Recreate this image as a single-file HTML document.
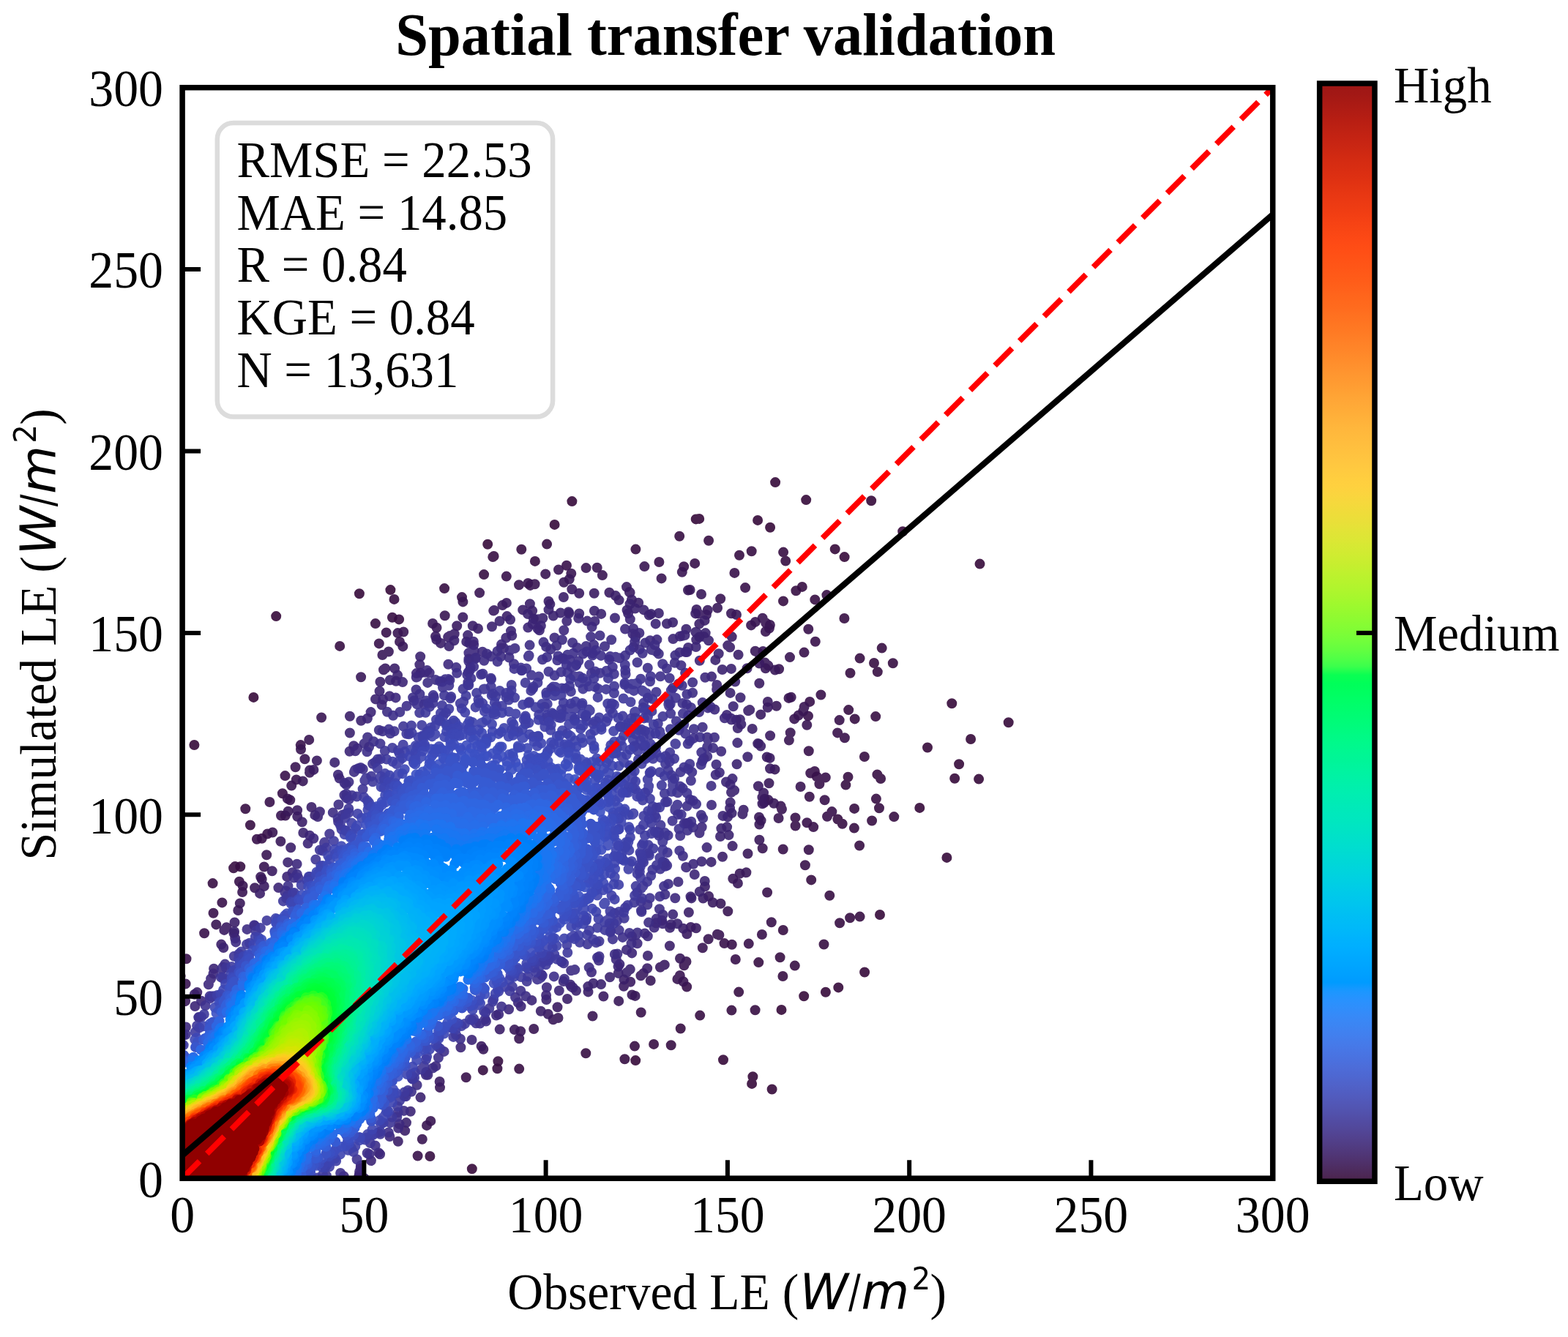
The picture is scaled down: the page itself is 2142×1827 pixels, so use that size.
<!DOCTYPE html>
<html lang="en"><head><meta charset="utf-8"><title>Spatial transfer validation</title>
<style>html,body{margin:0;padding:0;background:#fff}svg{display:block}text{font-family:'Liberation Serif', serif;fill:#000}.t{font-size:70px}.m{font-family:'DejaVu Sans', 'Liberation Sans', sans-serif;font-style:italic}.r{font-family:'DejaVu Sans', 'Liberation Sans', sans-serif;font-style:normal}</style></head><body>
<svg width="2142" height="1827" viewBox="0 0 2142 1827">
<defs><clipPath id="ax"><rect x="249.10" y="119.70" width="1489.60" height="1490.50"/></clipPath>
<linearGradient id="cb" gradientUnits="userSpaceOnUse" x1="0" y1="117.0" x2="0" y2="1611.0">
<stop offset="0.0000" stop-color="#9f1715"/>
<stop offset="0.0078" stop-color="#a21815"/>
<stop offset="0.0156" stop-color="#a91a14"/>
<stop offset="0.0234" stop-color="#b01c14"/>
<stop offset="0.0312" stop-color="#b71e13"/>
<stop offset="0.0391" stop-color="#bd2113"/>
<stop offset="0.0469" stop-color="#c42313"/>
<stop offset="0.0547" stop-color="#c92613"/>
<stop offset="0.0625" stop-color="#cf2912"/>
<stop offset="0.0703" stop-color="#d52c12"/>
<stop offset="0.0781" stop-color="#da2e12"/>
<stop offset="0.0859" stop-color="#df3112"/>
<stop offset="0.0938" stop-color="#e43512"/>
<stop offset="0.1016" stop-color="#e93813"/>
<stop offset="0.1094" stop-color="#ed3b13"/>
<stop offset="0.1172" stop-color="#f13e13"/>
<stop offset="0.1250" stop-color="#f64214"/>
<stop offset="0.1328" stop-color="#f94614"/>
<stop offset="0.1406" stop-color="#fd4915"/>
<stop offset="0.1484" stop-color="#ff4d15"/>
<stop offset="0.1562" stop-color="#ff5116"/>
<stop offset="0.1641" stop-color="#ff5517"/>
<stop offset="0.1719" stop-color="#ff5918"/>
<stop offset="0.1797" stop-color="#ff5d19"/>
<stop offset="0.1875" stop-color="#ff621b"/>
<stop offset="0.1953" stop-color="#ff671c"/>
<stop offset="0.2031" stop-color="#ff6b1e"/>
<stop offset="0.2109" stop-color="#ff7120"/>
<stop offset="0.2188" stop-color="#ff7622"/>
<stop offset="0.2266" stop-color="#ff7b24"/>
<stop offset="0.2344" stop-color="#ff8127"/>
<stop offset="0.2422" stop-color="#ff8629"/>
<stop offset="0.2500" stop-color="#ff8c2b"/>
<stop offset="0.2578" stop-color="#ff912e"/>
<stop offset="0.2656" stop-color="#ff9730"/>
<stop offset="0.2734" stop-color="#ff9c32"/>
<stop offset="0.2812" stop-color="#ffa234"/>
<stop offset="0.2891" stop-color="#ffa737"/>
<stop offset="0.2969" stop-color="#ffac38"/>
<stop offset="0.3047" stop-color="#ffb13a"/>
<stop offset="0.3125" stop-color="#ffb63c"/>
<stop offset="0.3203" stop-color="#ffba3d"/>
<stop offset="0.3281" stop-color="#ffbe3e"/>
<stop offset="0.3359" stop-color="#ffc23f"/>
<stop offset="0.3438" stop-color="#ffc640"/>
<stop offset="0.3516" stop-color="#ffca40"/>
<stop offset="0.3594" stop-color="#ffce3f"/>
<stop offset="0.3672" stop-color="#fed13f"/>
<stop offset="0.3750" stop-color="#fad53e"/>
<stop offset="0.3828" stop-color="#f5d93c"/>
<stop offset="0.3906" stop-color="#efdc3a"/>
<stop offset="0.3984" stop-color="#eadf39"/>
<stop offset="0.4062" stop-color="#e3e337"/>
<stop offset="0.4141" stop-color="#dde635"/>
<stop offset="0.4219" stop-color="#d6e933"/>
<stop offset="0.4297" stop-color="#cfec31"/>
<stop offset="0.4375" stop-color="#c7ee2f"/>
<stop offset="0.4453" stop-color="#bff12e"/>
<stop offset="0.4531" stop-color="#b7f32d"/>
<stop offset="0.4609" stop-color="#aff52d"/>
<stop offset="0.4688" stop-color="#a6f72d"/>
<stop offset="0.4766" stop-color="#9cf92e"/>
<stop offset="0.4844" stop-color="#92fa30"/>
<stop offset="0.4922" stop-color="#88fc33"/>
<stop offset="0.5000" stop-color="#7efd36"/>
<stop offset="0.5078" stop-color="#72fe3b"/>
<stop offset="0.5156" stop-color="#64fe40"/>
<stop offset="0.5234" stop-color="#52ff46"/>
<stop offset="0.5312" stop-color="#3bff4c"/>
<stop offset="0.5391" stop-color="#0aff52"/>
<stop offset="0.5469" stop-color="#00ff59"/>
<stop offset="0.5547" stop-color="#00fe60"/>
<stop offset="0.5625" stop-color="#00fe67"/>
<stop offset="0.5703" stop-color="#00fd6e"/>
<stop offset="0.5781" stop-color="#00fc75"/>
<stop offset="0.5859" stop-color="#00fb7c"/>
<stop offset="0.5938" stop-color="#00fa84"/>
<stop offset="0.6016" stop-color="#00f98b"/>
<stop offset="0.6094" stop-color="#00f792"/>
<stop offset="0.6172" stop-color="#00f598"/>
<stop offset="0.6250" stop-color="#00f49f"/>
<stop offset="0.6328" stop-color="#00f2a5"/>
<stop offset="0.6406" stop-color="#00f0ab"/>
<stop offset="0.6484" stop-color="#00eeb1"/>
<stop offset="0.6562" stop-color="#00ebb6"/>
<stop offset="0.6641" stop-color="#00e9bb"/>
<stop offset="0.6719" stop-color="#00e7bf"/>
<stop offset="0.6797" stop-color="#00e4c4"/>
<stop offset="0.6875" stop-color="#00e1c9"/>
<stop offset="0.6953" stop-color="#00dece"/>
<stop offset="0.7031" stop-color="#00dbd3"/>
<stop offset="0.7109" stop-color="#00d7d8"/>
<stop offset="0.7188" stop-color="#00d4dd"/>
<stop offset="0.7266" stop-color="#00d0e2"/>
<stop offset="0.7344" stop-color="#00cce7"/>
<stop offset="0.7422" stop-color="#00c8eb"/>
<stop offset="0.7500" stop-color="#00c4ef"/>
<stop offset="0.7578" stop-color="#00bff3"/>
<stop offset="0.7656" stop-color="#00bbf7"/>
<stop offset="0.7734" stop-color="#00b7fa"/>
<stop offset="0.7812" stop-color="#00b2fd"/>
<stop offset="0.7891" stop-color="#00aeff"/>
<stop offset="0.7969" stop-color="#00a9ff"/>
<stop offset="0.8047" stop-color="#00a5ff"/>
<stop offset="0.8125" stop-color="#00a0ff"/>
<stop offset="0.8203" stop-color="#009bff"/>
<stop offset="0.8281" stop-color="#1b97ff"/>
<stop offset="0.8359" stop-color="#2892fe"/>
<stop offset="0.8438" stop-color="#308efb"/>
<stop offset="0.8516" stop-color="#3789f7"/>
<stop offset="0.8594" stop-color="#3c85f3"/>
<stop offset="0.8672" stop-color="#4180ef"/>
<stop offset="0.8750" stop-color="#457bea"/>
<stop offset="0.8828" stop-color="#4876e5"/>
<stop offset="0.8906" stop-color="#4a71df"/>
<stop offset="0.8984" stop-color="#4d6cd8"/>
<stop offset="0.9062" stop-color="#4e67d1"/>
<stop offset="0.9141" stop-color="#5062c9"/>
<stop offset="0.9219" stop-color="#515dc1"/>
<stop offset="0.9297" stop-color="#5258b8"/>
<stop offset="0.9375" stop-color="#5253af"/>
<stop offset="0.9453" stop-color="#524da5"/>
<stop offset="0.9531" stop-color="#52489b"/>
<stop offset="0.9609" stop-color="#524290"/>
<stop offset="0.9688" stop-color="#513d84"/>
<stop offset="0.9766" stop-color="#503778"/>
<stop offset="0.9844" stop-color="#4f316b"/>
<stop offset="0.9922" stop-color="#4d2b5d"/>
<stop offset="1.0000" stop-color="#4c254f"/>
</linearGradient></defs>
<rect width="2142" height="1827" fill="#fff"/>
<g clip-path="url(#ax)">
<g fill="none" stroke-width="14" stroke-linecap="round">
<g stroke-opacity=".9">
<path stroke="#350a3a" d="M1338.5 770.6h0M1377.7 987.2h0M265.4 1018h0M1337.1 1064.6h0M1054.6 1488.5h0M1190.2 684.3h0M1233.2 726.2h0M1059.1 659.1h0M781.4 685.1h0M1293.4 1171.9h0M1326.1 1010h0M377.2 842.1h0M1027.1 1480.9h0M346.4 952.9h0M644.8 1597.3h0M1028.4 1471.3h0M1101.2 683.1h0M1310.1 1044.2h0M1304.2 1063.7h0M1181.1 1328.5h0"/>
<path stroke="#350a3a" d="M1300.3 961.3h0M490.9 811.3h0M1145.3 1349.4h0M757.6 716.9h0M666.2 743.7h0M1127.9 1355.8h0M955.2 708.9h0M1035.1 710.9h0M950.7 709.4h0M988 1448.2h0M533.4 806.1h0M1052.1 720.8h0M1202 1250h0M1140.7 750.4h0M1153.6 761.1h0M1256.3 1103.9h0M1098.2 1361.2h0M1267 1021.5h0M1067.5 1379.9h0M868.2 1449.1h0"/>
<path stroke="#360e42" d="M853.4 1447.2h0M538.5 818.9h0M335.3 1105.2h0M1174.6 1252.6h0M709.2 1460.6h0M674.6 760h0M673.3 761h0M1070.1 754.6h0M928.2 732.7h0M712.3 750.8h0M1031.6 1380.2h0M1161.1 1254.2h0M968.1 738.7h0M747.1 743.6h0M800.3 1439.3h0M916.7 1428.3h0M1219.8 906.2h0M1073.2 766.6h0M290.6 1207.1h0M1221.3 1116.1h0"/>
<path stroke="#360e42" d="M1125.5 1290.5h0M1026.7 753.2h0M1147.1 1261.2h0M1204.7 885.6h0M464.2 882.9h0M893.1 1426.9h0M867 1429.6h0M1085.8 1319.6h0M1069.4 1334h0M999.4 1380.6h0M1129.4 813.1h0M1010 758.7h0M341.9 1127.5h0M679.4 1460.2h0M512.9 852.1h0M1194 906h0M1198.8 918.1h0M1153.4 845h0M929.7 1405.5h0M1095.8 801.9h0"/>
<path stroke="#360e42" d="M1201 1104.2h0M1113.3 819.4h0M1191.1 1121.5h0M1203.1 1064h0M607.1 804.1h0M319.1 1186.3h0M1196.9 1091.6h0M1009.2 1355.6h0M321.2 1183.9h0M1065.6 1308.2h0M956.2 1387.6h0M1174.6 899.6h0M587.4 1580h0M1174.1 1155.5h0M1198.4 1058.4h0M1087.4 807.3h0M1196.2 979.1h0M1133.3 1223.7h0M535.9 843.8h0M661.1 785.1h0"/>
<path stroke="#360e42" d="M868.4 750.6h0M1166.9 1131.6h0M1036.3 1315.1h0M1161.5 919.7h0M1180.9 1034h0M1167.1 1104.9h0M328.3 1184.2h0M659.8 1462.4h0M1069.8 1271h0M680.4 1450.2h0M730.9 766.9h0M1167.7 982.4h0M1150.7 1125.8h0M1159.2 970.1h0M1108.2 1202.4h0M545.1 846.4h0M1158.5 1061.8h0M1144.4 1119.5h0M1155.4 1072.6h0M1070 821.4h0"/>
<path stroke="#37114a" d="M368.4 1096h0M350.9 1146.7h0M1003.4 782.9h0M1104.3 859.8h0M1153.9 1008.2h0M1040.9 1277h0M1053.8 1260.2h0M1113.8 876.7h0M1136.4 1109.1h0M1146.7 984.1h0M1130 1115.8h0M1099.9 1182.2h0M1004.8 1311h0M1022.8 1289.6h0M1144.1 1001.4h0M949.2 769.9h0M1104.8 1161.2h0M1126.6 1093.3h0M1111.2 1130.1h0M254.5 1310.3h0"/>
<path stroke="#37114a" d="M1127.8 1062.4h0M527.7 864.4h0M636.7 1472.3h0M246.6 1334.1h0M291.5 1247.8h0M357.7 1145.8h0M303.4 1233.4h0M1119.4 1071.2h0M1121.4 949.5h0M1102.4 1124.2h0M691.8 787.6h0M1018.1 803.1h0M326.9 1204.7h0M1098.5 891.6h0M1115.8 1061.3h0M389.5 1060.1h0M999.8 1290.8h0M900.4 768h0M1048.1 1219.5h0M570.6 1579.5h0"/>
<path stroke="#37114a" d="M1105.8 1088.8h0M934.2 774.2h0M1112.9 1054h0M875.7 1383.5h0M938.2 1348.5h0M774 772.7h0M1086.6 1128.5h0M1107.2 1056.5h0M365.3 1139.5h0M410.7 1018.1h0M1069.7 1160.5h0M631 816.1h0M517.8 879.4h0M1106.2 958.9h0M1086.5 1117.4h0M989.5 1289.1h0M279.1 1275.3h0M385.9 1084.2h0M1104.8 1026.2h0M1104 978.4h0"/>
<path stroke="#381552" d="M1093.6 1075h0M411 1024.1h0M1102.3 990.7h0M763 778.5h0M933.4 1341.3h0M576.8 1556.8h0M588.3 1531.9h0M543.4 865.1h0M931.8 781.7h0M880.4 774.1h0M1098.6 966h0M331.6 1210.5h0M534 1620.9h0M655.1 810.1h0M1079 898.1h0M1051.9 853.9h0M1097.2 971.8h0M800.6 776.1h0M372.3 1137.5h0M403.6 1048.2h0"/>
<path stroke="#381552" d="M1041.7 844.8h0M745.2 784.4h0M815.7 775.8h0M533.2 1619.6h0M1046.2 851.2h0M551.2 863.5h0M1050.9 858.6h0M583 1537.9h0M632.4 822.4h0M709.2 1419.3h0M982.4 1277.8h0M422.2 1010.9h0M1090.8 977.5h0M925.4 1337.9h0M439.1 980.5h0M979.9 1276.8h0M384 1114.5h0M928.8 1333h0M398.2 1073.6h0M253.6 1344.4h0"/>
<path stroke="#381552" d="M364.2 1168.2h0M295.3 1263.4h0M331.1 1219h0M1068 1105.8h0M1045.9 863h0M392.8 1091.4h0M1063.6 1118h0M780.3 783.8h0M1085.2 982.4h0M1080.7 952.8h0M709 799.2h0M1066.6 1101.6h0M1031.8 849.9h0M809.5 1388.5h0M959.8 1295.2h0M721.3 797h0M994.3 1245.2h0M967.7 1283.2h0M1041.7 1159.3h0M404.8 1065.4h0"/>
<path stroke="#381552" d="M1077.5 953.9h0M416.4 1037.2h0M934.5 1319.3h0M1079.7 1001.2h0M396.3 1093.2h0M607.7 841.3h0M1077.9 1011.6h0M1064.1 914.3h0M937.5 1314h0M729.2 1406h0M389.8 1114.6h0M984.2 818.2h0M725.5 798.8h0M903.6 790.4h0M546 876.9h0M360.8 1184.5h0M730.6 798.3h0M724.4 799.9h0M822.9 786.1h0M1026.1 854.4h0"/>
<path stroke="#391859" d="M1019.4 1192.3h0M393.6 1108.8h0M591.1 852h0M522.4 895h0M867.7 1360.9h0M777.7 791.5h0M1057.1 1097.7h0M1058.8 915.5h0M1007.9 1207h0M1037.4 1147.8h0M711.1 1409.3h0M1006 840h0M530.9 890.5h0M958 812h0M493.1 925.3h0M942.6 806h0M845.2 1367.9h0M327.8 1234.4h0M1042.3 890h0M356.2 1198.3h0"/>
<path stroke="#391859" d="M863.5 1359.4h0M770.3 795.7h0M999 838.2h0M755.7 1393.2h0M1010.6 1193.7h0M940 806.5h0M383.4 1149.7h0M762.5 1391h0M1049.5 909.6h0M929 1309.7h0M660.3 1433.7h0M984.5 1234.7h0M413.7 1067.4h0M1021.5 1166.5h0M1045.1 905.6h0M1049.6 1093.1h0M1060.7 964.8h0M1058.5 1051.4h0M1039.6 1121.3h0M348.1 1213.3h0"/>
<path stroke="#391859" d="M1037.4 1126.5h0M601 1486.1h0M980.1 830.7h0M888.7 1340h0M550.3 883.4h0M1045.8 913.3h0M1035.9 892.2h0M1001.3 1200.8h0M357.7 1201.5h0M596.5 857.8h0M702.9 1407.1h0M253.1 1368.1h0M1031.7 889.8h0M423.2 1052.5h0M1043.9 1096.8h0M1037 1116.8h0M1050.5 1070.2h0M1044.5 1091.8h0M423 1055.7h0M325.3 1244h0"/>
<path stroke="#3a1b61" d="M632.3 843.5h0M1041.5 1098.2h0M1037.2 906.5h0M1052 1050.3h0M406.1 1107.3h0M907.8 1318.4h0M1041.4 1089.5h0M1043.1 1083.4h0M950.9 1268.3h0M1051.6 1035.9h0M691.9 823.9h0M901.9 1321.7h0M973.7 1233.3h0M1048.8 958.9h0M856 802.1h0M432.9 1039.4h0M1052.1 1005.2h0M657.6 1429.8h0M781.3 805.3h0M238.7 1398.2h0"/>
<path stroke="#3a1b61" d="M306.3 1270.9h0M428.4 1051.9h0M966.8 833.8h0M686.4 827.1h0M1048.7 966.8h0M309.4 1267.3h0M748.7 1385.7h0M406.2 1115.7h0M371.7 1190.3h0M1047.7 1034.5h0M1037.3 933.7h0M824.4 1361.5h0M675 834h0M938.4 1276.3h0M674.2 834.6h0M600.6 1478h0M624.2 855.3h0M524 915.2h0M526.3 913.4h0M595 869.6h0"/>
<path stroke="#3a1b61" d="M999.7 870.1h0M943.6 1266.9h0M964.9 840h0M852.1 1347.7h0M951.5 833h0M1035.9 1074.3h0M859.9 809h0M875.4 1333.3h0M791.2 810.7h0M861.2 1341.7h0M860.6 809.8h0M878.9 1330.1h0M496.5 1619h0M360.8 1211h0M832.4 809.8h0M811.7 810.7h0M968.1 1224.7h0M1039.2 976.4h0M954.3 838.5h0M761.5 1376.2h0"/>
<path stroke="#3b1f68" d="M769.9 816h0M723.9 825.2h0M884.2 1323.3h0M1039.2 1019.6h0M1020.6 913.3h0M320.5 1260.5h0M950.2 838.4h0M596.3 874h0M738.8 1381.7h0M355.1 1220.9h0M1008.6 894.8h0M1036.9 1016.7h0M749.5 821.8h0M1000.6 1156.1h0M962.6 847.9h0M914.9 1292.5h0M840.9 814.1h0M397.2 1158.2h0M412.7 1123.3h0M682.7 1406.6h0"/>
<path stroke="#3b1f68" d="M933.3 1268.7h0M1035.2 1016.1h0M960.5 1227.5h0M997.1 884.5h0M994.2 882.1h0M477.9 978.7h0M645.8 855.2h0M852.4 1338.6h0M1014.4 1112.4h0M614.5 869.1h0M620.7 866.3h0M265.8 1358.8h0M539.1 913.4h0M714.2 833.4h0M1015.7 1106.8h0M612.1 870.6h0M751.4 825.6h0M863 819.4h0M519.4 931.7h0M987 1170.7h0"/>
<path stroke="#3b1f68" d="M845.6 820.1h0M692.6 842.1h0M955.3 852.6h0M302.3 1290.6h0M425.5 1103h0M775 1365h0M1027.7 995.9h0M872.2 823.8h0M602 878.9h0M497.8 1610.3h0M1024.2 970.1h0M963 1211.6h0M727.2 834.6h0M803.5 1355.4h0M940.9 1246.7h0M543.8 1559.8h0M553.2 1545.1h0M269.3 1356.1h0M1022.2 971.2h0M653 859h0"/>
<path stroke="#3b226f" d="M682.5 848.8h0M860.6 825.3h0M995.5 1141.1h0M963.7 865.1h0M955.8 1218.5h0M721.1 839h0M574.2 897.2h0M856 1329.1h0M749.5 833.1h0M414.3 1138h0M483.9 1616.4h0M1021.3 1034.2h0M393.2 1178.4h0M962.8 1204h0M697.1 846.7h0M925.3 1262.3h0M860.8 1324.6h0M620.4 875.2h0M821 1345.1h0M884.9 1306h0"/>
<path stroke="#3b226f" d="M998.9 913.9h0M639.1 868.1h0M672 856.2h0M532.9 929.3h0M968 875.2h0M961.7 870h0M899.9 838h0M867.6 831.5h0M1011.5 953.3h0M879.4 833.4h0M1004.2 931.5h0M543.1 922.6h0M518.5 944.4h0M981.7 893.2h0M320 1272.9h0M952 864.7h0M993.1 1130.1h0M950.3 863.8h0M457.2 1041.9h0M944.5 1227.4h0"/>
<path stroke="#3b226f" d="M999.6 1111.1h0M971.6 1177.9h0M574.5 1499.6h0M787 1353.8h0M844.6 1329.9h0M803.3 1348.1h0M489.7 1609.6h0M477.9 1001.5h0M613.5 883.1h0M765.8 837.5h0M833.1 1335.3h0M856.5 833.7h0M955.3 870.5h0M915.1 1267.7h0M776.7 836.3h0M889.4 839.1h0M746.4 1366h0M943.5 1225.3h0M319.5 1275.4h0M728.9 845.5h0"/>
<path stroke="#3b226f" d="M430.3 1113.9h0M937.4 859.8h0M1012.4 989.7h0M305.3 1295h0M919.1 850.5h0M810.5 1343.8h0M994.1 1116.3h0M984 1143h0M811.9 834.8h0M916.6 1263.2h0M886.7 840.5h0M1010.9 983.3h0M777.2 838.2h0M755.8 841.5h0M513 955.4h0M997.1 1104.5h0M732 846.6h0M741.4 844.8h0M555 1534.1h0M735.3 846.2h0"/>
<path stroke="#3b226f" d="M1003.1 1080.1h0M791.2 838.5h0M986.7 915h0M637.2 876.9h0M858.1 838.2h0M573.3 908.1h0M997.7 1096.6h0M541 930.8h0M951.2 874.1h0M977.3 901.9h0M985.3 1132.1h0M493.2 984.8h0M490.5 1605.9h0M911 852.2h0M1007.8 995.1h0M1006.6 1044.3h0M821.2 838.9h0M997.6 946.9h0M1005.8 983.8h0M999 1082.8h0"/>
<path stroke="#3c2576" d="M1007.4 1015.1h0M1001.7 965.2h0M782.6 1349.5h0M436.9 1109.3h0M727.5 852.7h0M434.1 1116.1h0M644.5 1421h0M646.8 876.8h0M641.2 879h0M935.5 868.1h0M987.5 1114.9h0M266.4 1375h0M1000.5 1064.1h0M560.8 1518.8h0M919.2 1249.6h0M790.2 844.7h0M780.6 1348.4h0M698 862.2h0M763.8 1353.7h0M932.5 868.8h0"/>
<path stroke="#3c2576" d="M997.5 1072.1h0M746.1 1359.9h0M844.5 1320.8h0M895.7 852.4h0M423.1 1141.7h0M711.6 1375.2h0M506.6 973.1h0M950.7 884h0M721.3 857.6h0M840 844.5h0M860.8 846.3h0M958.5 1177.3h0M774.3 848.8h0M999.1 983.5h0M738.9 854.9h0M928.8 869.5h0M998.4 981.4h0M726.4 1366.9h0M948.8 1195h0M629.4 1431.3h0"/>
<path stroke="#3c2576" d="M523.1 955.7h0M846.4 1317.6h0M501.9 981.7h0M461.9 1058.7h0M647.1 881.2h0M519.1 1577.3h0M292.1 1323.8h0M550 932.1h0M965.6 1158.1h0M905.3 1262.2h0M802.2 848.6h0M491.1 1601h0M569 920.1h0M477.6 1026.7h0M779.1 1345.5h0M812.4 848.9h0M734.6 859.1h0M992 1068.5h0M992.9 976.9h0M699.3 868.6h0"/>
<path stroke="#3c2576" d="M863.2 1302.4h0M420.6 1152.6h0M532.1 951.2h0M979.3 936h0M483.2 1019.2h0M940.1 885h0M691.3 871.7h0M736.9 861.3h0M521.5 963.3h0M972.1 924.6h0M380.4 1213.1h0M574.6 919.6h0M463.7 1063.6h0M321.2 1282.2h0M919.5 873.1h0M904.3 1257.8h0M955.8 902.8h0M392.2 1198h0M506.9 1586.1h0M979.1 942h0"/>
<path stroke="#3d287c" d="M544.1 1541.6h0M989.9 981.3h0M583.4 916h0M884.8 1279.2h0M517.2 1575.3h0M568.7 925.6h0M569.9 925h0M580.7 918.7h0M947.2 1180.8h0M922.3 1227.3h0M893.7 1267.6h0M938.4 891h0M865.2 858.9h0M405.6 1180.7h0M808.6 856.6h0M492.7 1596.2h0M695.1 1379.2h0M640.4 892.3h0M291.5 1330.4h0M647.8 889.8h0"/>
<path stroke="#3d287c" d="M770.3 861.3h0M936.4 891h0M288.1 1337.5h0M254 1403.5h0M905.5 1249.9h0M854 859.6h0M870.6 1289.3h0M808 1328.5h0M841.7 1311.1h0M485.4 1026.2h0M896.2 1261.3h0M455.5 1618.9h0M963.3 925.8h0M428.4 1145.8h0M685 880.6h0M463.9 1613.2h0M284.9 1345.2h0M707.8 1370h0M488.1 1022.7h0M873.4 865h0"/>
<path stroke="#3d287c" d="M982.9 1055.8h0M985.2 1026.8h0M586.7 919.5h0M545.5 1536.1h0M769.7 1341.1h0M399.6 1192.3h0M928.4 891.4h0M897.4 874.1h0M540.5 953.4h0M972 1100h0M612.4 907.8h0M746.9 1349.3h0M880.8 1275.5h0M659.1 890.8h0M275 1367.7h0M855.9 1297.9h0M864.4 866.2h0M681.2 1386h0M532.4 1553h0M976.3 969.5h0"/>
<path stroke="#3d287c" d="M896.6 1255.6h0M937.5 1185.3h0M868.1 868.5h0M595.4 1456.9h0M492.8 1592.8h0M937.1 1185h0M684.5 885.7h0M678 1387.5h0M757.5 871.4h0M977.7 1058.8h0M926.5 1205h0M888.1 875.2h0M958.7 1130.2h0M978.5 1044.7h0M688.2 885.8h0M955.5 1138.3h0M868.2 871h0M469.6 1607.2h0M640.4 900.4h0M584.4 1468.7h0"/>
<path stroke="#3d2c83" d="M771 1337.7h0M862.5 1289.3h0M718.1 1361.2h0M470.7 1070h0M970.6 965.8h0M843.4 1303.5h0M922.4 895.6h0M665.1 893.5h0M819.5 868.5h0M322.2 1287.4h0M502.1 1007.5h0M679.5 889.9h0M649.9 898.7h0M960.2 1118.1h0M971.6 1073.9h0M497.6 1016.1h0M742.5 877.6h0M894.4 881.3h0M976 1007.7h0M807.1 870.1h0"/>
<path stroke="#3d2c83" d="M767.9 874.2h0M723.6 881.6h0M703.4 885.9h0M649.5 900h0M900.9 1242.2h0M528.9 972.7h0M839.8 1303.9h0M591.2 1459.5h0M881.3 878.6h0M967 967.4h0M640.3 903.7h0M804.7 1322.1h0M337.5 1269.9h0M974 1022.1h0M696.7 888.7h0M664 1395.6h0M886.1 1260.6h0M867.2 877.1h0M957.9 1113.8h0M930.4 909.3h0"/>
<path stroke="#3d2c83" d="M835.2 874.3h0M473.1 1072.3h0M623.2 912.1h0M868.5 1277.9h0M670.8 897.1h0M782.1 878.2h0M454.8 1110.4h0M946.1 932.5h0M959.7 960.1h0M936.1 919.6h0M921.8 905.7h0M870.8 1274.5h0M896.4 890.2h0M581.9 1468.8h0M889.8 887.4h0M746.2 883.9h0M890.2 888h0M760.3 882.3h0M568.5 942.4h0M551.8 1517.9h0"/>
<path stroke="#3d2c83" d="M817.9 1312.6h0M908.4 1222.2h0M584.2 932.9h0M476.5 1068.6h0M899.8 893.5h0M932.9 1169.8h0M485.1 1052.1h0M966.9 1010.6h0M483.8 1054.9h0M661.3 902.7h0M684.1 897.2h0M966.1 1007.5h0M863.1 1279.5h0M966.2 1033.7h0M946.7 1130.6h0M966.1 1020.8h0M865.4 884.3h0M594.8 928.9h0M462.5 1099.5h0M811.1 881.1h0"/>
<path stroke="#3d2c83" d="M752.3 887.3h0M873.5 887.4h0M785.2 1325.1h0M800.7 883h0M504.4 1577.3h0M912.9 1207.9h0M946.1 946.8h0M788.4 884.9h0M517.8 997.7h0M470.4 1086.5h0M826.1 883.3h0M250.5 1414.5h0M780.2 1326.2h0M695.5 898.5h0M642.7 911.7h0M504.1 1020.7h0M959.7 993.7h0M955 973.1h0M569.6 1482.8h0M961.6 1036.4h0"/>
<path stroke="#3d2f89" d="M530.8 1547.5h0M489.1 1050.2h0M877.7 892.7h0M647.1 911.1h0M860.7 888.5h0M901.4 1225h0M655.7 1398.5h0M722.6 895.8h0M951.1 1098.7h0M501.4 1027.3h0M944.2 1122.8h0M401.4 1199.5h0M905.2 907.2h0M662.7 1392.7h0M624.2 919.8h0M943.2 1124.5h0M816 1308.5h0M679.6 904h0M721.9 897.1h0M959.4 1039.9h0"/>
<path stroke="#3d2f89" d="M756.8 1334.4h0M818.6 1306.9h0M628.9 1419.7h0M510.4 1013.2h0M939.1 1134.7h0M473.3 1084.9h0M813.9 888.5h0M537 977.8h0M564.1 953.2h0M704 1362.7h0M910.9 913.5h0M957.8 1045.1h0M907.1 1211.1h0M958.3 1028.1h0M582.2 1464.9h0M601.1 931.1h0M928.3 1162.4h0M801.4 890.4h0M405.8 1194.7h0M931.8 936.7h0"/>
<path stroke="#3d2f89" d="M685.1 1375.4h0M608.4 928.2h0M393.5 1210.8h0M956 1007.2h0M783.1 892.8h0M938.4 948.8h0M859.8 1274.9h0M641.8 916.3h0M939.8 1124.7h0M492.7 1049h0M573.4 948.4h0M775.4 894.8h0M747.2 898h0M762.5 896.4h0M347.3 1264.2h0M465.1 1602.9h0M926.9 934.4h0M612.4 927.9h0M796.5 893.5h0M809.7 892.8h0"/>
<path stroke="#3d2f89" d="M946.7 1094.1h0M604.3 931.8h0M944 966.9h0M522.6 999.3h0M854.1 895.7h0M562 1491.8h0M639.6 918.8h0M741.1 901.2h0M850.6 1280.9h0M303 1324.1h0M937 1124.9h0M512.6 1565.4h0M304.5 1321.7h0M473 1090.4h0M598.9 1445.2h0M809.4 895.5h0M546.3 973h0M555.6 964.7h0M768.3 899.7h0M821 895.9h0"/>
<path stroke="#3d2f89" d="M914.7 926.8h0M501.6 1575.8h0M702 907.2h0M614.4 929.4h0M833.5 896.9h0M840.9 897.7h0M938 962.5h0M771 900.7h0M565.5 957.6h0M947.9 996.2h0M761.4 902.2h0M934.6 1125.4h0M833 897.8h0M307.4 1317.6h0M846.4 899.2h0M929.2 1142h0M942.6 1092.6h0M778.4 901.7h0M638.3 922.2h0M870.6 905.3h0"/>
<path stroke="#3d2f89" d="M606.6 1436.9h0M947.5 1008.9h0M253.8 1413.8h0M348.2 1265.1h0M495.8 1050.9h0M940.2 977.8h0M938.6 1101.6h0M884.8 912.7h0M832.2 901.2h0M932.5 961h0M919.1 940.1h0M790.3 903.4h0M902.1 924.3h0M943.9 1066.8h0M945.3 1055.1h0M884.4 1236.2h0M390.7 1217.4h0M711.3 1354h0M911.2 1182.8h0M389.3 1219.4h0"/>
<path stroke="#3e328f" d="M876.4 1246.1h0M927.5 1132.8h0M711.4 912.5h0M542.3 1526.2h0M531.2 996.6h0M773.8 908.5h0M702.5 913.9h0M916.8 943.5h0M938.4 1083.7h0M942.4 1012.5h0M887.7 1227.2h0M853.8 908.5h0M650.3 1398.3h0M659.5 920.8h0M923 953.7h0M908.7 1183.7h0M787.4 908.4h0M719.1 913.5h0M942.2 1043.9h0M933 975.1h0"/>
<path stroke="#3e328f" d="M657.1 921.8h0M876 1244.1h0M605 939.5h0M930.7 1113.1h0M786.2 909.9h0M805.1 908.6h0M735.7 1337.8h0M476.8 1092.2h0M487.6 1584.2h0M780.9 911.4h0M939.9 1050.9h0M613.3 936.7h0M712.9 915.7h0M888.9 924.2h0M939.7 1016.6h0M519.4 1016.3h0M738.5 1336h0M271.3 1390.1h0M461.6 1118.5h0M734 1338.4h0"/>
<path stroke="#3e328f" d="M712.5 916.3h0M837 1283.4h0M643.4 926.9h0M934.2 990.2h0M569.6 962.2h0M908.1 1178.8h0M936.3 1002.5h0M836.8 911.5h0M571.9 961.3h0M480.9 1087h0M906.3 1180.5h0M911.7 1165h0M854.3 916h0M749.5 917.7h0M926.2 1112.9h0M932.6 1077.1h0M271.7 1390.4h0M766.5 918.2h0M591.8 950.1h0M740.8 1333.1h0"/>
<path stroke="#3e328f" d="M888 931.2h0M901.9 1187.6h0M934.5 1048.4h0M913.2 956h0M775.3 919.1h0M905.2 1177.7h0M828.4 916.7h0M915.8 962h0M554.4 1498.3h0M812.9 917.5h0M407.6 1199.7h0M928.2 992.4h0M450.2 1139.5h0M533.2 1002.2h0M581.9 957.4h0M286.7 1361.3h0M639.4 932.2h0M875.2 927.7h0M830.1 918.4h0M854.6 921.4h0"/>
<path stroke="#3e328f" d="M726 922.6h0M280.6 1374h0M925.4 1099.8h0M845.7 1271.1h0M543.6 1520.1h0M913.3 962.4h0M807.9 920h0M757.5 923.1h0M927.5 997.7h0M929 1074.5h0M819.6 919.7h0M923.9 985.4h0M670.6 926.7h0M913.9 964.5h0M838.8 921h0M736 924.5h0M922.3 1107.1h0M922.7 1104.5h0M929.5 1055h0M770.1 1316.2h0"/>
<path stroke="#3e328f" d="M443.5 1151h0M896.5 945.8h0M783.6 924h0M918.6 1121.7h0M592.8 953h0M925.9 1083.3h0M468 1113.4h0M739.6 1331.8h0M791.6 924.3h0M671 928.4h0M462.1 1123.1h0M916.1 975.1h0M875.5 1231.9h0M912.6 1141.4h0M924.9 1082.7h0M538.6 999.3h0M443.1 1152.2h0M509.1 1043.8h0M579.4 962.5h0M639.2 935.8h0"/>
<path stroke="#3e3595" d="M436.9 1161.5h0M870.2 933.7h0M796.2 926.7h0M905.5 1161.3h0M779.2 927.9h0M640.3 936.3h0M811.4 926.9h0M830.9 926.9h0M876.7 1227.3h0M901.3 1172.1h0M866.1 934.8h0M897.1 1182.2h0M923.1 1016.7h0M863.2 934.7h0M308.7 1322.6h0M584.8 961.1h0M922.5 1016.3h0M663.5 1383.6h0M557.4 1489.9h0M853.6 933.3h0"/>
<path stroke="#3e3595" d="M512.6 1041.4h0M801.4 931.4h0M498.3 1066.5h0M500.2 1063.2h0M877.2 943.5h0M883 947.2h0M878.7 944.7h0M607 950.3h0M734.4 933.1h0M921.2 1064h0M905.2 1150.3h0M915.9 996.3h0M906.7 1144.9h0M791.9 933.1h0M908.3 1138.1h0M533 1534.3h0M818.5 1286.3h0M891.2 955.1h0M889.2 1196.8h0M853.3 935.6h0"/>
<path stroke="#3e3595" d="M717.7 933h0M767.3 1314.3h0M921.1 1036.7h0M519.5 1549.7h0M919.2 1073.3h0M632.5 941.6h0M516 1037.4h0M552.3 1498h0M476.3 1104.9h0M301.8 1335.4h0M286.9 1364.4h0M919 1067.1h0M814.4 1288.1h0M719.7 1341.1h0M319.8 1306.7h0M917.4 1081.7h0M891.4 1188.5h0M833.6 1273.8h0M885 953.6h0M852.7 1254.8h0"/>
<path stroke="#3e3595" d="M905.5 979.1h0M766.7 1313.8h0M884.1 1204.9h0M859 940.8h0M778 937.5h0M865.9 943.9h0M472.2 1112.1h0M755.8 938.4h0M839.1 937.7h0M758.6 938.7h0M591.5 960.7h0M834.2 1272.2h0M917.2 1059.3h0M551 992.6h0M804.4 938.1h0M698.7 936h0M487.4 1088.6h0M812.7 938.5h0M767.6 940.4h0M728.6 938.6h0"/>
<path stroke="#3e3595" d="M772.2 940.7h0M915.1 1028.2h0M753.1 941h0M525.8 1025.9h0M668.3 1378.1h0M573.2 974.1h0M911.5 1095.7h0M866.3 1233.3h0M505.9 1562h0M796.4 941.4h0M275 1389.6h0M914.8 1040.8h0M670.7 938.2h0M878.5 1210.8h0M817.2 941.3h0M828 941.9h0M727.9 940.9h0M913.8 1039.1h0M586.8 965.9h0M876.1 1213.8h0"/>
<path stroke="#3e3595" d="M519.7 1037.3h0M758.7 944.7h0M445.9 1606.4h0M912.8 1052.7h0M879.2 960.6h0M779.9 945h0M616.2 952h0M909 1096.1h0M890.4 971.9h0M900 1141.8h0M289.2 1362h0M902.5 1127.6h0M392.3 1223.9h0M495.6 1078.3h0M660.8 941.7h0M662.4 941.6h0M838.9 947.2h0M898.8 988.8h0M431.3 1174.5h0M725.4 943.9h0"/>
<path stroke="#3e3595" d="M900 1137.4h0M746.3 946.6h0M575.3 1461.6h0M884 969.8h0M909.1 1033.3h0M907.9 1084.4h0M842.9 1258.4h0M802.5 1290.2h0M615.3 954.3h0M579.2 1456.7h0M901.3 999.7h0M909 1043.7h0M878.6 966.7h0M623 1414.2h0M870.3 1219.8h0M898.4 1138.3h0M902.2 1003.8h0M507.2 1060.7h0M898.5 1137h0M349.6 1272.2h0"/>
<path stroke="#3e389b" d="M247.4 1426.7h0M766.6 950.2h0M880.7 970.3h0M852 1246.8h0M519.7 1546.6h0M838.5 1261.8h0M464.9 1127.7h0M851.6 954.5h0M698.5 943.5h0M476.4 1110.6h0M440.7 1162.5h0M471.7 1117.8h0M907.6 1060.4h0M757.2 950.8h0M867.1 1223.8h0M892.3 1159.5h0M244.8 1429h0M661.2 1382.1h0M746.7 950.3h0M861.5 959.3h0"/>
<path stroke="#3e389b" d="M696.4 1354.2h0M619.3 1416.9h0M566.1 1472.7h0M581.3 973.8h0M601.4 1433.1h0M893 990.1h0M810.2 1283.7h0M682.6 944h0M885 978.9h0M816.6 952.9h0M386.9 1231.4h0M269.1 1401.7h0M651.1 946.9h0M857.4 1236.9h0M732.2 1328.7h0M826.4 1270.9h0M884.5 980.7h0M515.6 1049.7h0M832.6 1265.2h0M901.1 1103.2h0"/>
<path stroke="#3e389b" d="M903.9 1073.1h0M854.1 1240.5h0M895.3 1002.3h0M543.1 1511.9h0M902.8 1035.4h0M636.6 950.9h0M535.4 1526.6h0M894.7 1136.5h0M886.8 1169.1h0M562 991.5h0M760.8 1310.8h0M691.3 947h0M552.4 1492.5h0M879.8 981.4h0M304.5 1335.2h0M695.5 948.5h0M604 963.9h0M901.4 1055.3h0M786.1 958.7h0M536 1022h0"/>
<path stroke="#3e389b" d="M875.1 1199h0M867.7 972.6h0M563.7 1474.5h0M868.1 973h0M896.1 1117.4h0M885.9 1166.3h0M673.3 947.9h0M867 972.9h0M775.3 1301.8h0M546.2 1503.8h0M835.9 961.3h0M391.2 1227.6h0M291.2 1361.2h0M644.8 1394h0M832.6 1261.8h0M769.8 960.5h0M895.9 1021.2h0M721.1 1334.4h0M278.8 1386h0M868.7 1211.1h0"/>
<path stroke="#3e389b" d="M830.2 961.5h0M896.8 1103.7h0M839 963h0M891.6 1137h0M795.5 960.9h0M896.5 1029.1h0M745.8 1318.2h0M779.8 961.6h0M248 1427.5h0M445.7 1158.5h0M894.5 1114.1h0M886.6 1000.7h0M888 1003.9h0M516.8 1547.4h0M887.7 1003.9h0M647 1391.8h0M845.6 1245.9h0M889.8 1139h0M671.8 950.4h0M703 953.2h0"/>
<path stroke="#3e389b" d="M794.7 963.5h0M364.5 1257.9h0M747.7 961.9h0M883.3 1164.9h0M869.5 982.2h0M563.2 1474.1h0M885.6 1154.7h0M867.7 981.2h0M879.1 1178.4h0M892.4 1025.6h0M677.1 951.6h0M691.3 952.6h0M555.3 1002.8h0M740.3 962.1h0M890.8 1022h0M881.1 999h0M723 959.2h0M873.9 1190.9h0M528.2 1037.5h0M888.4 1016.4h0"/>
<path stroke="#3e389b" d="M326.4 1303.5h0M890.3 1121.6h0M833.5 969.1h0M889.6 1124.7h0M355.8 1268.1h0M862.5 981.5h0M892.1 1036.8h0M781.7 967.6h0M781.8 967.7h0M891.8 1102.1h0M722 960.7h0M877.6 1176.4h0M562.9 1473.6h0M786.3 968.3h0M876 996.7h0M699.8 1348.1h0M744.1 966h0M874.8 1184.3h0M773.8 968.8h0M890.4 1108.1h0"/>
<path stroke="#3e389b" d="M633.2 958.8h0M509.2 1068.3h0M804.5 969.6h0M888.9 1031.6h0M695 956.6h0M870.7 1193.9h0M767 969.6h0M850.7 978.6h0M791.9 1287.8h0M337.1 1290.4h0M837 974.5h0M805.8 971h0M871.9 1189.2h0M873 997.9h0M839.3 1247.8h0M673 1368.8h0M878.9 1007.7h0M653.5 956.3h0M628.8 961.3h0M558.6 1003.3h0"/>
<path stroke="#3e3ba0" d="M731.3 966.3h0M876.6 1172.3h0M329.5 1300.4h0M889.8 1054.1h0M736.4 967.8h0M749.2 1312.9h0M833.7 1252.9h0M886.6 1118.9h0M714.2 962.9h0M305.2 1337.4h0M828.5 1258.1h0M873 1181.9h0M881.2 1018.5h0M884.5 1029.7h0M858.5 988.3h0M888.5 1055h0M826 1260h0M880.8 1018.6h0M737.7 1319.8h0M844.5 981h0"/>
<path stroke="#3e3ba0" d="M887.9 1091.5h0M887.7 1056.3h0M466.6 1133.3h0M562.6 1001.4h0M884 1034.7h0M795.8 975.5h0M497.2 1089.5h0M875.7 1167.2h0M816.1 1267.8h0M613.3 968.8h0M441 1604.9h0M881 1141.7h0M400 1220.4h0M754 974.3h0M878.5 1019.3h0M874.9 1011.7h0M878.7 1152.4h0M885.4 1108.3h0M862.2 995.6h0M602 974.4h0"/>
<path stroke="#3e3ba0" d="M766.6 976.1h0M868.2 1003.3h0M800.7 977.3h0M576.2 991h0M886.2 1074.2h0M749.6 1311h0M854.5 991h0M756 976h0M830.3 981.1h0M675.8 959.9h0M877 1155.3h0M755.5 976.4h0M881.9 1037h0M874.5 1165.1h0M802 1277.2h0M885.2 1079.4h0M884.8 1065.1h0M455.9 1149.3h0M635 1399h0M654.4 960.7h0"/>
<path stroke="#3e3ba0" d="M818.5 980.5h0M800.1 979.3h0M753.5 977.3h0M771.2 978.8h0M641.9 1393h0M756.9 978h0M482.8 1574.1h0M854.8 995.1h0M659.2 961.1h0M781.6 979.8h0M861.1 1000.9h0M747.5 977.2h0M818.7 981.9h0M582 1447.8h0M509.7 1550.9h0M543.8 1025.6h0M566.9 1465.4h0M762.5 980.3h0M847.6 992.7h0M550.7 1017.8h0"/>
<path stroke="#3e3ba0" d="M246.6 1431.1h0M674.2 1365.7h0M736.2 976.7h0M609.2 973.9h0M879 1127.3h0M765.7 981h0M847 993.2h0M754.1 1306.6h0M828.1 986h0M785.1 982.1h0M743.2 1313.5h0M685.8 964.8h0M865.6 1011.8h0M864.7 1010.8h0M316.5 1321.1h0M757.2 1304.2h0M833.5 1245.3h0M881.2 1083.3h0M879.4 1115h0M729.7 1322.4h0"/>
<path stroke="#3e3ba0" d="M630.4 1402h0M747.1 980.7h0M814.8 985.6h0M740.8 1314.6h0M266.8 1410.3h0M805.3 1271.7h0M812.6 985.9h0M871.3 1026.2h0M630.8 968.2h0M801.5 985h0M711.9 1335h0M876.6 1043.7h0M868.4 1020.6h0M402 1219.9h0M748.9 981.9h0M678.2 965.3h0M804.9 1271.5h0M875.2 1039.6h0M785.3 984.8h0M598.1 1430.4h0"/>
<path stroke="#3e3ba0" d="M866.5 1019.4h0M250.7 1428.1h0M605.7 978h0M520.6 1060.8h0M341 1288.7h0M596 983.5h0M865.7 1020.9h0M878.2 1093.1h0M649.6 966.4h0M877.9 1093.6h0M874.2 1133.5h0M852 1005.4h0M871.9 1037.9h0M810.5 989.2h0M743.2 984.5h0M774.4 1291h0M433.6 1609.5h0M750.6 1306.5h0M717.8 978.6h0M519.2 1064.4h0"/>
<path stroke="#3e3ea6" d="M735.6 983.7h0M750 986.6h0M536.3 1040.8h0M838.2 999.1h0M695.4 972.6h0M787 989.5h0M545.5 1029.3h0M821.4 993.4h0M704.5 975.4h0M411.7 1209.5h0M792.8 990.3h0M664.4 968.4h0M507.8 1550.6h0M875.3 1088.4h0M777.3 990.1h0M348.9 1280.3h0M796.7 991.5h0M784.6 1283h0M862.8 1177h0M785.4 1282.3h0"/>
<path stroke="#3e3ea6" d="M450 1594.3h0M674.9 970h0M600.4 984h0M717.7 981.1h0M839.7 1228.9h0M860.8 1024.5h0M817.6 1255.4h0M790.5 1278.1h0M821.6 996.9h0M526 1057.1h0M858.5 1187.8h0M718.3 982.7h0M752.8 990.7h0M523.6 1534.4h0M421.8 1198h0M583.1 1443.7h0M847.9 1012.2h0M685.7 974h0M860.1 1179.7h0M622.7 1406.4h0"/>
<path stroke="#3e3ea6" d="M715.7 983.4h0M601.5 985.4h0M635.3 973.6h0M871.7 1083.5h0M326.1 1309.7h0M498.8 1557.6h0M272.5 1404.3h0M812.2 998.2h0M662 972.1h0M793.2 995.9h0M675.4 973.4h0M588.3 994.2h0M866.8 1053.7h0M722.5 987.7h0M870.3 1088.4h0M849.8 1019.5h0M744.4 993.2h0M571.6 1007.4h0M673.5 974.5h0M488.6 1111.9h0"/>
<path stroke="#3e3ea6" d="M868.1 1067.7h0M459.1 1586.5h0M501.9 1094.1h0M594 992h0M855.8 1031.3h0M721.4 1323.7h0M676.7 976.3h0M839.2 1013.4h0M689.9 1348.6h0M553 1027.1h0M867.6 1078.1h0M561.5 1468.1h0M674.5 976.5h0M768.2 998.2h0M583.3 999.9h0M423.2 1197.9h0M862 1049.1h0M551.6 1029.2h0M845.2 1208.9h0M717.8 989.6h0"/>
<path stroke="#3e3ea6" d="M296.8 1360h0M585.4 998.8h0M860.5 1046.1h0M752.1 997.7h0M746.1 1305.1h0M783.6 1278.8h0M862 1051.8h0M480.4 1124.5h0M472.2 1135.3h0M806.7 1003.3h0M780.3 1280.9h0M577.5 1005.3h0M241.7 1437.6h0M863.2 1059.6h0M864.2 1065.2h0M859.4 1161.9h0M524.6 1064.6h0M731.1 1315.4h0M419.5 1203h0M500.2 1554.7h0"/>
<path stroke="#3e3ea6" d="M835.5 1223.8h0M842.7 1022h0M865.4 1111.6h0M472.7 1135.1h0M681.2 1354.8h0M864.5 1075.7h0M520.1 1536.2h0M699.2 986.4h0M579.9 1005h0M774.7 1002.4h0M485.3 1566.6h0M541.6 1044h0M860.9 1144h0M834.4 1018.2h0M741.5 1306.8h0M863.6 1113.1h0M849.3 1034.3h0M545.8 1039.4h0M619.7 984.8h0M852.7 1041.8h0"/>
<path stroke="#3d41ab" d="M826.4 1233.8h0M825.2 1235.3h0M858.4 1150.5h0M676.7 1357.7h0M701.5 989.9h0M587 1001.8h0M860.7 1133.7h0M549.7 1035.9h0M581.4 1005.8h0M778.5 1005.3h0M444 1595.6h0M852.4 1176.1h0M857 1155.1h0M764.5 1005h0M577.9 1009.1h0M760.4 1292.2h0M779.7 1006.2h0M841.9 1029.4h0M837.7 1025.4h0M610.8 989.9h0"/>
<path stroke="#3d41ab" d="M561.2 1024.6h0M794.1 1008.8h0M760.8 1005.9h0M807.5 1011.7h0M814.3 1246.1h0M567.8 1019h0M859.1 1130h0M713.4 997.1h0M526.1 1067.3h0M532.1 1059.5h0M470.7 1140.3h0M858.7 1075.8h0M617 988.8h0M609.9 991.6h0M797 1262.6h0M622.2 987.3h0M718.8 1322h0M838.4 1208.2h0M664.6 983.7h0M504.2 1096.9h0"/>
<path stroke="#3d41ab" d="M832.8 1025.3h0M850.4 1174.2h0M837.5 1029.7h0M854 1158.8h0M855.2 1151.1h0M520.6 1075.4h0M480 1568.9h0M754.7 1294.6h0M858 1083.1h0M595.5 1427.3h0M448.3 1169.5h0M858.7 1113.4h0M770.9 1282.4h0M800.7 1257.8h0M853.7 1063.2h0M735.1 1005.8h0M701.9 1334.9h0M475.6 1571.8h0M849.5 1171.8h0M723.3 1003.5h0"/>
<path stroke="#3d41ab" d="M852.8 1156.6h0M641.3 985.5h0M785.6 1011.9h0M729.1 1313h0M735.5 1006.7h0M530.9 1518.9h0M446.2 1592.2h0M800.3 1257h0M845.4 1046.8h0M848.3 1172.8h0M707.8 999.9h0M847.8 1173.9h0M839.7 1198.5h0M699 996.9h0M438.2 1183.2h0M570 1020.7h0M855.2 1082.8h0M795.8 1014.9h0M728.4 1006.7h0M811.4 1019.3h0"/>
<path stroke="#3d41ab" d="M502.1 1550.1h0M645.3 986.9h0M849 1166.9h0M659.5 987.2h0M315.8 1330h0M503.4 1100.5h0M852.8 1072.4h0M645.7 987.2h0M594.4 1003.4h0M457.7 1583.3h0M376.6 1255.1h0M672 989.7h0M702.1 999.7h0M590.3 1006.4h0M688.6 995h0M695.6 1338.9h0M657.4 988.1h0M801.3 1253.8h0M426.5 1611.1h0M353.2 1281.2h0"/>
<path stroke="#3d44b0" d="M830.4 1213.7h0M763.6 1014.1h0M680.1 1351.8h0M535.8 1506.6h0M457.1 1160.7h0M618.1 1405.2h0M639.8 989.7h0M638.8 989.8h0M559.5 1033.5h0M726.8 1312.9h0M541.4 1493.8h0M421.8 1204.5h0M829.1 1034.1h0M811.8 1023.7h0M853.4 1105.6h0M625.8 1398.4h0M398.1 1232.2h0M831.6 1037.2h0M787.7 1264.9h0M491 1558.3h0"/>
<path stroke="#3d44b0" d="M739.9 1302.4h0M586.8 1434h0M753.1 1014.5h0M449.9 1587.9h0M626.5 992.8h0M432.5 1191.8h0M848 1068.2h0M845.9 1062.3h0M840.1 1187.3h0M464.8 1577.4h0M712.9 1007.5h0M576 1019.5h0M850.6 1083.2h0M618.1 995.8h0M714.8 1008.3h0M852.2 1109.1h0M530.5 1068.5h0M775.9 1017.6h0M332.7 1306.8h0M771.4 1017.2h0"/>
<path stroke="#3d44b0" d="M844.4 1170.6h0M508.5 1543.5h0M836.5 1046.6h0M319.6 1325.7h0M579.9 1017.3h0M610 999.6h0M524.5 1076.6h0M809 1241.7h0M619.1 1403.6h0M729.5 1013.2h0M567.6 1027.8h0M790.4 1260.8h0M700.8 1004.8h0M756.4 1017h0M775.7 1018.8h0M787.6 1020.4h0M842.8 1060.9h0M739.3 1015.7h0M728.9 1309.7h0M529 1519.5h0"/>
<path stroke="#3d44b0" d="M308.1 1345.1h0M656 1371.3h0M626 995.6h0M684.7 1000.1h0M616.3 998.7h0M346.2 1290.6h0M449 1587.6h0M779.4 1021h0M327.8 1314.4h0M849.4 1117.3h0M703.4 1330h0M774.3 1020.9h0M828.5 1042.3h0M824.2 1216.3h0M653.2 1373.2h0M719.3 1316.6h0M839.3 1179h0M848.5 1123.7h0M797.7 1251.4h0M645.5 1379.9h0"/>
<path stroke="#3d44b0" d="M844.6 1155.6h0M834.3 1193.6h0M526.8 1522.5h0M502.4 1106.7h0M439.7 1594.7h0M556.1 1468.1h0M747.6 1293.7h0M441.1 1183h0M640 995.4h0M844.8 1077.9h0M694.8 1006.6h0M846.5 1089.6h0M397.5 1234.7h0M580.6 1020.4h0M301.4 1358.6h0M494 1117.8h0M672.7 999.6h0M523.2 1527.1h0M438.7 1186.4h0M278.3 1402.3h0"/>
<path stroke="#3d44b0" d="M840.7 1167.6h0M567.9 1031.7h0M840.1 1067h0M533.4 1069.3h0M681 1002.9h0M320.2 1326.4h0M841.7 1161.6h0M733.9 1019.6h0M843.2 1152.7h0M780.3 1265.9h0M563.6 1457.6h0M644.4 997h0M845.6 1132.9h0M653.9 997.3h0M640.2 997.3h0M619.4 1001.2h0M815.2 1036.5h0M846.3 1109.5h0M639.2 997.5h0M842.9 1151.5h0"/>
<path stroke="#3d44b0" d="M703.6 1328.3h0M845 1133.5h0M616.4 1404.2h0M838.9 1170.1h0M544.2 1057.6h0M819.2 1040.4h0M707.9 1324.6h0M540.3 1062.3h0M319.3 1328.3h0M334.6 1306.5h0M845.5 1118.7h0M731.3 1305.1h0M599.4 1419.3h0M544.9 1057.2h0M751.5 1023.3h0M697.6 1333.1h0M533 1071.2h0M441.8 1591.7h0M607.3 1007h0M815.9 1223.5h0"/>
<path stroke="#3d47b5" d="M832 1056.4h0M492.1 1554.6h0M606.6 1412.6h0M844.6 1102.8h0M726.1 1309h0M305.3 1352.4h0M432 1195.6h0M618.2 1003.6h0M379.1 1255.9h0M508.3 1102.2h0M838.6 1073.4h0M824.3 1206.6h0M577.4 1026.6h0M644.3 999.9h0M776.6 1027.5h0M829.3 1055.4h0M623.3 1002.9h0M763.7 1026.3h0M623.1 1397.5h0M686.3 1342.2h0"/>
<path stroke="#3d47b5" d="M658.2 1001.4h0M832.3 1185.3h0M757.8 1282.4h0M538.4 1494.2h0M825.1 1050.6h0M701.4 1329h0M528.3 1517.3h0M785.9 1030.2h0M487.8 1128.2h0M623.1 1003.8h0M776.4 1028.8h0M486.8 1129.7h0M836.4 1072.8h0M437 1190.4h0M720.5 1022.2h0M552.7 1051.2h0M565 1039h0M518.5 1531h0M748.1 1026.6h0M766.3 1028.4h0"/>
<path stroke="#3d47b5" d="M266.2 1420.6h0M707.8 1019.5h0M842 1117.3h0M753.8 1284.6h0M840.4 1094.8h0M569.2 1448.8h0M754.2 1284h0M710.9 1021.3h0M293.4 1376.7h0M631.4 1004.2h0M808.6 1041.3h0M327.2 1318.3h0M670.5 1007.5h0M839.3 1093.4h0M450.7 1174.5h0M830.9 1066h0M567.4 1038.4h0M268.5 1418.3h0M620.8 1006.8h0M839 1143h0"/>
<path stroke="#3d47b5" d="M798.1 1241.6h0M627.6 1005.5h0M784.9 1255.9h0M839.7 1133.9h0M707.8 1021.8h0M704.8 1324.6h0M400.6 1233.8h0M242.9 1441.7h0M485.8 1132.4h0M747.7 1029.3h0M796.1 1243.2h0M829.9 1181.9h0M549.7 1057.2h0M835.7 1083h0M825.2 1194.9h0M649.5 1005.3h0M490.4 1554h0M815.5 1214.7h0M813.9 1047.8h0M354.2 1284.9h0"/>
<path stroke="#3d47b5" d="M466.4 1156.2h0M706.7 1322.5h0M755.1 1281.7h0M837.8 1140.8h0M614.2 1010.6h0M784.1 1255.4h0M588.8 1023.4h0M838.2 1136h0M574.9 1033.7h0M564.9 1042.6h0M813.9 1216.9h0M792.9 1037.5h0M786.5 1035.7h0M838.3 1113.9h0M664.6 1009.4h0M571 1037.7h0M458 1166.8h0M533.4 1076.9h0M800.1 1041.4h0M575.7 1034h0"/>
<path stroke="#3d47b5" d="M480.9 1139.5h0M837.8 1121.1h0M421.9 1611h0M837.5 1110.7h0M665.4 1010.4h0M642.6 1007.2h0M787.6 1037.5h0M599.6 1416.4h0M830.3 1173.2h0M816.7 1209.2h0M827.4 1069.6h0M540 1070.3h0M816.4 1209h0M801.3 1043.6h0M826.7 1182.9h0M526.2 1086.7h0M534.7 1498.1h0M834.1 1093.9h0M599.8 1019.9h0M804.5 1227.7h0"/>
<path stroke="#3c4aba" d="M815.7 1208.7h0M809.1 1220.5h0M421.2 1211.8h0M818.6 1058.7h0M782.1 1254.3h0M744.3 1033.6h0M472.1 1566.3h0M835.6 1118.7h0M594.6 1023.4h0M654.3 1367.3h0M685.5 1020.5h0M479.2 1142.8h0M582.4 1432.2h0M804.8 1226.1h0M781.1 1254.7h0M476.6 1562.9h0M500.7 1117.5h0M722.1 1032.1h0M729.3 1033.1h0M834.9 1122.7h0"/>
<path stroke="#3c4aba" d="M776.2 1038.3h0M567.3 1044.4h0M826.3 1178.4h0M377.5 1260.8h0M647 1010.9h0M826.6 1075.1h0M682.8 1020.6h0M829.3 1082.3h0M818.7 1199.2h0M831.3 1089.4h0M339.2 1304.4h0M462.7 1163h0M317.6 1335.3h0M699.4 1326.6h0M536.1 1493.7h0M816.3 1059.7h0M663.2 1014.3h0M808.2 1219h0M825.7 1074.5h0M538.9 1074.1h0"/>
<path stroke="#3c4aba" d="M807.1 1051.5h0M316.7 1337.1h0M412.4 1222.7h0M377.1 1261.5h0M736.3 1294.2h0M785.5 1248.6h0M646.7 1373.4h0M800.6 1229.9h0M662.7 1014.9h0M478.6 1144.5h0M596.8 1024.2h0M828.3 1083.3h0M741.3 1036h0M817.6 1062.9h0M812.5 1057.5h0M515.1 1102h0M735.6 1036h0M830.1 1155.4h0M830.9 1096.1h0M830.9 1149.9h0"/>
<path stroke="#3c4aba" d="M472.8 1564.7h0M700.4 1029.5h0M663.8 1016.3h0M831.8 1103h0M739.2 1036.6h0M657.4 1015.1h0M615.5 1017.3h0M454.6 1577.1h0M725 1035.9h0M800.6 1227.6h0M407.5 1229h0M750.6 1280.6h0M796.8 1232.7h0M812.3 1207.6h0M806.4 1054.6h0M802.3 1052h0M792.5 1046.9h0M530.4 1085.7h0M662.3 1358.6h0M620.2 1017h0"/>
<path stroke="#3c4aba" d="M447.5 1182.5h0M794.5 1048.4h0M521.7 1095.8h0M512.1 1106.8h0M602.8 1023.6h0M578.8 1434.3h0M357.3 1284h0M593.2 1029.1h0M530.1 1086.9h0M449.2 1580.5h0M818.3 1191h0M695.5 1031h0M820.6 1184.6h0M244.2 1442.8h0M656.2 1017.5h0M679.5 1025h0M299.4 1369.8h0M617.2 1019h0M802.4 1054.4h0M800.8 1053.4h0"/>
<path stroke="#3c4aba" d="M748.5 1040.3h0M532.1 1500.1h0M795 1232.4h0M596.5 1416.4h0M701.1 1034h0M785.5 1244.2h0M790.3 1048.9h0M828.9 1140.4h0M599 1027.4h0M543 1073.8h0M424.5 1603.9h0M813.2 1066.1h0M772.9 1044.3h0M719.7 1038.5h0M590.2 1032.8h0M737.6 1289.9h0M788.8 1239.3h0M537 1488.5h0M603.7 1025.9h0M816.7 1190.7h0"/>
<path stroke="#3c4dbf" d="M822 1082.5h0M329.2 1320h0M652 1019.3h0M737.1 1041.3h0M741.6 1286h0M828.5 1129h0M780.2 1248.8h0M637.3 1018.5h0M792 1051.7h0M828.3 1128.4h0M816.3 1190h0M657.9 1021.3h0M730.2 1041.3h0M508 1114h0M731.7 1294.3h0M776 1047.2h0M724.1 1301h0M513.1 1108.5h0M729 1041.8h0M608.1 1025.7h0"/>
<path stroke="#3c4dbf" d="M641.5 1375.3h0M346.2 1298.4h0M826.4 1143.4h0M466.9 1161.7h0M543.7 1075.1h0M742.2 1284.5h0M435.7 1590.3h0M791.1 1052.9h0M678.6 1341.8h0M389 1251.1h0M819.7 1176h0M532.1 1087.8h0M517.5 1104h0M509.1 1113.4h0M826.8 1133.2h0M592.1 1419.4h0M604.5 1407.9h0M345.1 1299.9h0M810.7 1200.5h0M511 1111.5h0"/>
<path stroke="#3c4dbf" d="M425.5 1210.5h0M815.3 1188.8h0M466.1 1566.9h0M732.8 1043.3h0M507.2 1115.8h0M686.1 1033.7h0M340.3 1306h0M741.6 1044.1h0M587 1038h0M532.5 1087.9h0M815.9 1077.3h0M521.9 1099.7h0M760.3 1267h0M676.7 1030.6h0M817.6 1180.6h0M790.7 1233.3h0M731.5 1043.7h0M770.6 1256.6h0M628.4 1022.1h0M673 1029.4h0"/>
<path stroke="#3c4dbf" d="M696.1 1325.1h0M813 1192.2h0M392.1 1248.2h0M418.2 1611.2h0M736.6 1044.7h0M612.1 1026.4h0M825.5 1122.3h0M643.4 1022.8h0M798.9 1060.4h0M810.7 1197h0M432.5 1592.7h0M813.8 1076.6h0M821.5 1161.2h0M456.5 1572.9h0M717.3 1305.5h0M333.2 1316h0M657.9 1026.1h0M765 1261.2h0M508.1 1116.1h0M733.4 1290.8h0"/>
<path stroke="#3c4dbf" d="M409 1230.1h0M704.5 1041.9h0M516.6 1106.9h0M726.2 1045.3h0M319.4 1336.7h0M642.6 1373.2h0M821.3 1098.5h0M330.5 1320h0M773.2 1252.1h0M723 1045.3h0M815.3 1181.8h0M476.3 1558.7h0M437.5 1197.8h0M755.5 1269.5h0M823.6 1120.1h0M630.1 1024.9h0M526.8 1096.4h0M804.8 1206.3h0M478.4 1557h0M608.7 1402.7h0"/>
<path stroke="#3c4dbf" d="M752.8 1048.6h0M460.4 1171.4h0M815.9 1085.7h0M739.3 1047.6h0M692.2 1040.6h0M674.6 1343.6h0M386 1255.7h0M336.5 1312.2h0M767.8 1051.1h0M718.8 1046.3h0M736.1 1047.7h0M682.2 1336.4h0M811.5 1189.5h0M679.2 1036.6h0M515 1109.9h0M762.7 1050.6h0M697.2 1042.9h0M301.7 1369h0M819.7 1100.3h0M722.4 1047.2h0"/>
<path stroke="#3c4dbf" d="M247.8 1442h0M459.3 1569.8h0M500 1126.7h0M801.4 1067.5h0M817 1092.8h0M656.5 1359.6h0M509.6 1116.3h0M803.7 1205.6h0M817.1 1093.5h0M750.1 1050h0M746.7 1049.8h0M742.3 1049.6h0M665.6 1033.2h0M758.9 1051.2h0M475 1558.7h0M586.6 1043.6h0M570.5 1438.9h0M543.1 1081.2h0M483.4 1146.2h0M817.3 1097.6h0"/>
<path stroke="#3b50c3" d="M819.8 1109.2h0M450.7 1575.4h0M607.1 1403.1h0M661.5 1033.4h0M798.9 1212.2h0M568.6 1058.2h0M820.5 1128.3h0M809.2 1081.1h0M723.3 1049.8h0M641.2 1029.4h0M819.1 1148.8h0M707.9 1048.3h0M504.3 1123.5h0M558.6 1067.3h0M784.3 1234.1h0M513.7 1113.2h0M805.6 1076.5h0M819.9 1137.8h0M645.6 1030.3h0M802 1072.6h0"/>
<path stroke="#3b50c3" d="M648.6 1031.1h0M770.8 1250.2h0M785.7 1231.8h0M790.7 1224.5h0M356.1 1289.5h0M774.3 1246.1h0M385.4 1257.6h0M813 1090.6h0M605.6 1035.9h0M446.8 1189h0M819.2 1140.2h0M819.4 1130.4h0M733.2 1051.8h0M692.6 1046.7h0M440.4 1582.6h0M558.5 1068.5h0M542 1084.4h0M560.7 1066.6h0M714.4 1304.4h0M809.1 1185.5h0"/>
<path stroke="#3b50c3" d="M316.6 1343.7h0M420.9 1604.2h0M589.3 1045.2h0M809.2 1184.3h0M617.5 1392.9h0M600.7 1407.9h0M589.9 1417.8h0M326.4 1328.4h0M467.9 1165.4h0M287.1 1398.7h0M782.8 1233.5h0M801.1 1075.5h0M514.2 1114.4h0M808.4 1086.1h0M814.3 1163.5h0M732.5 1286.8h0M696.5 1320.4h0M761.7 1056.3h0M549 1078.7h0M734.1 1053.7h0"/>
<path stroke="#3b50c3" d="M630.7 1032.8h0M599 1409.1h0M577.5 1054.4h0M269.9 1423.6h0M543.7 1471h0M607.3 1038.1h0M476.9 1555.6h0M618.1 1035h0M445.9 1191.2h0M811.6 1095.3h0M656.6 1037.4h0M791 1068.3h0M785.3 1065h0M773.5 1243.9h0M629 1034h0M573.7 1058h0M748.8 1270.4h0M816.9 1131.5h0M611.5 1397.5h0M766.3 1058.4h0"/>
<path stroke="#3b50c3" d="M584.8 1050.2h0M794.6 1071.5h0M735.1 1054.8h0M573.2 1058.6h0M816.6 1134.1h0M678.6 1336.6h0M813.2 1163.1h0M805.4 1189.8h0M424.4 1598.3h0M428.2 1211.8h0M790.4 1068.9h0M699.1 1051.9h0M757.8 1057.4h0M615.6 1036.9h0M621.6 1035.7h0M697.6 1052h0M483.2 1550.8h0M675.9 1045.8h0M800.8 1079h0M813.6 1158.3h0"/>
<path stroke="#3b50c3" d="M553.8 1456.4h0M752.2 1057.2h0M771.8 1244.7h0M651.5 1038h0M558.5 1071.9h0M653.9 1039.1h0M566.4 1440.8h0M295.5 1384.4h0M548.5 1081.5h0M644.9 1367.1h0M716.5 1055.5h0M313.7 1350.3h0M776.8 1063.6h0M340.5 1310.2h0M774.7 1240.4h0M672 1046h0M448.4 1574.6h0M431.6 1589.3h0M412.1 1230.6h0M599.5 1044.2h0"/>
<path stroke="#3a53c7" d="M615.9 1038.6h0"/>
</g>
<path stroke="#3a53c7" d="M554.9 1075.9h0M524.9 1507.2h0M742.9 1057.7h0M661.9 1351.2h0M721.9 1056.8h0M555.8 1075.5h0M809.6 1169.7h0M793.5 1211.1h0M635.8 1037.6h0M813.7 1143.7h0M473.4 1161.4h0M811.2 1106.4h0M618.6 1039.2h0M418.7 1223.6h0M812.7 1150.4h0M445.6 1576.2h0M682.2 1051.7h0M536 1095.2h0M717.3 1057.6h0M813.4 1129.5h0M672.6 1049.3h0M615.2 1041h0M431.9 1209.2h0M784.1 1224.8h0M428.7 1591.5h0M435 1205.7h0M513.4 1118.9h0M693 1320.9h0M645.9 1041.6h0M693.7 1320.1h0M740.3 1060.2h0M701.2 1312.8h0M760.5 1062.7h0M783.3 1225h0M808.3 1166.9h0M657.3 1045.2h0M507.2 1532.1h0M773.1 1238.9h0M436.4 1204.6h0M805.4 1097.7h0M666.6 1049.5h0M798.1 1196.5h0M804.2 1095.5h0M667.7 1050.2h0M350.7 1299h0M756.8 1063.1h0M251.3 1442.1h0M550.2 1083.7h0M595.4 1050.6h0M713.1 1300.7h0M399.7 1245.6h0M725.4 1288.7h0M582 1422.3h0M470.5 1166.4h0M542.1 1091.5h0M763.6 1065.2h0M316 1348.5h0M631.1 1377.5h0M320.3 1341.3h0M781.8 1225.1h0M804.6 1175.8h0M494.6 1140.3h0M570.5 1067.3h0M478.5 1157.8h0M711.1 1060.9h0M803.3 1178.6h0M704.3 1308.5h0M805 1102.2h0M582.1 1059.5h0M754.9 1258h0M800.5 1093.3h0M506.1 1128.8h0M522.4 1509.7h0M787.5 1078h0M757.6 1065.5h0M806.5 1162.8h0M789 1079.5h0M239 1451.4h0M733.7 1063.3h0M633.5 1044.7h0M752.3 1065h0M805.1 1168.5h0M550.9 1456.7h0M736.4 1276.6h0M514.3 1120.7h0M779.6 1226.2h0M694.1 1061.3h0M808.9 1137h0M804 1103.5h0M560.5 1077h0M661.2 1052.2h0M633.2 1045.4h0M428.6 1214.8h0M799.3 1186.6h0M317.8 1346.4h0M287.6 1402.1h0M709 1303.1h0M770 1069.9h0M541.7 1094.1h0M808.3 1128.5h0M596.6 1053.3h0M290.7 1396.7h0M670.7 1056.2h0M426.7 1591.7h0M693 1061.8h0M808 1126.8h0M693.6 1062.1h0M731.3 1064.4h0M800.7 1181.2h0M529.2 1490h0M389 1258.2h0M790.6 1205.6h0M517.1 1118.6h0M700.9 1310.4h0M497 1139.4h0M772.7 1234.3h0M424.8 1593.7h0M606.5 1050.5h0M578.1 1064.9h0M542.4 1094.2h0M623.3 1047.1h0M765.7 1243h0M536 1477h0M790.4 1205.1h0M421.2 1223.6h0M797.6 1093.7h0M299.9 1379.8h0M807 1125.8h0M406.7 1622.8h0M671.1 1058.1h0M741.7 1269.7h0M375.3 1273h0M698 1312.9h0"/>
<path stroke="#3956cc" d="M305.6 1369.1h0M711.4 1065.2h0M595.2 1055.8h0M679.6 1330.5h0M794.3 1195.3h0M786.7 1211.1h0M663.1 1056.1h0M772 1234.1h0M673.9 1059.8h0M328.4 1330.5h0M775.4 1074.7h0M580.5 1421.9h0M803 1167.9h0M586.1 1416.4h0M685.2 1062.9h0M742.3 1268.5h0M306.7 1367.3h0M711.4 1299.3h0M725.1 1285.6h0M307.6 1365.8h0M424.1 1593.8h0M680.4 1062.6h0M452.4 1189.2h0M667.2 1058.7h0M472.8 1166.6h0M310.7 1360.1h0M775.9 1076.1h0M623.4 1049.4h0M771.8 1074.3h0M637.8 1369.2h0M519.7 1117.6h0M793.5 1091.5h0M336.1 1320h0M781.6 1079.9h0M570.6 1431.5h0M434.3 1582.3h0M718.2 1292h0M286.1 1405.9h0M766.2 1240h0M781.9 1217.1h0M763 1072h0M569.6 1073.5h0M453.7 1188.2h0M625.5 1050.4h0M745.9 1263.4h0M659.5 1348.7h0M750 1258.8h0M653.3 1055.6h0M574 1070.6h0M560.1 1081.2h0M406.2 1622.6h0M647.1 1054h0M667.6 1060.9h0M691.2 1318h0M788.3 1087.2h0M670 1061.8h0M694.5 1314.7h0M426.2 1219.3h0M799.6 1173.1h0M611 1053.2h0M647.3 1054.8h0M705.8 1068.3h0M785.9 1085.9h0M716.5 1068.6h0M456.6 1185.4h0M291.2 1397.8h0M727.6 1068.9h0M541 1098.6h0M786 1086.3h0M552.2 1452.2h0M748.2 1070.5h0M802 1160.2h0M544.1 1462.9h0M803.6 1145.2h0M657.9 1059.2h0M600.8 1057.3h0M508.8 1130h0M581.4 1067.1h0M708.7 1069h0M601.9 1057h0M629.6 1052.8h0M469.1 1172h0M748.8 1258.8h0M578.5 1422.3h0M614.4 1054h0M452.3 1190.7h0M513.9 1125.3h0M267 1430.9h0M523.1 1116.3h0M235.8 1455.1h0M599.9 1058.5h0M765.1 1238.8h0M764.7 1239.3h0M630.8 1053.8h0M783 1211.3h0M790.9 1094h0M383.6 1266h0M802.5 1145.2h0M588.4 1064.4h0M583 1067.4h0M774.4 1225.2h0M798.8 1168.9h0M673.8 1333.6h0M628.8 1375.6h0M761.6 1075.5h0M356.8 1295.5h0M552.3 1090.4h0M443 1201.7h0M796.5 1106.7h0M797.2 1173.8h0M515.6 1124.6h0M492.5 1147.9h0M485.5 1155.3h0M783.4 1208.7h0M792.5 1188.1h0M772.1 1227.3h0M700.5 1071.4h0M658.9 1063.4h0M774.5 1082.3h0M689.4 1071.4h0M419 1598.4h0M567 1080.1h0M752.5 1075h0M473.3 1551.4h0M530.4 1111.4h0M646.5 1060.9h0M407.4 1618.1h0M751.9 1252.4h0M540.2 1466.5h0M746.2 1258.8h0M710.1 1073.1h0M736.7 1073.6h0M728.7 1073.3h0M719.2 1073.3h0M573.6 1076.1h0M731.9 1274.1h0M598.3 1402h0M702.4 1304.1h0M751.6 1252.2h0M331.6 1328.7h0M670 1069.6h0M714.8 1073.9h0M614.3 1059.1h0"/>
<path stroke="#365bd3" d="M771.8 1225h0M360 1292.8h0M430.7 1583.1h0M481.4 1161.2h0M555 1091h0M781.3 1090.8h0M637.1 1060.9h0M666.5 1070.1h0M652 1065.4h0M660.9 1068.5h0M568.2 1430.8h0M553.5 1092.5h0M716.9 1075h0M719.6 1285.8h0M753.1 1077.7h0M625 1060h0M770.9 1084.1h0M521.5 1502.5h0M684.5 1074.2h0M478.3 1547.6h0M793.8 1111.2h0M505.5 1136.9h0M524.3 1118.8h0M726.6 1278.2h0M541.2 1464h0M742.7 1260.9h0M713.5 1075.5h0M458.2 1560.3h0M602 1064.1h0M537 1107.3h0M278 1420.6h0M789.1 1102.7h0M775.6 1216.6h0M576.4 1076.7h0M430.2 1217.8h0M579.4 1418.8h0M785.3 1097.4h0M376 1275.9h0M639.5 1363.8h0M240.5 1453.2h0M600.7 1065h0M768.1 1084h0M670.1 1073h0M383.9 1267.5h0M452.8 1193h0M671 1073.5h0M680.4 1075.5h0M771.1 1086.3h0M641 1064.8h0M407.4 1242.9h0M561.5 1437.4h0M506.4 1527.7h0M546.9 1455.4h0M709.6 1077.2h0M586.6 1072.1h0M692.9 1077.1h0M705.8 1077.4h0M640 1065.4h0M795.4 1126.2h0M619.5 1381.4h0M474.6 1169.8h0M562.7 1087.6h0M648.1 1068.2h0M629.2 1063.7h0M436.6 1211.5h0M796 1138.2h0M751.9 1247.9h0M793.3 1119.1h0M785.6 1192.6h0M795.5 1152.1h0M714.6 1078.2h0M776.9 1092.5h0M743.8 1079.4h0M793.2 1166.8h0M563.1 1088h0M681.3 1077.8h0M592.2 1070.8h0M422 1227.8h0M681.6 1078.1h0M795.4 1140.7h0M280 1418.9h0M737.7 1079.4h0M639.6 1067.6h0M755.2 1242.9h0M609.1 1066.2h0M501.2 1143.4h0M729.7 1272.3h0M464.1 1182h0M793.3 1162h0M626.6 1374.1h0M550.6 1098.6h0M760.4 1084.8h0M547.5 1101.2h0M568.2 1085.6h0M667.8 1077.5h0M529.4 1479.8h0M553.7 1445.2h0M793.4 1157.3h0M620 1379.8h0M313.4 1360.9h0M787.9 1181.8h0M625.9 1066.8h0M765.5 1087.7h0M512.1 1133.3h0M534 1113.2h0M545.4 1455.8h0M629.3 1067.4h0M793 1158.4h0M649.8 1352.2h0M675.9 1079.6h0M791.8 1122.7h0M764.3 1087.4h0M611.9 1386.9h0M615.9 1383.3h0M479 1166.7h0M659.4 1076.4h0M793.4 1150.5h0M681.6 1080.7h0M704.4 1081h0M793 1155.2h0M637.6 1069.9h0M648.9 1352.9h0M546 1454.6h0M523.7 1491.1h0M674.1 1328.4h0M633.1 1367.4h0M788.5 1176.5h0M621.7 1377.8h0M578.1 1081.1h0M783.1 1105h0M740.1 1259h0M715.9 1081.5h0M708.7 1292.9h0M430 1580.9h0M792.1 1131.9h0M704.2 1082.1h0M542.5 1107h0M591.9 1074.5h0M643.9 1073.4h0"/>
<path stroke="#355ed7" d="M748.1 1249.1h0M779.6 1199.8h0M421.1 1230.1h0M777.2 1204.4h0M621 1069.6h0M523.1 1491.3h0M445.3 1566.9h0M517.4 1508.6h0M536.2 1467.3h0M624.3 1070.6h0M787.8 1118.6h0M625.9 1070.9h0M673 1082.7h0M683.2 1318.1h0M770.5 1215.6h0M718.8 1281.3h0M599.9 1073.4h0M551.8 1100.8h0M468.4 1179.2h0M598.3 1074h0M406.4 1246.3h0M729.7 1083.5h0M791.2 1141.1h0M766.8 1092.8h0M484.5 1541.4h0M752.4 1086.9h0M662.3 1081.7h0M790.8 1137.4h0M754.8 1087.7h0M607.8 1072.3h0M460.5 1188h0M786.4 1117.3h0M651.8 1348.7h0M684.9 1084.7h0M561.6 1094.1h0M788.9 1127.1h0M671.6 1328.9h0M629.7 1369h0M746.1 1249.1h0M239.7 1455.5h0M672.9 1084.9h0M302.8 1382.9h0M510.8 1137.4h0M782.7 1111.9h0M250.3 1448.2h0M763.4 1224.9h0M474.8 1173.4h0M411.6 1604.8h0M679.3 1320.8h0M717.7 1085.4h0M519.4 1500.1h0M478.6 1544.3h0M702.9 1086.1h0M765.3 1094.5h0M529.7 1120.8h0M526 1482.5h0M689 1086.7h0M695.4 1304.2h0M544.1 1454.8h0M684.7 1086.7h0M755.9 1090.3h0M557.3 1098.7h0M597.9 1076.9h0M445.7 1204.8h0M584.5 1409.6h0M460.7 1188.7h0M725.7 1271.8h0M564.8 1429.6h0M781.1 1188.1h0M681.1 1087.2h0M783.4 1116.6h0M404.6 1249.3h0M775.9 1104.8h0M555.3 1100.7h0M545 1108.6h0M721.2 1086.4h0M419.8 1591.1h0M650.1 1082.5h0M614.4 1075.3h0M532.9 1118.7h0M782.5 1182.3h0M787.2 1131.2h0M551.1 1445.2h0M661.8 1086h0M579.6 1085.7h0M568.3 1092.3h0M648.6 1350.3h0M787.7 1154.7h0M718.1 1279.4h0M785.6 1168.5h0M730.4 1087.4h0M668.2 1330.9h0M360.3 1297.1h0M677.9 1088.8h0M756.7 1232.2h0M354.3 1304.2h0M760.9 1225.8h0M738.9 1255.3h0M787.1 1139.1h0M704.3 1088.4h0M553.5 1103.3h0M765.6 1217.6h0M768 1213.3h0M731.9 1088.4h0M715.7 1088.3h0M741.7 1089.5h0M745.1 1247.1h0M285.6 1414.6h0M574.7 1089.9h0M357.5 1300.8h0M551 1105.6h0M768.1 1212.6h0M429.4 1223.7h0M740.5 1252.4h0M786.1 1138h0M771.2 1103.8h0M762 1097h0M565.3 1096h0M706.4 1089.5h0M603.2 1079.5h0M647.1 1085.5h0M592.7 1082.4h0M609.2 1385.7h0M393.4 1262h0M733.1 1089.5h0M662.7 1335.5h0M640.8 1083.9h0M524.9 1127.6h0"/>
<path stroke="#3361db" d="M453.3 1198.1h0M762.1 1097.9h0M686.5 1091.2h0M710 1089.9h0M631.9 1082.2h0M648.3 1087.1h0M442.8 1565.9h0M668.3 1091.4h0M667.1 1091.3h0M768.2 1209.9h0M784.8 1156.6h0M573.5 1092.5h0M561 1100.2h0M282 1420.2h0M784.6 1140.2h0M633.2 1083.7h0M484.8 1165.9h0M732.1 1090.9h0M778.7 1184.3h0M470.7 1547.2h0M531.4 1470.3h0M616.2 1378.6h0M528.4 1125.4h0M568.5 1423.3h0M543.9 1452.4h0M772.5 1108.9h0M332.4 1334.4h0M437.8 1215.5h0M310 1372.1h0M649.2 1347.7h0M626.4 1369.1h0M403.1 1252.7h0M717.4 1091.6h0M523.2 1130.4h0M689.9 1306.4h0M783.4 1139.2h0M604.9 1082.7h0M560.4 1431.7h0M571.4 1095.1h0M782.2 1133.1h0M308.3 1375.7h0M734.7 1256.7h0M533.4 1122.1h0M633.9 1086.1h0M541.8 1454.6h0M701.6 1093h0M652.2 1091.7h0M780.6 1172.7h0M626.2 1084.6h0M695.5 1093.7h0M671.8 1094.6h0M576.5 1414.5h0M632.1 1363.3h0M340.5 1323.5h0M286.7 1414.5h0M755.3 1228.4h0M782.8 1147.6h0M668.6 1095.2h0M388.9 1268.1h0M554 1438.5h0M377.8 1279.8h0M671.5 1095.5h0M710.3 1093.5h0M782.3 1155.9h0M712.9 1093.4h0M773.7 1192.5h0M710.4 1093.8h0M535.7 1121.4h0M370.1 1288.3h0M708.4 1094.2h0M431.3 1574.4h0M778.8 1127h0M686.2 1309.1h0M781.9 1148.9h0M653.7 1094.7h0M623.7 1086.8h0M496.4 1156.4h0M670 1097h0M653.7 1095.2h0M700.9 1293.1h0M781 1159.3h0M779.1 1130.2h0M769.9 1199.6h0M601.5 1086.5h0M525.3 1130.5h0M617.6 1086.3h0M716.2 1276.2h0M666 1097.3h0M571.3 1097.8h0M523.3 1481.7h0M656.5 1096.4h0M399.2 1624.7h0M580.1 1093.5h0M359.8 1300.3h0M751 1099.4h0M640.9 1092.9h0M614.3 1087h0M418.9 1588.6h0M564.3 1425.7h0M721.9 1095.3h0M765.8 1206.9h0M471.1 1182.1h0M545.8 1447.6h0M615.1 1087.4h0M747.3 1098.8h0M631.1 1090.8h0M285.3 1417.4h0M644.8 1094.9h0M587.2 1091.6h0M581 1094h0M778.2 1170.7h0M751.1 1100.4h0M315.4 1364.2h0M701.7 1096.9h0M376.4 1282.3h0M689 1304.9h0M520.1 1135.9h0M665.3 1099h0M544.9 1116.1h0M730.5 1096.4h0M730.5 1096.5h0M554.4 1436.5h0M737.5 1097.5h0M776.5 1175.7h0M686.7 1098.8h0M535.6 1461h0M304.9 1384.1h0M478.9 1174.8h0M725.7 1263.9h0M705.8 1097.2h0M773 1187.2h0M775 1125.3h0M709.4 1282.4h0M708.2 1283.7h0M774.1 1183.7h0"/>
<path stroke="#2f66e1" d="M775.7 1127.6h0M660.4 1099.6h0M648.4 1097.7h0M680.2 1099.7h0M519.8 1488.1h0M745.1 1099.7h0M385.3 1273.2h0M778.5 1162.5h0M649.8 1098.4h0M771.1 1118.9h0M737.2 1098.2h0M657.2 1099.8h0M566 1103h0M662.9 1100.6h0M746.9 1100.8h0M633.5 1094.3h0M693.8 1298.9h0M459.5 1195.1h0M618.8 1090.8h0M569.4 1101.4h0M524.9 1132.8h0M767 1200.8h0M537.4 1122.8h0M519.1 1489.3h0M609.2 1381.9h0M595.3 1091.6h0M601.6 1090.9h0M643.1 1098.1h0M546.2 1445.8h0M505.4 1521.7h0M465.5 1189.1h0M613.7 1091h0M587.3 1401.6h0M766.8 1114.9h0M737.8 1099.4h0M772.4 1123.8h0M776.9 1165.8h0M601.9 1091.4h0M762.4 1110.8h0M487.3 1535.8h0M582.2 1096.3h0M656.6 1337h0M745.3 1237.2h0M736.1 1099.5h0M560.1 1428.8h0M610 1091.5h0M748.1 1232.8h0M676.3 1316.6h0M765.1 1203h0M615.1 1092.1h0M347.6 1316.5h0M413.4 1595.3h0M479.2 1175.7h0M727.2 1099.3h0M574.7 1413.2h0M574.2 1413.7h0M295.7 1402.4h0M753.3 1106h0M299.1 1396.3h0M299.6 1395.4h0M642.3 1100.4h0M495.9 1159.8h0M393.9 1265.1h0M676 1103.3h0M770.5 1187.5h0M776.5 1156.4h0M431.5 1571.7h0M484.9 1170.4h0M612.3 1093.4h0M625.5 1096h0M737.1 1101.3h0M735.4 1248.9h0M447.3 1558.5h0M670.1 1104.2h0M474.1 1542.5h0M632.5 1359.4h0M767.5 1194.5h0M450.7 1556.1h0M644.3 1102.1h0M323.3 1352.6h0M666.2 1104.6h0M723.1 1100.4h0M775.2 1143.6h0M513.1 1144.9h0M286.4 1417.8h0M621.4 1096.5h0M691.5 1103.2h0M731.8 1101.6h0M511.8 1509.9h0M639.4 1102h0M521.3 1481.4h0M633.2 1100.1h0M674.1 1105.1h0M746.2 1233h0M570 1104.5h0M543.9 1447.2h0M648.7 1343.3h0M626.5 1098.2h0M738.7 1243.4h0M589 1398.7h0M757.9 1111.7h0M646.8 1104.4h0M632.8 1100.7h0M661.8 1106.1h0M750.3 1107.4h0M335 1334.8h0M251.2 1451.3h0M509.6 1514h0M439.6 1563.7h0M642 1103.9h0M500 1157.3h0M512.9 1145.8h0M731.9 1102.7h0M608.9 1096.4h0M548.1 1441.2h0M749.3 1107.9h0M727.6 1256.8h0M773.9 1159.3h0M418.2 1240.8h0M762.8 1118.4h0M717.7 1268.5h0M669.7 1107.5h0M450.8 1555.1h0M745 1232.6h0M600.3 1387.4h0M766.6 1190.6h0M749.6 1109.1h0M730.2 1103.8h0M538.3 1453.5h0M742.4 1106.4h0M355.2 1308.8h0M550.1 1438.2h0M769.8 1179.8h0M475.6 1181.4h0M759 1115.8h0M576.4 1104h0M668.1 1108.6h0"/>
<path stroke="#2d69e5" d="M716.7 1103.8h0M628.1 1102.8h0M472.9 1184.3h0M411.9 1247.9h0M772.2 1165.2h0M717.7 1104h0M710.6 1104.4h0M510.7 1148.8h0M685.3 1304h0M584.9 1401.2h0M540.7 1125.1h0M418.6 1584.9h0M627 1103.4h0M771 1170.6h0M764 1123.4h0M702.8 1105.4h0M628.2 1103.9h0M442.6 1560.3h0M772.2 1151.1h0M771.7 1164.5h0M594.4 1100h0M746.1 1109.4h0M766.3 1187.9h0M363 1300.1h0M645.1 1109.1h0M771.9 1153h0M608.4 1100.2h0M560.4 1113.2h0M644.3 1109.3h0M740.4 1107.9h0M631.5 1106.2h0M541.3 1125.5h0M662.4 1110.9h0M612.3 1375.6h0M715.5 1269.1h0M669.6 1319.9h0M538.2 1452.6h0M771.2 1153.9h0M766.3 1130.6h0M665 1111.4h0M651.8 1111.3h0M620 1368.3h0M630.3 1358.7h0M734.5 1107.4h0M755.9 1117.1h0M720.2 1106.1h0M619.4 1103.8h0M320.6 1359.6h0M743.9 1110.3h0M737.6 1108.5h0M247.4 1455.1h0M645.6 1111.8h0M768.9 1171h0M602.5 1102.3h0M653.5 1335.7h0M767.3 1136.4h0M504.5 1519.5h0M667.7 1321h0M739.3 1237h0M607.2 1103h0M690.4 1296.5h0M757.6 1120.7h0M582.3 1105.6h0M751.7 1216.8h0M543.5 1444.5h0M708.7 1107.8h0M753.5 1117.4h0M314.7 1370.6h0M623.3 1107.2h0M633.9 1110.5h0M544.4 1125h0M571 1110.1h0M768 1142.7h0M547.1 1439.7h0M640.8 1112.7h0M400.1 1261.5h0M718.9 1108h0M413 1248.3h0M747.4 1223.4h0M507.5 1514.7h0M551.1 1434.6h0M694.2 1110.2h0M580.6 1107.2h0M596.7 1104.3h0M351.2 1315.3h0M766 1137.3h0M709.7 1273.8h0M590.7 1393.8h0M524.1 1471.6h0M662.4 1325.7h0M626.3 1109.7h0M449.4 1210.5h0M385.2 1277.2h0M758.4 1201.1h0M695.7 1289.6h0M630.4 1111.6h0M437.5 1562.7h0M574.4 1110.1h0M484.1 1175.7h0M541.3 1128.3h0M559.2 1117.3h0M707 1276.2h0M735.8 1239.5h0M331.5 1343.2h0M463.6 1196.2h0M730.4 1110.6h0M689.9 1112.5h0M707.3 1110.3h0M645.7 1116.3h0M759.6 1195.9h0M474.8 1185.2h0M765.8 1174.1h0M291.4 1413.7h0M625.8 1111.9h0M744 1226.6h0M576.8 1110.3h0M671.9 1115.6h0M645.7 1116.7h0M586.9 1107.7h0M655.9 1117.4h0M672.5 1314h0M703.3 1111.3h0M450.3 1210.3h0M375.3 1288.4h0M569.3 1113.5h0M764 1138.6h0M274.4 1434.5h0M586.2 1108.3h0M720.6 1258.8h0"/>
<path stroke="#2a6ce8" d="M639.1 1116.6h0M760.6 1191h0M735.9 1238.1h0M585.4 1108.7h0M532 1136.2h0M744 1116.6h0M546.7 1126.2h0M657 1118.4h0M536.9 1132.8h0M704.4 1112.1h0M690.4 1114h0M764.9 1145.3h0M481.5 1179.4h0M750.3 1213.9h0M463.4 1197.2h0M669.9 1117.5h0M682.6 1115.6h0M454.3 1549.9h0M342.9 1327.5h0M597.8 1385.9h0M608.4 1109.6h0M617.2 1111.9h0M484.5 1534h0M607.5 1109.7h0M728 1112.8h0M539.1 1131.8h0M639.4 1118.6h0M592.4 1390.5h0M704.7 1113h0M571.9 1114.2h0M764.8 1151.4h0M610.6 1373.9h0M682.5 1302h0M600.7 1109.7h0M587.5 1394.9h0M761.5 1183.4h0M573 1114.1h0M758.3 1193.6h0M727.8 1247.5h0M416.9 1583.5h0M706.1 1113.4h0M565 1117.6h0M737.9 1116.3h0M588.1 1110.6h0M702.7 1114h0M656.8 1120.7h0M708.4 1113.6h0M616.8 1113.9h0M465.1 1543.5h0M647.8 1338.1h0M530.3 1459.4h0M710.7 1113.8h0M595.8 1386.9h0M498.4 1523.9h0M642.1 1121.1h0M760 1137.6h0M751.1 1125.1h0M284.3 1424.7h0M696.9 1285h0M438.6 1559.9h0M722.6 1114.3h0M585.7 1112.2h0M366.1 1299.7h0M309.8 1382.7h0M729.4 1115.4h0M595.6 1111.6h0M491.4 1529.2h0M471.1 1540.3h0M763.3 1162.9h0M550.2 1126.6h0M419.4 1579.4h0M517.1 1480.5h0M754.7 1130.6h0M676.5 1119.8h0M612.4 1114.8h0M609.1 1374.3h0M263 1445.4h0M736.2 1233.5h0M630.3 1354.4h0M581.2 1114h0M684.6 1118.7h0M638.4 1122.7h0M479.1 1183.5h0M467.3 1195h0M646.5 1123.7h0M599.1 1113.1h0M520.2 1474.2h0M507.6 1510.4h0M631.8 1121.9h0M724.6 1116.2h0M447.4 1215.4h0M659.5 1123.5h0M405.1 1602.9h0M689.5 1292.2h0M605.3 1114.6h0M676.9 1121.1h0M595.3 1113.9h0M716 1260.3h0M675.4 1121.6h0M473.8 1189h0M582.2 1398.2h0M264.2 1444.8h0M603.6 1115h0M408.1 1596.7h0M733.2 1118.7h0M540 1134.2h0M539.4 1445.2h0M650.4 1125.2h0M604.4 1115.5h0M606.6 1116h0M729 1117.9h0M653.1 1125.2h0M650.9 1125.3h0M603.9 1115.8h0M663.4 1124.4h0M741.7 1122.8h0M534.3 1451.9h0M569.6 1410h0M625.7 1122.4h0M659.2 1125.1h0M687.9 1120.1h0M284.9 1425h0M700.9 1118.1h0M635.9 1125h0M488.7 1175.4h0M681.8 1299.9h0M632.5 1351.3h0M689.8 1120h0M638.6 1125.7h0M654.2 1329.5h0M512.5 1491.1h0M649.5 1334.3h0M575.8 1117.8h0M686.2 1120.8h0"/>
<path stroke="#276eea" d="M633.3 1125.1h0M440 1557.4h0M756.9 1141.5h0M471.4 1539.3h0M432.1 1564h0M728.6 1119.2h0M625.6 1357.5h0M609.3 1118.6h0M709.5 1267h0M580.8 1117.2h0M697.5 1281.4h0M624.2 1123.5h0M648.6 1127.2h0M520.1 1472.6h0M599.3 1116.8h0M315.3 1374.1h0M465.9 1197.6h0M494.7 1170.5h0M688.2 1292h0M616.8 1365.6h0M289.8 1419h0M673.7 1308.2h0M704.7 1119h0M578.5 1118.2h0M555.4 1126.8h0M688.2 1291.9h0M752.2 1197.9h0M621.5 1123.4h0M756.9 1182.6h0M625.9 1125.1h0M628.4 1126h0M747 1129.8h0M401 1609.9h0M592.5 1117.5h0M689.5 1290h0M594.1 1117.7h0M628.3 1126.6h0M620.7 1124.4h0M342.1 1331.3h0M713.5 1119.6h0M598.6 1118.4h0M567.8 1122.5h0M428.3 1236.6h0M346.9 1325h0M729.3 1121.7h0M479.9 1184.8h0M746.8 1208.5h0M755.6 1145h0M483.2 1181.9h0M509.3 1501.7h0M757.7 1170.9h0M734.4 1123.7h0M655.3 1326.8h0M741.7 1127.5h0M531.6 1142.5h0M517.2 1153h0M388.4 1277.9h0M486.4 1179.2h0M595.5 1119.7h0M607.5 1122.1h0M521.3 1469.1h0M464.5 1200.2h0M449.5 1215.3h0M744.3 1130.4h0M757.4 1165.6h0M641.7 1130.9h0M656.7 1325h0M755.8 1150.1h0M707.4 1121.5h0M503.9 1164.1h0M372.5 1295h0M659.9 1129.8h0M685.5 1293.2h0M645.4 1131.3h0M735.1 1125.4h0M562.2 1126.2h0M631.5 1130.4h0M686.1 1124.9h0M580.4 1121.1h0M457.8 1207.2h0M410.1 1590.5h0M535.7 1447.5h0M541.3 1137.1h0M650.7 1131.6h0M702.1 1122.8h0M602.4 1377h0M331.9 1347.3h0M448.5 1550h0M461.1 1204.1h0M717.8 1122.7h0M743.1 1212.3h0M755.2 1175.2h0M696.1 1124.1h0M632.1 1132h0M400.9 1608.5h0M681.4 1297.1h0M443.5 1553.1h0M720.3 1123.2h0M730.3 1234.4h0M659.7 1131.5h0M324.4 1359.9h0M284.6 1427.2h0M753.4 1149.6h0M489.5 1528.3h0M446.6 1219.1h0M729.5 1235.2h0M730.9 1126.1h0M317.8 1371.7h0M587.1 1122.3h0M510.5 1492.2h0M736 1224.2h0M755.1 1164.6h0M753.5 1151.4h0M726.6 1125.3h0M624.5 1131.9h0M746.8 1201.9h0M468.3 1197.7h0M703.3 1270.3h0M737.9 1130.2h0M690.1 1286.2h0M604.8 1125.8h0M480.7 1186h0M545.8 1433.1h0M725.9 1125.7h0M514.8 1156.9h0M641 1134.9h0M719.5 1248.9h0M750.9 1145.9h0"/>
<path stroke="#1f74f0" d="M684.8 1127.9h0M726.4 1126.2h0M615.1 1130h0M714.3 1124.8h0M555.9 1131.4h0M716.7 1252.3h0M754 1168.2h0M548.7 1135.1h0M546.8 1136.1h0M712.6 1257.4h0M603.7 1126.9h0M733.2 1227.3h0M398.3 1269.2h0M569.4 1406.4h0M700.1 1126.2h0M745.8 1201.5h0M750.7 1186.5h0M651.8 1327.7h0M710.4 1260h0M739.2 1215.9h0M750.6 1149.2h0M674 1131.4h0M573.9 1126.2h0M472.9 1194.1h0M316.9 1374.2h0M722.2 1126.8h0M596.9 1126.4h0M489.5 1178.8h0M712.8 1256.2h0M718.2 1126.8h0M535.6 1143.6h0M578 1397.5h0M668.6 1309h0M740.3 1136h0M696.4 1128.1h0M677.5 1131.9h0M686.6 1288.3h0M550.5 1135.7h0M751.3 1176.3h0M514.6 1477.3h0M749.1 1149.8h0M614.1 1133.3h0M361 1309.9h0M294.1 1415.8h0M548.8 1427.9h0M592.6 1127.2h0M485.7 1182.8h0M596.8 1128.1h0M555.4 1420.2h0M499.7 1170.7h0M493.8 1175.7h0M736.6 1218.3h0M634.6 1138.7h0M727.1 1234.6h0M570.1 1404.6h0M617.1 1134.9h0M404.3 1599h0M531.2 1147.2h0M716.6 1249.8h0M750.7 1158.8h0M563.2 1131.1h0M658.4 1137.1h0M580.8 1127.5h0M747 1147.3h0M657 1320.9h0M659.6 1137.2h0M627.4 1138.7h0M679.9 1295.3h0M744 1200.6h0M533.7 1446.8h0M648.2 1139.3h0M494.6 1523.2h0M712.7 1128.5h0M397.8 1270.7h0M300.9 1405.1h0M469.9 1198.2h0M623.3 1138.3h0M635.4 1140.2h0M570.8 1403.4h0M746.6 1192.1h0M537.3 1144.1h0M705.1 1129.1h0M714.2 1129.1h0M644.6 1333.4h0M639.4 1338.7h0M322.8 1364.9h0M691 1281.8h0M587.2 1128.8h0M594.1 1129.7h0M619 1137.9h0M594.8 1130.1h0M594.1 1129.9h0M700.7 1130h0M498.3 1519.3h0M542.4 1141.5h0M588.2 1386.6h0M476.5 1192.3h0M457.1 1211h0M424.3 1567.3h0M659.3 1317.6h0M717.8 1246.4h0M742.4 1143.6h0M727.5 1231.5h0M740 1207.6h0M237.3 1466.5h0M564.9 1408.8h0M509 1491.2h0M570.7 1402.9h0M428.6 1239.9h0M655.4 1140h0M647.6 1141.4h0M729.3 1227.9h0M736.4 1214.3h0M434 1557.5h0M440.7 1227.9h0M576.3 1130.7h0M342.8 1334.4h0M727.2 1133.9h0M748.4 1170.4h0M444.1 1224.5h0M608.1 1136.5h0M628.7 1142.6h0M710.9 1131.2h0M701.3 1131.6h0"/>
<path stroke="#1a76f2" d="M668.8 1138.1h0M432 1236.8h0M742.6 1198.4h0M403.8 1598.3h0M656.8 1141.2h0M579.7 1131.2h0M747.9 1171.6h0M741.1 1145.3h0M591.2 1382.9h0M299.4 1408.7h0M614.1 1139.6h0M614.5 1361.4h0M405 1595.7h0M680.6 1135.9h0M537.4 1440.1h0M596 1133.6h0M621.6 1142.3h0M742.9 1149.1h0M674 1137.6h0M546.8 1141.1h0M628.2 1348.4h0M621.8 1354.4h0M500.6 1515.4h0M564.8 1134.2h0M746.6 1178.7h0M609 1138.6h0M726.8 1135.5h0M747.1 1172.2h0M405.7 1594.1h0M745.9 1182.4h0M520.7 1463.7h0M728.1 1227.5h0M351.1 1323.8h0M528.7 1451.8h0M263.5 1448.9h0M746.8 1168.2h0M438.3 1553.4h0M613.6 1140.8h0M654.3 1321.3h0M573.9 1398.6h0M681.8 1290.3h0M677.7 1137.5h0M742.8 1151.4h0M737.7 1144h0M524.1 1155.2h0M422.2 1247.5h0M623.2 1144.6h0M617.5 1143.2h0M743.8 1155.6h0M687.6 1136h0M708.6 1133.7h0M263.8 1448.9h0M428.9 1240.9h0M646.9 1145.4h0M611 1141.3h0M600.9 1137.5h0M665.1 1308.9h0M404 1266.2h0M741.3 1196.2h0M708.7 1255.3h0M719.7 1239.4h0M581.7 1133.9h0M479.3 1531.9h0M662.4 1311.6h0M708.8 1255.1h0M636.1 1147h0M621.8 1145.7h0M721 1136.1h0M613.8 1143.3h0M675 1139.7h0M393 1621h0M474.2 1534.3h0M519.2 1464.9h0M744.9 1174h0M537.2 1147.9h0M516.7 1161.2h0M411.4 1582.6h0M647.1 1146.6h0M694.7 1273.1h0M739 1200.7h0M737.8 1148h0M697 1136h0M516.1 1469.6h0M477.2 1532.7h0M654.3 1319.7h0M660.1 1144.7h0M390.9 1280.1h0M368.7 1303.8h0M646.6 1147.8h0M561.1 1138.5h0M603.9 1369.3h0M572.5 1398.4h0M502.1 1511.1h0M703.8 1136.4h0M735.7 1147.6h0M743.2 1167.1h0M719.6 1138h0M530 1153.2h0M734.5 1146.6h0M593.9 1378.2h0M444.5 1548.1h0M742.6 1182.4h0M665.8 1306.4h0M720.3 1138.5h0M574.1 1136.7h0M704.5 1258.8h0M472.6 1534.6h0M662.4 1145.5h0M732 1213.7h0M354.8 1320.7h0M588.2 1383h0M556.9 1140.9h0M612.8 1147.2h0M740.4 1159.7h0M740 1190.4h0M573.4 1396.8h0M717.9 1238.5h0M477.4 1532.1h0M661.4 1146.5h0M732.5 1211.7h0M607.9 1145.8h0M303.3 1404.3h0M520.2 1461.5h0M685.5 1282.5h0"/>
<path stroke="#1379f4" d="M723.6 1141.4h0M607 1145.6h0M424.1 1247.2h0M554.7 1415.9h0M563.1 1406.9h0M355.5 1320.1h0M668.2 1302.8h0M735.2 1204.5h0M667.8 1303.2h0M696.5 1268.2h0M681.2 1287.3h0M583.4 1387h0M510 1168.1h0M667.5 1145.7h0M420.6 1250.9h0M690.7 1140.5h0M675.2 1294.2h0M618.7 1354h0M480.9 1192.3h0M529.4 1447.3h0M617.5 1151.2h0M618.7 1151.6h0M650.9 1150.8h0M687.3 1141.8h0M659.3 1148.8h0M712 1245.7h0M485.9 1188.1h0M563.1 1140.9h0M566.2 1140.4h0M613.6 1358.5h0M529.9 1155.2h0M599 1372.1h0M580.5 1139.9h0M600.5 1370.6h0M645.7 1152.2h0M720.5 1231.9h0M672.3 1145.9h0M598.5 1145.4h0M528.7 1447.8h0M655.7 1315.5h0M405.1 1267.1h0M571.9 1140.5h0M402.6 1269.6h0M548.9 1146.2h0M507.8 1483.9h0M387.3 1285.3h0M734.4 1201.5h0M410.9 1261.3h0M733.7 1154.3h0M733 1153.3h0M593.1 1143.9h0M628.3 1154.8h0M424.1 1563.2h0M315 1383.9h0M644.1 1153.7h0M668.6 1147.7h0M528.6 1156.9h0M706.3 1141.5h0M390.3 1282.3h0M545.3 1425.3h0M599.9 1147.2h0M667.8 1148.4h0M721.5 1228.3h0M646 1325.3h0M683.2 1144.7h0M650.3 1320.7h0M346.2 1333.5h0M736.3 1191.7h0M429 1243.5h0M662.1 1150.3h0M476.5 1197.5h0M620 1155.2h0M736.9 1187.6h0M548.1 1421.4h0M298.9 1413.4h0M490.6 1523h0M437.7 1550.8h0M428.6 1244h0M681.8 1145.6h0M411.4 1579.5h0M640.8 1330.4h0M612.7 1153.7h0M651.5 1153.7h0M529.4 1157.2h0M672.4 1148.2h0M637.7 1156.3h0M535.4 1437.3h0M470.2 1203.5h0M705.7 1252.2h0M713.5 1144.1h0M290.6 1425.4h0M589.1 1145h0M702.9 1256h0M615.8 1355h0M409.1 1583.1h0M562.4 1143.8h0M606.5 1363.6h0M607.8 1152.9h0M615.9 1155.6h0M562 1405.5h0M574.4 1143.1h0M439.4 1549.2h0M654.1 1154h0M602.1 1150.9h0M734 1161.7h0M645.6 1156h0M723 1222.9h0M579.7 1143.8h0M736.1 1182.6h0M606.9 1153.6h0M345.2 1335.6h0M717.1 1232.7h0M433.9 1552.9h0M709.1 1145.4h0M718.6 1230h0M597 1371.7h0"/>
<path stroke="#007ef8" d="M493.8 1183.7h0M592.1 1148.2h0M698.1 1145.4h0M545.1 1423.8h0M600.3 1368.5h0M710 1145.8h0M416.9 1256.6h0M554 1413.4h0M566.7 1144.9h0M560.9 1145.8h0M558.7 1146.3h0M711.5 1241.1h0M381.2 1293h0M649.2 1156.8h0M551.4 1148.6h0M497.6 1514.8h0M439 1549h0M564 1145.6h0M726.5 1154.6h0M659.4 1154.5h0M469.1 1205.8h0M709.5 1146.7h0M638.9 1159.4h0M602.7 1154h0M488.2 1188.8h0M660.3 1307.4h0M599 1152.4h0M728.1 1156.9h0M714.3 1147.9h0M525.1 1450.1h0M384.6 1289.6h0M557.8 1408.7h0M688.3 1273.2h0M703.3 1252.7h0M639.2 1330.1h0M623.5 1160.4h0M487.9 1189.3h0M648 1158.1h0M643 1159.2h0M598.7 1152.9h0M403.4 1592.6h0M697.4 1260.9h0M733.7 1172.4h0M733.9 1183h0M731 1162.7h0M494.2 1518.7h0M345.1 1336.4h0M636.2 1160.5h0M729.4 1203.4h0M587.7 1148.7h0M663.9 1154.1h0M658.7 1155.6h0M508.2 1173.3h0M724.1 1154.3h0M329.8 1359.9h0M581.4 1147.3h0M513.2 1467.9h0M727.4 1207.9h0M688.9 1148.6h0M364.4 1312.1h0M585.9 1148.8h0M723 1218.2h0M730.1 1199.4h0M556.5 1148.4h0M653.4 1157.8h0M616.3 1352.3h0M609.5 1158.9h0M659.2 1156.4h0M660.9 1305.6h0M428.3 1556.6h0M684 1150.1h0M725.6 1211.3h0M728.6 1161.8h0M497 1514.8h0M633.9 1162.1h0M515.3 1464.1h0M657.2 1309.6h0M664 1155.4h0M562.7 1402.6h0M726.1 1158.7h0M732.3 1182.2h0M728 1161.9h0M546.6 1420.4h0M711.6 1237.8h0M528.2 1161.1h0M416.4 1258.1h0M722.4 1217.5h0M680.9 1151.5h0M644.4 1323.3h0M502.7 1178.4h0M527 1446.1h0M634 1163.1h0M678.7 1283.5h0M483.6 1194h0M652.4 1159.6h0M678.8 1283.3h0M526.5 1446.7h0M716 1152.6h0M647.1 1320.2h0M641.4 1162.4h0M445.7 1544h0M718.2 1154h0M503.5 1494.3h0M441.8 1546.1h0M565.5 1148.7h0M709.6 1239.7h0M396.3 1278.7h0M416.8 1568.8h0M630.3 1164.4h0M389.3 1285.8h0M722.9 1214.3h0M715.1 1230.1h0M603.7 1363.1h0M511.7 1172.4h0M715.6 1153.5h0M668.5 1155.9h0M729.2 1169.5h0M725.5 1161.8h0M634.9 1164.2h0M507.1 1175.8h0M611 1162.4h0M553.5 1151.2h0M553 1151.4h0M561.5 1402.9h0M479 1198.6h0M720.9 1157.4h0M591 1154.4h0M639.3 1164h0M569.8 1149.5h0M353.4 1326.6h0M595.7 1156.7h0M718.9 1156.3h0M720.5 1218.3h0M401.6 1273.6h0M597.2 1157.8h0M512.6 1466.9h0M570.2 1149.9h0M728.3 1170.6h0M570.9 1150h0M522.1 1166.2h0M449.8 1541.6h0M728.7 1175.2h0M448.8 1542h0"/>
<path stroke="#0081fa" d="M692.8 1263.1h0M415.2 1570.2h0M495.4 1185.4h0M703.1 1152.5h0M534.2 1434.4h0M504.4 1178.6h0M608.2 1163.9h0M716.7 1224.2h0M584.8 1153.9h0M649.7 1163.1h0M287.2 1431.9h0M728.5 1177.9h0M623.8 1167.1h0M620.4 1167h0M560.2 1151.6h0M671.5 1157.3h0M484.6 1525.2h0M560.9 1151.5h0M299.8 1415.3h0M728.5 1183.4h0M608.3 1164.4h0M722.4 1210.9h0M405.8 1585.3h0M664.7 1298.3h0M678.3 1155.7h0M549.4 1415h0M518.3 1457.1h0M717.1 1158.1h0M404.4 1588.1h0M718.9 1159.5h0M685.2 1272.5h0M596.5 1159.7h0M695.2 1153.3h0M718.3 1159.3h0M603.6 1163h0M712.4 1155.9h0M582.6 1153.9h0M676.1 1284.1h0M557.5 1405.8h0M550 1414.1h0M571.5 1151.9h0M721.6 1211.3h0M597.6 1160.9h0M549.4 1414.7h0M611.5 1354.1h0M447.4 1229.2h0M683.4 1155.6h0M479.8 1199.2h0M707 1155.2h0M540.5 1425.4h0M609.6 1166.4h0M568.6 1152.4h0M563.2 1152.5h0M722.8 1206.6h0M380.2 1296.5h0M553.8 1409.5h0M643.5 1321.5h0M692.5 1261.6h0M672.9 1287.4h0M725.6 1195.9h0M720.1 1163.2h0M721.2 1210.5h0M558 1153.3h0M724.6 1171.2h0M663.8 1298.3h0M593.3 1370.7h0M652 1164.6h0M673.5 1158.5h0M609.6 1167.1h0M603.6 1361.1h0M330.6 1361.2h0M708.2 1156.6h0M504.7 1481.5h0M340.6 1345.5h0M643.8 1167h0M506.8 1475.7h0M481.8 1198h0M714.9 1160.1h0M726.1 1186.1h0M605.7 1166.4h0M543.1 1157.9h0M245.2 1466h0M289.5 1430h0M555.5 1407.1h0M355.7 1325.1h0M605.9 1166.7h0M408.1 1580h0M710.4 1232.1h0M404.1 1587.5h0M564.2 1153.6h0M529.3 1439.6h0M386.3 1290.5h0M650.4 1166h0M719.9 1211.6h0M408 1580h0M639.2 1325.3h0M501.8 1496.1h0M614.3 1350.5h0M589.1 1159.5h0M304.2 1409.2h0M237.7 1470.9h0M724.3 1194.4h0M700.4 1156.8h0M596.9 1163.7h0M593.8 1162.3h0M700.1 1248.5h0M686.4 1157.6h0M328.8 1364.7h0M515.5 1172.9h0M693.7 1257.9h0M704 1242.1h0M588.3 1160.1h0M662.3 1298.7h0M677.3 1280.2h0M532 1163.6h0M510.4 1176.5h0M554.4 1155.8h0M411.9 1265.1h0M449.1 1228.6h0M473.3 1530.6h0M561.1 1400.4h0M659.3 1164.7h0M512.1 1175.4h0M655.3 1165.9h0M718.7 1212h0M616.9 1347.3h0M570.8 1390.5h0M628.7 1171.8h0M710.8 1229.4h0M381 1296.5h0M499.3 1506.2h0M653.7 1308.5h0M435.5 1548.1h0M718.7 1211.7h0M660.4 1164.6h0M623.6 1172.3h0M646.1 1168.9h0M558.7 1155.6h0M723.7 1184.6h0M420.8 1561.1h0M664.4 1164h0M609 1170.8h0M509.5 1468.5h0M460.7 1535.6h0M683.8 1270.4h0M397.7 1600.2h0M602.6 1360.2h0M537.5 1427h0M676.4 1161.6h0"/>
<path stroke="#0083fc" d="M537.8 1426.5h0M668 1290.5h0M627.4 1173.6h0M710 1228.8h0M721.4 1177.9h0M558 1156.7h0M461.4 1217.7h0M699.4 1247.1h0M721.3 1198h0M628.4 1173.7h0M584.3 1161h0M708.6 1231.2h0M690.2 1260.8h0M543.6 1418.9h0M481.2 1200.2h0M508 1470.6h0M630.8 1173.8h0M654.9 1168.3h0M402.2 1275.5h0M381.7 1296.5h0M718.2 1172.2h0M593.9 1166.4h0M553.7 1158h0M507.9 1470.5h0M571.6 1157.9h0M637.4 1173.2h0M304.5 1410h0M435.4 1547.4h0M371.9 1307.3h0M650.5 1170.1h0M721.1 1190.3h0M483.8 1198.3h0M694.1 1254.1h0M550.2 1410.7h0M710 1165h0M710.6 1225.1h0M703.7 1238.2h0M449.4 1229.6h0M658.6 1168.2h0M436.8 1546.3h0M592.5 1368.6h0M358.5 1323.1h0M717.7 1174.2h0M489.3 1194h0M487.6 1521.3h0M526.6 1168.7h0M540.6 1162.4h0M720.1 1184.6h0M633.8 1174.9h0M719.3 1179.9h0M506.9 1471.5h0M509.8 1466.3h0M523.1 1445.7h0M381.6 1297.1h0M452.2 1538.5h0M390.7 1615.7h0M515.1 1457.6h0M416.9 1564.5h0M655 1170.1h0M590.7 1167.1h0M649.3 1310.9h0M591.4 1369.1h0M710.5 1167.5h0M660.4 1297.8h0M597.8 1170.8h0M715.4 1211.5h0M391.9 1612.6h0M569 1159.3h0M663.9 1293.4h0M561.5 1397.5h0M638.8 1175.1h0M655.3 1303.6h0M551.2 1160.4h0M714.6 1211.9h0M676.9 1165.1h0M526.3 1440.3h0M658.9 1299h0M667.6 1167.6h0M428.4 1250.6h0M382.8 1296.3h0M647.8 1173.4h0M413.2 1265.5h0M460.7 1219.7h0M529.4 1435.9h0M467.9 1213.2h0M692.3 1254.3h0M554.2 1160.4h0M394.9 1604.8h0M363.3 1318.1h0M705.9 1167.2h0M427.7 1552.4h0M622.5 1178.4h0M640.6 1319.6h0M714.2 1175.1h0M497.3 1188.9h0M715.3 1207h0M393.9 1607.1h0M577.5 1381.1h0M661.4 1295.4h0M549.3 1410h0M541 1164.1h0M234.9 1474h0M531.7 1167.8h0M314.6 1393h0M681.5 1165.8h0M700.3 1166.4h0M340.6 1348.6h0M685.8 1165.6h0M663.4 1292.5h0M715.1 1204.9h0M680.8 1166.4h0M444.5 1235.6h0M714.5 1206.2h0M585.7 1372.9h0M526.2 1171.1h0M321.9 1380h0M512.1 1460.6h0M594.7 1173h0M402.1 1587.6h0M711.6 1214.9h0M578.1 1165h0M711.1 1174.6h0M709.6 1219.8h0M500.3 1490.9h0M498.8 1501.8h0M645.7 1312.9h0M368.3 1312.8h0M709.8 1219.1h0M586.8 1371.6h0M633.6 1179.1h0M540.8 1419.4h0M621.2 1180.5h0M715.2 1184.5h0M715.6 1196.8h0M604.8 1354.8h0M534.1 1428.1h0"/>
<path stroke="#0086fd" d="M599.3 1176h0M700.4 1168.3h0M702.3 1234.5h0M654.8 1302h0M466.4 1215.7h0M239.4 1471.5h0M573.6 1383.6h0M518.1 1176.3h0M476.9 1206.6h0M372.3 1308.7h0M476 1207.4h0M330.6 1365.1h0M499.3 1496.3h0M686.9 1167.9h0M667.2 1286.2h0M503 1476.8h0M714.3 1188.6h0M655.7 1174.6h0M533.5 1168.7h0M706.3 1173.1h0M369.4 1312.1h0M565.9 1163.4h0M668.7 1171.2h0M502.5 1186.7h0M586.1 1371.4h0M305.7 1410.3h0M681.8 1265.9h0M279.1 1443h0M702.2 1171.4h0M453.2 1536.9h0M571 1164.9h0M248.3 1466.2h0M246.5 1467.3h0M394.6 1603.8h0M709.9 1214h0M551 1406.1h0M556 1400.6h0M261.2 1457.5h0M421.3 1259h0M632 1326.4h0M658 1296.8h0M600.4 1357.6h0M497.4 1190.9h0M577.9 1378.6h0M373.5 1307.8h0M577.7 1168.2h0M499 1495.5h0M672.7 1277.7h0M538.1 1167.9h0M707.5 1177.3h0M701.9 1173.1h0M571.6 1166.1h0M639.1 1180.9h0M699.2 1236.5h0M524.7 1173.9h0M564.3 1164.8h0M645.4 1311.1h0M494.1 1511.9h0M452 1229.9h0M557.4 1164.5h0M387.2 1293.4h0M272.6 1448.9h0M567.4 1165.5h0M708.6 1214.1h0M583.7 1372.7h0M689.4 1252.9h0M519.2 1177.1h0M675.4 1172.1h0M706.9 1178.7h0M688.4 1171h0M601.2 1356.3h0M511.1 1182h0M637.6 1319.6h0M318.6 1387.5h0M570.2 1166.6h0M470.1 1213.6h0M284.6 1438.4h0M548.9 1165.8h0M296.7 1424.8h0M327.8 1371h0M509.6 1462.2h0M704.9 1177.6h0M579.6 1170.7h0M697.6 1173.4h0M670.2 1279.8h0M329.8 1367.8h0M678.6 1172.4h0M639.7 1182.2h0M315.1 1394.4h0M710.6 1201.1h0M706 1219h0M315.8 1393h0M321.8 1381.9h0M657.5 1295.7h0M467.2 1216.5h0M435.8 1245.8h0M667.3 1283.2h0M663.9 1176h0M696.4 1239.1h0M511.1 1182.6h0M500 1483.3h0M315.6 1393.7h0M695.3 1173.9h0M654 1179.1h0M619.4 1337.7h0M356.1 1329.3h0M300.6 1419.9h0M521.7 1442.9h0M525.5 1437.2h0M368.3 1314.5h0M709.7 1193.9h0M676.1 1174.1h0M701.4 1228h0M703.7 1179.6h0M660.8 1177.5h0M542.7 1414h0M441.8 1240.5h0M498.6 1492.7h0M509.5 1184.1h0M475.3 1210h0M680 1174.1h0M629.1 1327.4h0M461.3 1222.3h0M660.8 1290.6h0M653.2 1300h0M603.6 1185.1h0M573.6 1380.7h0M707.8 1207.5h0"/>
<path stroke="#008bff" d="M647.4 1182.2h0M451.2 1231.8h0M699.6 1178.2h0M538.9 1418.4h0M708.5 1196.4h0M592.1 1180.6h0M697.3 1177.1h0M527.6 1174.5h0M365.4 1318.4h0M472.4 1528.3h0M606.6 1186.7h0M398 1283.4h0M547.8 1407.3h0M468.3 1216.5h0M481.9 1205h0M425 1551.8h0M616.9 1188.7h0M569.4 1384.1h0M291.9 1431.8h0M637.2 1186.1h0M652 1182.1h0M448.8 1537.5h0M662 1287.7h0M427.9 1549.1h0M542.5 1413.2h0M703 1184.8h0M472.8 1527.8h0M693.9 1239.3h0M402.2 1583.6h0M515.6 1450.4h0M439.7 1243.3h0M702.8 1186h0M472 1213.9h0M705.8 1196h0M315.6 1395.2h0M502.4 1190.2h0M399 1590.2h0M592.5 1183.7h0M603.6 1188.5h0M553.1 1169.6h0M603.6 1351h0M672.8 1271.9h0M654 1183.2h0M635.2 1318.6h0M471.4 1214.7h0M311.9 1402.3h0M502.8 1471.3h0M594.9 1185.7h0M494.5 1196.2h0M680.2 1260.3h0M308.9 1407.9h0M704.3 1198.3h0M609.7 1191h0M679 1262.1h0M498.1 1193.8h0M550.7 1170.4h0M351.6 1336.7h0M594.4 1359.1h0M513.4 1184h0M573.3 1174.8h0M674.7 1179.9h0M583.2 1180.2h0M554.7 1397.7h0M509.7 1186.4h0M595.4 1357.9h0M568.3 1173h0M679.1 1179.8h0M546.6 1406.7h0M676.5 1180h0M701.8 1191.8h0M565.7 1172.4h0M606.5 1191.3h0M703 1197.5h0M680.7 1258.4h0M560.3 1171.5h0M507.7 1187.8h0M699.6 1220.3h0M459.7 1225.8h0M675.9 1265.4h0M635 1190.3h0M550.4 1171.3h0M647.6 1187.1h0M613.7 1339.9h0M652 1297.7h0M540.1 1414.3h0M678 1262.1h0M343.4 1348.8h0M405.8 1575.4h0M679.3 1259.9h0M700.8 1214.7h0M649.4 1300.6h0M456.2 1229.1h0M462.6 1223.4h0M620.2 1333.1h0M678.5 1181.2h0M465.6 1530.3h0M439.6 1244.6h0M602.6 1191.5h0M680.3 1181.3h0M617.3 1336h0M526.6 1178.1h0M585.9 1183.7h0M669.9 1182.6h0M513.4 1451.8h0M511.3 1455.1h0M462.9 1223.3h0M634 1191.6h0"/>
<path stroke="#008eff" d="M532.3 1176.2h0M597.2 1190.3h0M650.8 1187.5h0M636.1 1315.5h0M562.1 1388.7h0M409.8 1568.2h0M692.2 1235.4h0M490.4 1513.9h0M551.3 1172.5h0M632.9 1192.3h0M538.7 1415.2h0M661.5 1284h0M664.7 1279.6h0M697.4 1191.5h0M300.6 1422.4h0M453.8 1231.9h0M548 1173.1h0M676.5 1183.3h0M695.4 1189.4h0M578 1372.7h0M417.6 1557.4h0M692.8 1187.3h0M672.5 1183.8h0M676.6 1262.1h0M689.8 1239.1h0M633 1318.3h0M539 1175h0M549.8 1173.4h0M513.9 1450.2h0M596.7 1191.8h0M242.8 1471.9h0M670.8 1184.5h0M685.1 1247.2h0M496.2 1497.1h0M653.2 1294h0M576.4 1180.7h0M576.7 1180.9h0M697.5 1195.8h0M553.4 1173.8h0M543.5 1174.5h0M695.2 1191.9h0M634.8 1193.6h0M661 1283.5h0M695 1192.3h0M283.8 1441.6h0M524.1 1434.3h0M613.9 1196.6h0M237.3 1475.4h0M674.3 1264.1h0M494.8 1503.9h0M672.7 1185.7h0M523 1181.6h0M381.8 1302.5h0M644.2 1304.3h0M697.2 1213.4h0M663.1 1187.5h0M641 1193h0M364.4 1322.2h0M596.4 1354.3h0M694.7 1194.4h0M555.4 1174.9h0M515.1 1185.8h0M546 1175.1h0M634.1 1315.6h0M674.8 1186.5h0M647.2 1300.2h0M529.5 1426h0M321.9 1386.3h0M591.7 1191.9h0M553.2 1396.4h0M624.4 1197.1h0M695.1 1196.9h0M503 1466.6h0M696.6 1202.7h0M375.4 1309.7h0M642.6 1193.3h0M694.6 1220.8h0M481.1 1209.4h0M596.2 1194.6h0M532.2 1421.9h0M583.6 1365.8h0M647 1192.6h0M693.1 1195.3h0M492.7 1200.7h0M589 1191.3h0M522.1 1182.9h0M656.1 1288.3h0M696.1 1208h0M575.7 1183.3h0M586 1189.7h0M595.1 1194.6h0M245.5 1470.7h0M492.8 1200.7h0M679.7 1253h0M690.2 1231.8h0M677.4 1188.1h0M540.7 1410.5h0M629.9 1197.3h0M554.8 1176.2h0M601.1 1348.9h0M662.9 1189.5h0M609.1 1198.9h0M645.6 1193.7h0M494.4 1199.8h0M663.8 1189.5h0M674.5 1261.1h0M549.4 1399.8h0M521.9 1183.4h0M552.9 1176.2h0M302.4 1421.1h0M500.3 1471h0M607.5 1342.4h0M676.4 1188.8h0M523.8 1182.6h0M690.1 1194.3h0M444.2 1242.3h0M639.3 1195.7h0M650.2 1295h0M589.5 1359.5h0M491.9 1509.7h0M484.9 1207h0M606.5 1199.2h0M617.4 1199.7h0M690.9 1228h0M469 1220.1h0M598.2 1197.3h0M693.8 1216.1h0M673.7 1189.5h0M686.8 1237.3h0M631.3 1198.1h0M645.5 1300.5h0M690.8 1226.7h0M267.4 1456h0M647.9 1194.4h0M618 1200.4h0"/>
<path stroke="#0090ff" d="M416.1 1269.1h0M559.4 1388.3h0M640.3 1196.4h0M684.7 1192.5h0M581.4 1366.7h0M574.7 1184.9h0M659.4 1282h0M577.2 1186.4h0M480.9 1210.6h0M665.5 1191h0M687.4 1194.7h0M393.1 1599.9h0M591.1 1195.2h0M589 1359.3h0M523.7 1183.5h0M583.7 1191h0M625.2 1323.3h0M597.9 1350.8h0M350.6 1341h0M616.8 1332h0M594 1197h0M462.2 1530.4h0M510.3 1190.5h0M641.5 1197h0M542.5 1178.3h0M514.7 1188.1h0M541.4 1178.5h0M567.1 1181.9h0M664.4 1274.2h0M581.8 1190.6h0M326 1380.3h0M347.3 1345.8h0M592.6 1355.4h0M679.5 1193.1h0M568.6 1183.1h0M584.5 1193h0M501.4 1196.4h0M636.3 1310h0M690.1 1203.1h0M663.2 1193.2h0M495.9 1482.5h0M515.4 1444.3h0M687.4 1199.4h0M664.3 1193.5h0M587.6 1195.5h0M652.6 1195.7h0M551.1 1396.1h0M667.3 1268.6h0M690.2 1206.2h0M435.4 1540.7h0M687 1199.9h0M351 1341.1h0M496.5 1478.6h0M527.9 1183.1h0M682 1196.4h0M396.7 1590h0M558.5 1180.6h0M582.7 1193.4h0M584.5 1194.6h0M579.9 1191.7h0M496.7 1477.2h0M309.6 1411h0M658.4 1195.6h0M348.7 1344.5h0M342.2 1354.1h0M687.6 1203.8h0M614.4 1204.1h0M669 1264.7h0M659 1195.7h0M658.3 1280.6h0M676.2 1195.6h0M687.6 1225.2h0M269.8 1454.9h0M676.9 1250.9h0M526.3 1427.1h0M585.1 1195.9h0M612.9 1204.6h0M417.2 1554.8h0M550.8 1180.4h0M391 1603.6h0M275.3 1450.7h0M518.3 1438.7h0M622.5 1204.4h0M688.2 1214.1h0M594.9 1351.5h0M646.5 1295.6h0M425.4 1546.7h0M605.2 1341.4h0M686.1 1226.3h0M619.1 1205.2h0M428.5 1544.3h0M456.8 1232.8h0M551.9 1181h0M276.2 1450h0M497.4 1473.7h0M687.3 1219.4h0M671 1259.5h0M415.4 1556.6h0M410.3 1563.4h0M567.3 1186.2h0M548.3 1181.1h0M375.4 1312h0M629.3 1204.3h0M564.3 1185h0M509.2 1452.2h0M673.7 1198h0M651.3 1288.3h0M594.3 1351.3h0M262.6 1460.8h0M572.3 1189.8h0M487.6 1207.8h0M571.3 1189.2h0M453 1236.6h0M416.8 1554.5h0M449.5 1239.7h0"/>
<path stroke="#0095ff" d="M497.6 1472.3h0M510.8 1449.2h0M315.2 1401.9h0M437.1 1539h0M648.2 1291.7h0M571.6 1190h0M406.5 1280.3h0M430.7 1257.2h0M681.4 1204.1h0M624.6 1319.9h0M641 1203h0M619.3 1207.1h0M672.7 1199.7h0M675 1249.9h0M387.7 1610.9h0M580.3 1196.2h0M325.6 1382.9h0M554.9 1183.2h0M662.2 1199.6h0M564.6 1379.1h0M442.1 1246.8h0M675.8 1201.8h0M545.2 1182.6h0M485.1 1210.2h0M529.5 1420.5h0M653.9 1201.1h0M479.6 1214.5h0M623 1321.1h0M654 1201.3h0M675.9 1202.5h0M575 1368.5h0M677.9 1241.8h0M550.2 1183.2h0M400.7 1579.1h0M400.7 1579.1h0M530.7 1418.7h0M567.4 1189h0M486.1 1209.8h0M515.8 1191.2h0M595.4 1206.2h0M589 1203.3h0M651.4 1202.5h0M681.8 1228.8h0M558 1385.2h0M682.7 1221.8h0M561.3 1381.7h0M623.3 1320h0M527.7 1422.4h0M492.8 1500.9h0M535.6 1184.7h0M601.4 1342.6h0M561 1381.8h0M503.2 1198.6h0M385.7 1302h0M629 1313.2h0M467.8 1224.8h0M589 1354.3h0M506.3 1196.9h0M651.4 1284.7h0M647.2 1290.4h0M473.7 1220h0M652.9 1203.7h0M516.6 1191.6h0M667.6 1203.4h0M460.2 1529.7h0M677.8 1208.7h0M529.9 1186.6h0M513 1193.4h0M494.4 1479.6h0M234.9 1479.2h0M579.1 1199h0M415 1555.5h0M605.2 1210.7h0M567.8 1191.6h0M545.1 1398.8h0M503 1459.6h0M440.9 1536.6h0M493.5 1485.5h0M569.1 1192.6h0M583.7 1202.7h0M641 1297.7h0M679 1230.8h0M676.9 1237.7h0M545.4 1398.2h0M488.1 1209.4h0M445.3 1245h0M375.2 1313.7h0M672.1 1248.6h0M447.9 1242.8h0M253.8 1467.7h0M608.8 1211.8h0M448.3 1242.5h0M369.4 1320.4h0M644.6 1207.2h0M632.7 1209.7h0M506.6 1197.7h0M515.3 1439.5h0M675.3 1210.8h0M407.9 1564.8h0M661 1205.6h0M674.4 1209.9h0M654.5 1205.9h0M651.5 1206.3h0M584.8 1204.8h0M594.1 1348h0M543.1 1185.7h0M652.6 1280.9h0M656.9 1206h0M678.4 1220.7h0M590.4 1208.3h0M645.2 1290.8h0M654.9 1206.5h0M657.7 1272.7h0M559 1189.1h0M677.1 1216.9h0M677.3 1228.8h0M422.9 1546.6h0M628.1 1211.5h0M634.7 1304h0M587.9 1207.6h0M580.8 1203.2h0"/>
<path stroke="#0098ff" d="M577.9 1201.2h0M650.7 1282.7h0M670.9 1209.7h0M562.4 1191.1h0M569.2 1195.1h0M349 1347h0M670.6 1248.5h0M311.6 1410.7h0M249.6 1470.6h0M343.2 1355.6h0M629.7 1211.8h0M675.5 1234.4h0M675.2 1235.1h0M579.1 1361.6h0M630.1 1211.9h0M518.8 1433.3h0M490.5 1208.7h0M360.6 1331.6h0M601.6 1214h0M639.3 1210.9h0M567.9 1195.6h0M564.9 1193.8h0M469.1 1525.4h0M305.5 1421.1h0M566.6 1373.2h0M673.7 1217.7h0M632.9 1212.6h0M641 1294.5h0M661.5 1263.8h0M603.5 1214.9h0M668.7 1212.3h0M657.4 1209.5h0M578.8 1204h0M627.7 1310.8h0M565.8 1373.8h0M531.2 1414.4h0M636.6 1212.3h0M631.1 1306.7h0M476.3 1219.9h0M638.3 1297.5h0M281.4 1447.5h0M264.7 1460.9h0M661.9 1210.7h0M645.3 1288.1h0M420.5 1269.3h0M581.6 1206.6h0M667.3 1251.4h0M582 1207h0M614.3 1325.5h0M556.9 1191h0M534 1189h0M519.3 1431.4h0M643.9 1211.8h0M670.6 1216.6h0M601.8 1338.1h0M321.1 1394.2h0M514.3 1195.7h0M667.6 1249.7h0M321.8 1393h0M659.6 1265.3h0M497.7 1204.9h0M388.9 1300.5h0M504.8 1200.8h0M667.8 1247.8h0M671.4 1236.5h0M643 1213h0M486.6 1212.7h0M663.8 1256.3h0M285.1 1444.6h0M630.7 1305.8h0M507.7 1199.4h0M590.5 1348.6h0M526.2 1191.6h0M409.6 1280.1h0M573.1 1202.3h0M596.2 1342.9h0M460.5 1233.6h0M629 1215.9h0M608.9 1217.8h0M334.6 1370.6h0M667.8 1217.3h0M659 1264.8h0M350.4 1346.3h0M649.8 1279.7h0M380.7 1624.4h0M349.3 1347.8h0M539.1 1402.6h0M641.9 1214h0M524.7 1422.5h0M620.3 1217.5h0M487.5 1212.5h0M663.8 1215.4h0M647.2 1283.1h0M456.7 1237.1h0M667.4 1218.5h0M389.5 1601.8h0M659.5 1262.9h0M492.2 1481.1h0M570.2 1201.3h0M646.6 1214.3h0M626.4 1309.9h0M669.5 1236.1h0M430.4 1540.1h0M667.6 1220.7h0M610.2 1219.1h0M640.9 1291.3h0M660 1215.4h0M655.9 1214.7h0M563.8 1373.9h0M658.6 1263.6h0M592 1215.9h0M510.6 1443.5h0M369.1 1322.7h0M279.9 1449.5h0M272.1 1455.9h0M646.6 1214.9h0M432.9 1258.8h0M527.8 1417.2h0M377.3 1313.5h0M368.1 1324h0M661.1 1216.7h0M612.6 1219.6h0M493.7 1473.6h0M661.2 1216.8h0M660.3 1216.7h0"/>
<path stroke="#009aff" d="M341.8 1359.7h0M406.4 1564.6h0M570.8 1203.1h0M559 1195.5h0M557.4 1380h0M664.3 1220.2h0M530.3 1413.2h0M652 1216.1h0M568.1 1368.7h0M631.7 1302.1h0M665.7 1244.7h0M598.3 1219.4h0M662.7 1219.8h0M399.4 1577.3h0M492.9 1475.1h0M485.7 1512.4h0M331.3 1377.3h0M664 1221.9h0M473.4 1224.1h0M666.7 1227.5h0M638.2 1217.9h0M620.2 1315.4h0M575.6 1360.9h0M479.1 1219.8h0M455.2 1239.3h0M531.4 1411.2h0M413.9 1277.1h0M656.7 1263.9h0M527.6 1416.6h0M631.3 1219.3h0M371.4 1320.7h0M661.4 1254h0M536 1404.8h0M475.6 1521h0M650.2 1217.8h0M476.9 1520.1h0M649.2 1217.9h0M437.2 1255.5h0M579.9 1356.4h0M568.7 1203.4h0M495.5 1208.5h0M609.9 1326.2h0M615 1221.9h0M564.4 1371.6h0M665.7 1233.2h0M541.7 1397.1h0M662.2 1223.6h0M647.1 1218.7h0M662.1 1223.8h0M649.4 1275.2h0M617.3 1317.7h0M607.5 1328.4h0M503.6 1203.9h0M660.8 1252.6h0M557 1196.7h0M510.3 1200.5h0M314.2 1409.1h0M580.5 1355.2h0M441 1252.4h0M636.7 1293.5h0M553.8 1195.6h0M472.1 1225.9h0M482.5 1217.9h0M489.3 1213.1h0M623.7 1309.8h0M628.1 1221.7h0M573.2 1362.1h0M591.1 1344.5h0M251.7 1470.8h0M603.9 1223.3h0M521.8 1196.2h0M652.3 1268.6h0M297.4 1433.8h0M561.1 1374h0M632.1 1221.9h0M388 1603.9h0M440.9 1252.8h0M357 1339.1h0M305.5 1423.7h0M661.7 1229.3h0M537 1193.6h0M631.4 1222.3h0M646.2 1278.3h0M638.8 1289.3h0M453.3 1242h0M637.5 1291.1h0M630.8 1300.1h0M662.3 1241h0M466.6 1525.2h0M640.3 1286.9h0M484.6 1216.9h0M640.7 1221.9h0M650 1222.3h0M604.1 1224.7h0M531 1409.9h0M568.7 1206.7h0M524 1196.2h0M659.6 1249.7h0M560.2 1200.7h0M524.1 1196.2h0M653.9 1263.3h0M653.7 1224.5h0M523 1196.8h0M451.9 1530.5h0M551.1 1384.1h0M512.9 1200.6h0M616 1225.4h0M512.1 1438h0M587.7 1221.1h0M650.7 1224.2h0M638.6 1223.4h0M408.9 1283h0M498.3 1208.4h0M532.5 1195h0M616.3 1225.8h0M575.1 1212.9h0M526.8 1415.3h0M559.9 1201.4h0M638 1288.6h0M576.1 1214h0M458.5 1238h0M535.4 1195h0M655 1227.1h0M537.9 1194.9h0M491.1 1476.8h0"/>
<path stroke="#009dff" d="M501.6 1454.5h0M649.5 1269.3h0M575.1 1213.8h0M655.1 1228.3h0M518.8 1198.8h0M506.3 1204.4h0M570.8 1210.5h0M543.9 1391.9h0M643.8 1278.9h0M572.1 1361.1h0M490 1485h0M512 1201.7h0M445.3 1249.8h0M634.4 1292.6h0M646.8 1225.7h0M620.8 1227.1h0M574.6 1214.4h0M590.4 1342.5h0M496 1463.5h0M489.9 1484.1h0M594.7 1338.1h0M468.8 1523.7h0M290.7 1441.5h0M575.3 1357.3h0M613.1 1228.1h0M597.5 1335.1h0M633.9 1226.5h0M545.8 1197h0M527.2 1197.2h0M521.9 1198.6h0M629.9 1227h0M657.2 1243.4h0M622.1 1227.8h0M341.3 1362.9h0M298.7 1433.4h0M656.5 1237.4h0M506.4 1205h0M635.2 1290h0M626.8 1301.4h0M554.9 1200.9h0M405.8 1286.7h0M425.3 1268.4h0M410.6 1282.2h0M600.9 1228.6h0M495.4 1211.4h0M545.1 1197.6h0M489.6 1491.1h0M655.5 1237.7h0M654.7 1251.2h0M393.1 1588.4h0M638.9 1283.8h0M302.2 1429.3h0M637.9 1227.9h0M624.4 1303.9h0M399.9 1292.7h0M402.5 1568.3h0M431.9 1262.5h0M575.7 1356h0M591.9 1339.8h0M408.4 1558.7h0M649.8 1263.5h0M528.7 1197.7h0M655.2 1245h0M654.3 1250.4h0M635.4 1288.5h0M578.9 1220.1h0M547.7 1198.8h0M577.2 1218.9h0M389.7 1596.9h0M639.1 1282.8h0M638.2 1284.1h0M585.5 1224.5h0M611.2 1230.2h0M651.6 1257.5h0M653.7 1250h0M651 1258.9h0M495.6 1462.7h0M583.4 1223.9h0M504.3 1207h0M605 1230.7h0M545 1388.5h0M424.4 1269.7h0M575.3 1355.6h0M422.2 1271.8h0M653.3 1239.8h0M556.5 1203.7h0M241.9 1477.9h0M644.6 1231.5h0M653.3 1247.2h0M652.1 1238h0M652.9 1241h0M501.8 1208.6h0M615.5 1231.3h0M428.9 1265.7h0M588.6 1227.4h0M622 1305.2h0M577.6 1220.9h0M643.8 1272.4h0M580.3 1223h0M626.6 1231.1h0M596.6 1230.5h0M511.7 1435.8h0M301 1431.4h0M509.3 1439.4h0M413.8 1550.9h0M636.1 1284.9h0M563.7 1366.7h0M577.2 1352.9h0M624.4 1231.9h0M641.6 1232.7h0M316.1 1408.7h0M354 1345.3h0M489.2 1480.4h0M563.2 1210h0M525 1200h0M562.5 1209.5h0M480.6 1515.2h0M390 1595.1h0M643.5 1234h0M391.5 1301.8h0M529.5 1408.1h0M638.5 1232.7h0M511 1204.8h0M621.6 1232.8h0M640.5 1233.6h0M569.2 1215.6h0M629 1232.7h0M577.8 1222.8h0M602 1233h0M485.7 1508.6h0"/>
<path stroke="#00a2ff" d="M584.9 1344.4h0M448 1249.2h0M488.8 1488.4h0M614.1 1233.7h0M515.3 1429.2h0M636.4 1233.7h0M510.1 1437.5h0M367.2 1328.7h0M629.3 1233.5h0M425.6 1269.4h0M619.8 1305.8h0M406.9 1559.7h0M630.5 1291.4h0M574.7 1221.2h0M649.1 1250.9h0M619.6 1306h0M627.7 1233.9h0M504.8 1445.8h0M643.5 1237.1h0M569 1216.7h0M556.9 1372.9h0M637.2 1280.2h0M599.1 1233.7h0M551.6 1204h0M472 1229.8h0M613.3 1313h0M646.5 1241.8h0M594.7 1333.4h0M562.8 1212h0M632.1 1235.1h0M618.6 1306.4h0M503.6 1447.4h0M589 1339.2h0M558.5 1209.1h0M562.1 1211.9h0M439.1 1257.6h0M592.5 1335.3h0M632.7 1286.1h0M579.6 1348.4h0M643.4 1240.4h0M574.1 1222.6h0M582 1345.9h0M624.3 1298.3h0M559.8 1368.8h0M612.6 1236.3h0M580.8 1227.9h0M381.8 1312.7h0M636.9 1237.7h0M605.7 1236.2h0M581 1228.3h0M388.5 1305.7h0M635.3 1280.9h0M639.8 1272.3h0M554.8 1207.4h0M606.3 1236.6h0M577 1225.7h0M525.7 1411.8h0M625.2 1236.8h0M471.6 1521h0M626.2 1237h0M562 1213h0M595.7 1331.2h0M526.7 1410.2h0M594.6 1235.1h0M559.7 1368.4h0M630.4 1288.2h0M636.6 1238.8h0M495.8 1459.3h0M612.7 1237.6h0M469.2 1522.2h0M644.2 1256.8h0M641.5 1266.2h0M375.2 1320.2h0M589.8 1336.9h0M580.2 1229.1h0M582.1 1344.8h0M419.1 1276.3h0M642 1263.9h0M583.2 1231.3h0M632.3 1283.9h0M519.9 1419.9h0M548.3 1205h0M394.5 1299.9h0M610.8 1238.3h0M640.5 1243.8h0M621.1 1300.3h0M634.6 1240.3h0M642.9 1258h0M574.4 1352.1h0M552.8 1375.3h0M289.2 1444.7h0M633.5 1240.3h0M344.2 1361.2h0M555.2 1209.3h0M576.5 1227.5h0M624.1 1239.3h0M518.3 1422.1h0M600.9 1324.3h0M490.7 1468.6h0M633.4 1280.9h0M482.9 1511.2h0M528.5 1406.5h0M388.3 1306.5h0M340.2 1367.6h0M502.8 1446.9h0M382.7 1612.4h0M250.1 1474.1h0M589.8 1335.7h0M356.7 1343.4h0M415.2 1547.6h0M467.1 1235.1h0M496.3 1214.9h0M615.5 1240.3h0M401.6 1566.8h0M575.9 1228.3h0M619.2 1240.5h0M639.8 1248.4h0M584.5 1234.2h0M566.2 1219.8h0M638 1268.8h0M519.3 1205h0M320.8 1402.4h0M615 1240.7h0M486.3 1504.2h0M382.7 1312.7h0M562.9 1217h0M525 1203.8h0M630.8 1283.2h0M516.2 1206.1h0M565 1360.8h0M635.1 1274.7h0M588.8 1236.9h0"/>
<path stroke="#00a4ff" d="M625.2 1291.8h0M639.5 1261h0M613.5 1241.3h0M593.6 1238.8h0M429.4 1267.6h0M390.7 1590.5h0M638.5 1264.6h0M639.2 1251.9h0M616.8 1303.5h0M619.5 1241.9h0M466.6 1235.9h0M638.9 1251.6h0M536.8 1203.9h0M599.7 1240.4h0M526.9 1407.8h0M585.8 1236.3h0M559.7 1215.4h0M603.6 1319h0M637.9 1262.8h0M635.7 1248.4h0M603.6 1241.7h0M588.2 1237.9h0M565.2 1220.9h0M408.3 1287.5h0M594.1 1240.3h0M561.7 1363.3h0M303.8 1430.2h0M572.6 1228.1h0M307.9 1424.7h0M258.1 1469.5h0M553.6 1211.5h0M422.2 1274.6h0M352.9 1349.3h0M636.1 1252.6h0M320.5 1403.7h0M612.8 1243.9h0M596 1326.5h0M472.1 1232.3h0M505 1211.7h0M622.2 1245.2h0M482.2 1511.3h0M287.1 1447.3h0M446.5 1253.2h0M502.8 1212.9h0M575.7 1347.6h0M635.7 1261.6h0M595.8 1242.4h0M614.5 1244.9h0M583.6 1339.2h0M350.4 1353.3h0M532.7 1205.4h0M566.6 1356.9h0M556.7 1367.7h0M574 1231.5h0M534.5 1395.3h0M364.1 1335.1h0M625.5 1248h0M565.3 1357.9h0M627.1 1283.1h0M589.3 1241.4h0M445.9 1530h0M597.1 1243.8h0M508.9 1434.5h0M627.2 1249.1h0M619.9 1247h0M560.2 1219h0M617.7 1297.7h0M406.2 1290.1h0M633 1266.4h0M611.1 1306.7h0M564.5 1223.7h0M574.6 1233.2h0M625.5 1249.7h0M518.2 1207.8h0M626.5 1250.3h0M260.9 1468.2h0M572.3 1231.5h0M578.3 1236.5h0M611.2 1306h0M561.6 1221.4h0M618.8 1295h0M630.6 1271.8h0M603.6 1315.4h0M572.9 1349h0M631.3 1269h0M448.9 1251.8h0M434.8 1264.1h0M623.2 1287.7h0M597.3 1245.4h0M586.3 1241.7h0M306 1428.3h0M549.8 1374.4h0M582.4 1338.4h0M629.7 1271.7h0M601 1246.9h0M566.1 1226.8h0M453.1 1527.5h0M630.7 1263.8h0M578.1 1237.7h0M587 1333.3h0M611.1 1248.8h0M438.3 1261.3h0M599.6 1247.1h0M615.4 1249.7h0M544.5 1380.5h0M400.7 1566.2h0M626.8 1254.6h0M508.8 1433.5h0M486.3 1489.8h0M586.2 1242.9h0M614 1249.6h0M625.5 1280.4h0M625.5 1254.3h0M391.5 1586.1h0M369.9 1328.8h0"/>
<path stroke="#00a7fe" d="M486.2 1498.2h0M607.5 1308.7h0M397.4 1299.4h0M621 1288.4h0M409.4 1287.8h0M612.3 1302h0M386.5 1599.3h0M626.9 1257.8h0M611.1 1303.5h0M547.3 1376.4h0M393.2 1303.7h0M575.1 1236.8h0M613.4 1300.1h0M628.4 1263.4h0M399 1297.9h0M256.5 1471.4h0M508.6 1433.2h0M615.6 1296.5h0M490.9 1221.3h0M345.7 1361.6h0M531.5 1208h0M627.6 1270.3h0M346.1 1361h0M442.1 1258.4h0M580.9 1241.7h0M565 1227.9h0M464.9 1522.8h0M620.7 1287.2h0M606.1 1250.6h0M615.3 1296.2h0M502 1444h0M565.4 1228.7h0M469.6 1236.2h0M439.6 1260.8h0M378 1319.9h0M588 1330.3h0M615.4 1295.4h0M546 1212.7h0M349.5 1356.1h0M626.5 1266.3h0M395.6 1301.6h0M625.8 1263h0M379.9 1616.1h0M613.6 1297.6h0M392.7 1304.6h0M305.9 1429.3h0M454.8 1526.5h0M562.9 1227.1h0M340.3 1370.5h0M522.9 1209.2h0M554.4 1366.7h0M500.7 1216.7h0M399.9 1566.8h0M617.7 1290.1h0M624.6 1263.4h0M624.7 1263.8h0M450 1252.2h0M563.9 1355.7h0M543.8 1212.4h0M497.3 1218.5h0M585.2 1332.4h0M323.2 1401h0M582.6 1244.9h0M485.5 1225.5h0M308.6 1425.8h0M426.3 1272.9h0M614.2 1295.4h0M485.6 1498.9h0M246.7 1477.7h0M402.1 1562.6h0M622.5 1277.7h0M476 1515.9h0M545.7 1213.8h0M592.4 1250.1h0M578.9 1338.8h0M522.3 1409.7h0M555.1 1220.9h0M304.8 1431h0M618.4 1286.3h0M618.4 1258.8h0M610.2 1255.2h0M618.5 1286.1h0M589.8 1249.7h0M370.9 1328.7h0M620.7 1280h0M572.3 1345.5h0M607 1254.8h0M620 1281.9h0M558.3 1224.5h0M612.3 1256.7h0M615.4 1290.9h0M615.1 1258.3h0M596.4 1318h0M589 1250h0M265.5 1466.1h0M498.2 1448.8h0M560.5 1227.2h0M384.9 1313.2h0M518.8 1414.7h0M435 1532.7h0M616.2 1288.7h0M394.8 1303.1h0M608.1 1256.7h0M437.1 1263.9h0M619 1281h0M616.8 1261.2h0M268.8 1463.8h0M496.4 1219.9h0M616.1 1287.7h0M603.8 1307.5h0M420.4 1278.9h0M574.2 1342.4h0M619 1279.4h0M619.3 1266h0M620.1 1274.1h0M620 1268.7h0M610.4 1258.5h0M333.1 1383.9h0M575.3 1341h0M608.4 1258h0M599.2 1313.1h0M579.8 1246.7h0M497.4 1219.7h0M564.2 1232.5h0M613.9 1260.7h0M574.3 1242.5h0M379.1 1617h0M473.1 1235h0M619.3 1274.4h0M433.6 1533.1h0M551.2 1368.1h0M440.2 1530.7h0M406.8 1554.4h0"/>
<path stroke="#00aafd" d="M506.2 1434.5h0M282.6 1453.1h0M617.4 1268.1h0M613.8 1288.7h0M493.8 1455.1h0M510.4 1427.5h0M616.6 1266.9h0M573.6 1243.2h0M587.1 1326.6h0M614.3 1287.4h0M575.5 1339.7h0M600.2 1310.2h0M333.8 1383h0M584.7 1329.3h0M617.4 1274.9h0M586.3 1252.3h0M562.6 1232.4h0M463.6 1242.6h0M616.4 1279.5h0M558.2 1227.8h0M616.9 1272.1h0M484.3 1501.9h0M575.6 1339.1h0M486.6 1226.5h0M312.7 1420.9h0M546.1 1217.8h0M590 1255.1h0M551.7 1222.2h0M419.6 1280.3h0M587.6 1324.8h0M496.3 1450.2h0M235.7 1485h0M546.4 1218.5h0M613.1 1285.6h0M612.3 1287.7h0M613.5 1284.1h0M559.4 1230.4h0M534.2 1389.2h0M484.2 1481.5h0M268.3 1464.8h0M605.4 1299.9h0M590.4 1320.7h0M571.8 1244.3h0M542 1378.1h0M291.5 1445.7h0M545.8 1218.8h0M612.4 1269.4h0M328.5 1393.2h0M607.9 1264.9h0M606.3 1263.9h0M553.3 1225h0M519.9 1213.4h0M505.2 1434.9h0M600 1261.3h0M559.5 1356h0M568.6 1241.7h0M538.8 1215.5h0M541.1 1378.9h0M610.8 1287.1h0M612.4 1272.8h0M604.2 1264.1h0M598 1309.5h0M596.8 1260.9h0M423.2 1277.5h0M436.3 1531.6h0M610.3 1287.2h0M571.7 1245.5h0M532.2 1391.1h0M488.6 1226.4h0M556.5 1358.8h0M595.6 1261.3h0M596.9 1262h0M605.1 1296.8h0M509.1 1427.6h0M507.7 1217.3h0M592.7 1260.5h0M608 1269.9h0M610.6 1280h0M584.9 1256.7h0M563.2 1350.4h0M609.7 1274.6h0M484.1 1499.7h0M598.1 1263.6h0M567.6 1345.1h0M547.8 1222.2h0M377.5 1322.8h0M608.4 1271.9h0M608.9 1285.7h0M481.2 1508.3h0M572.8 1248.4h0M576.3 1334.7h0M605.9 1292.8h0M498.3 1221.7h0M392.3 1580h0M564.2 1239.8h0M516.5 1215.4h0M565.5 1241.3h0M604.3 1295.5h0M576.8 1252.5h0M540.4 1218h0M259 1471.6h0M606.6 1289.5h0M606.5 1272.2h0M296.1 1442.1h0M580.7 1328.9h0M607.9 1275.9h0M475 1235.8h0M570.4 1341.1h0M604.1 1269.7h0M582.2 1257h0M439.9 1263.5h0M575.2 1251.8h0M353.5 1353.3h0M575.6 1334.8h0M602.7 1297.3h0M485.8 1228.9h0M569.9 1341.3h0M607.7 1280.7h0M602.3 1269.1h0M541.4 1219.2h0M593.2 1312.1h0M600.6 1300.2h0"/>
<path stroke="#00affa" d="M508.2 1218.2h0M593.5 1311.3h0M501.5 1220.8h0M512.5 1216.9h0M605.8 1287.2h0M602.4 1296.1h0M550.3 1364.6h0M576.1 1253.7h0M557.4 1233.7h0M369 1333.2h0M605.7 1276.9h0M580.2 1328.3h0M524.7 1400.6h0M581.6 1258.4h0M569.3 1247.8h0M402.3 1559.4h0M499.6 1222h0M417.9 1283.3h0M384.7 1599.1h0M386.9 1593.2h0M491.2 1226.3h0M518.8 1409.8h0M584.2 1260.9h0M568.8 1248h0M604.9 1281.9h0M569.2 1248.4h0M603.9 1287.4h0M603.9 1286.9h0M581.2 1325.9h0M603.8 1287.2h0M591.5 1266.1h0M579.8 1258.6h0M470.4 1239.9h0M594.4 1268.1h0M511 1422.3h0M345.3 1366.2h0M553.3 1231.3h0M587.5 1316.8h0M388.9 1587.2h0M425.2 1535.4h0M581.8 1323.9h0M597 1301h0M452.7 1253.8h0M596.1 1302.2h0M592.3 1269.2h0M575.3 1256.9h0M408.8 1292.3h0M600.3 1278.3h0M590.8 1310.5h0M379.5 1612.5h0M524.8 1398.9h0M557.2 1353.6h0M517.9 1409.9h0M414.6 1286.9h0M480.9 1233.4h0M552.1 1231.4h0M529.9 1217.8h0M599.7 1279.4h0M575.2 1331.2h0M598.3 1276.9h0M555 1356h0M554.6 1234.5h0M381.1 1608.2h0M582.8 1320.8h0M599.7 1287.7h0M419 1539h0M436.4 1267.8h0M419.8 1282.4h0M558.2 1239.3h0M272.6 1462.9h0M511.9 1419.6h0M562.9 1245.4h0M568 1251.5h0M490 1228.3h0M500.5 1223.2h0M585.6 1316h0M597.5 1292.9h0M458.1 1523.5h0M540.1 1375h0M506.4 1428.6h0M574.5 1258.9h0M594.7 1276.2h0M342.4 1371.6h0M494.2 1449.4h0M569.6 1336.7h0M485.5 1465.1h0M546.4 1366.2h0M583.2 1318.5h0M593.1 1275.4h0M519.9 1405.5h0M574.4 1259.7h0M595.9 1281h0M571.5 1257h0M335.2 1384.1h0M551.2 1232.8h0M532.5 1385.6h0M592.8 1276.4h0M467 1243.7h0M583.4 1268.2h0M349.5 1360.8h0M589.3 1273.3h0M547.1 1364.6h0M528.5 1219.2h0M266.4 1467.7h0M525 1397h0M386.5 1592.3h0M592.2 1301.7h0M591.1 1275.9h0M594.2 1280.7h0M567.1 1338.5h0"/>
<path stroke="#00b1f8" d="M571 1257.9h0M548.6 1231h0M541.4 1372.1h0M586.1 1312h0M474.2 1514.5h0M548.3 1230.8h0M313.5 1423h0M564 1249.9h0M592.9 1297.5h0M386.6 1591.9h0M586.3 1272.9h0M483.9 1232.8h0M567.7 1337h0M556.7 1241h0M583.2 1270.4h0M560 1346.8h0M591 1278.9h0M309.4 1429h0M538 1223.4h0M579.3 1321.1h0M414.4 1542.1h0M559.2 1347.6h0M583.3 1314.9h0M548.6 1361.5h0M590.6 1301.1h0M377 1617.5h0M553.4 1237.6h0M530.1 1220.6h0M565.5 1339.3h0M237.1 1485.9h0M583.5 1314h0M493.4 1449.3h0M410 1546.6h0M434.9 1270.1h0M588.9 1303.7h0M565.6 1253.9h0M578.7 1320.9h0M544.7 1229.1h0M516.2 1410.2h0M303.2 1436.6h0M458.1 1523h0M317 1417.9h0M503.3 1223.8h0M534 1222.5h0M527.5 1220.7h0M591.1 1294.6h0M261.9 1471.1h0M427.7 1276.6h0M372.9 1330.7h0M585.9 1276.7h0M434.4 1270.8h0M590.4 1296.5h0M344.8 1368.9h0M554.4 1240.2h0M503.5 1223.9h0M496.5 1226.8h0M590.4 1285.3h0M288.6 1450.5h0M525.9 1220.7h0M479.9 1236h0M583.6 1311.5h0M543 1367.9h0M421 1536.8h0M553.7 1240h0M569.8 1331.8h0M570.6 1261.8h0M526 1393.4h0M567.4 1258.3h0M570.5 1262.1h0M419.2 1284.4h0M589.3 1295.2h0M551.7 1355.5h0M589.6 1291h0M585.5 1279.1h0M518.7 1405.1h0M576 1322.3h0M564 1339.1h0M586.4 1280.9h0M549.7 1235.8h0M588.2 1284.6h0M501 1225.3h0M528.3 1221.8h0M387.4 1588.6h0M588.5 1296.6h0M274.2 1462.7h0M582 1275.7h0M537.3 1225.4h0M587.9 1285.9h0M582.4 1276.5h0M577.9 1271.7h0M541.4 1369.4h0M500.9 1435.4h0M540.1 1371h0M520.4 1221.5h0M534 1224.3h0M486.8 1459.4h0M571.4 1265.7h0M548.7 1236.2h0M404.2 1298.7h0M586.4 1297.5h0M573.2 1268.3h0M384.4 1318.6h0M586.2 1296.8h0M519.9 1222h0M430.3 1275.1h0M436.4 1269.8h0M422.4 1282h0M586 1288.8h0M510.9 1223.1h0M530.8 1223.8h0M580.7 1310.9h0M482 1496.5h0M537.1 1374.5h0M515.9 1222.5h0M531.3 1224.1h0M530.9 1223.9h0M410.7 1544.9h0M508.9 1223.8h0M536.5 1226.6h0M403.7 1299.4h0M412.7 1291h0M579.3 1277.9h0M574 1271.4h0M528.7 1223.6h0M413.1 1542.3h0M527.4 1389h0M567.2 1263.1h0M566.8 1332h0"/>
<path stroke="#00b3f6" d="M576.9 1275.5h0M584.3 1294.7h0M555.9 1347.1h0M582.5 1285.5h0M550 1239.8h0M481 1484.9h0M481.7 1470.4h0M552.2 1242.7h0M359 1349.3h0M516.7 1406.5h0M518.9 1402.9h0M567.1 1330.9h0M303.7 1437.1h0M482.4 1467.9h0M576.3 1276h0M537.1 1227.9h0M574.1 1273.2h0M579.8 1281.3h0M560.6 1255.1h0M296.2 1444.5h0M534.5 1377.3h0M547.9 1237.9h0M582.7 1299.2h0M432.5 1530.7h0M531 1382.8h0M483.5 1464.7h0M443.6 1264.5h0M437.1 1269.9h0M557 1344.6h0M582.1 1298.4h0M338.2 1381.4h0M332.3 1392.1h0M579.9 1284h0M520.3 1223.5h0M570.7 1324.1h0M567.1 1329.6h0M580.3 1304.4h0M580.7 1287.2h0M415.7 1288.8h0M580.1 1285.7h0M574.9 1276.7h0M554.7 1347.3h0M506.5 1225.6h0M502.4 1430.7h0M413.4 1541.7h0M359.2 1349.4h0M570.9 1323.1h0M347.1 1367h0M521.8 1396.8h0M576.4 1280.9h0M244.1 1482.7h0M479.9 1504.5h0M478.4 1507.6h0M521.4 1397.4h0M564.9 1331.6h0M464.9 1519.2h0M569.5 1324.1h0M493.1 1446.3h0M545.5 1237.5h0M479 1506.3h0M562.7 1334.3h0M558.5 1340.2h0M546.1 1358.2h0M567.4 1326.6h0M529.2 1384h0M572.9 1316.6h0M331.9 1393.5h0M563.5 1264.4h0M512.8 1225.4h0M570.7 1275.7h0M531.6 1227.7h0M406.2 1549.3h0M577.1 1304.2h0M511.3 1413.9h0M573.8 1313.3h0M546.4 1239.8h0M549.3 1352.9h0M240.7 1485h0M501.9 1430.4h0M323.9 1408.5h0M462.1 1520.3h0M571.4 1277.6h0M344.7 1371.6h0M563.6 1331.2h0M535.4 1373.5h0M561.9 1263.4h0M328.1 1400.9h0M464.6 1249.3h0M493.3 1445.1h0M576.3 1289.7h0M276.1 1462.4h0M562.2 1332.8h0M339.7 1380.1h0M535.5 1373.1h0M555.4 1343h0M534.1 1229.7h0M451.7 1259.1h0M450.1 1260.4h0M558.9 1259.2h0M574.5 1308.9h0M477.8 1240.5h0M523.1 1226h0M576.6 1297.6h0M445.7 1263.9h0M557.2 1340h0M504.3 1227.9h0M360.1 1349.1h0M319.7 1416.3h0M568.7 1276.3h0M458.6 1521.6h0M573.5 1309.3h0M480.5 1490h0M516.2 1226.1h0M496.2 1231.1h0M311.9 1428.5h0M318 1419.3h0M404.6 1300.2h0M565.1 1326h0M471 1245.4h0"/>
<path stroke="#00b8f2" d="M562.6 1267.7h0M570.9 1313.9h0M383.4 1596.2h0M405.1 1550.3h0M571.3 1312.8h0M452.7 1523.7h0M562 1330.4h0M549.3 1350.3h0M560.9 1265.8h0M431.7 1276.1h0M538.2 1234.6h0M568 1318.8h0M426.2 1532.4h0M540.5 1237h0M406 1299.2h0M487 1236.2h0M352.1 1361.1h0M502.5 1229.6h0M522.4 1227.6h0M511.7 1411.1h0M285.8 1455h0M534.4 1372.4h0M275.8 1463.2h0M559.5 1265.6h0M542.1 1360.1h0M483.7 1238.3h0M349 1366h0M392.3 1572.5h0M551.4 1252.7h0M471.3 1246h0M301.7 1440.8h0M419.9 1535.4h0M561.4 1270.2h0M568.8 1312.6h0M499.7 1431.9h0M534.3 1371.9h0M571.2 1301.4h0M445.9 1264.9h0M319.4 1417.8h0M533.2 1232.7h0M535.9 1369.1h0M381.4 1600.7h0M556.2 1262.1h0M554 1258.3h0M375.1 1617.8h0M570.1 1294.1h0M501.3 1230.9h0M558 1333.2h0M535.4 1234.7h0M554.9 1260.2h0M567.4 1284.9h0M565.5 1280.4h0M548.7 1348.3h0M372.5 1334.7h0M372.1 1335.2h0M547.2 1248.1h0M464.1 1251.4h0M484.5 1238.5h0M374.5 1332.4h0M562.8 1323.6h0M484 1238.8h0M385.6 1588.8h0M566.2 1315.4h0M522.9 1389.9h0M479.7 1500.2h0M478.5 1476.9h0M565.1 1281.7h0M568.7 1293.4h0M491.7 1235.1h0M259.6 1474.8h0M531 1375.9h0M538.1 1238h0M484.1 1458.3h0M562.4 1323h0M479.9 1494.3h0M555.5 1263.3h0M551.4 1342.6h0M423.4 1533.2h0M412.6 1540.6h0M252.8 1478.9h0M478.5 1474.6h0M334.7 1390.9h0M296.7 1445.9h0M561.2 1275.4h0M513.7 1229.4h0M272.5 1466.3h0M565 1314.8h0M518.4 1229.7h0M566.6 1308.9h0M561.7 1322.8h0M562.9 1280.3h0M499.3 1431.3h0M376.5 1613.4h0M471.1 1247.3h0M544.7 1352.4h0M376.1 1614.3h0M535.7 1367.2h0M513.5 1405.3h0M525.5 1384.2h0"/>
<path stroke="#00bbf0" d="M552.4 1339.3h0M565.2 1311.4h0M534.7 1236.7h0M564.8 1312.6h0M414.2 1292.9h0M566.4 1297.2h0M528.5 1233.1h0M357.4 1354.9h0M395 1311.1h0M409.8 1297h0M492.3 1442.9h0M564.5 1311.2h0M360 1351.4h0M466.5 1250.9h0M496.6 1234.3h0M549.8 1257h0M554.6 1333.9h0M535.8 1238.7h0M389.2 1578.3h0M562 1283.4h0M406.7 1300h0M373.4 1334.6h0M389.2 1578h0M435.7 1274.8h0M401.4 1553.9h0M564.4 1303.2h0M281.9 1459.4h0M562.7 1312.8h0M445.6 1266.8h0M499.2 1233.9h0M478.1 1483.5h0M480.8 1462.9h0M512.2 1406.1h0M561.1 1316.8h0M563.5 1306.9h0M508.1 1231.9h0M532.8 1237.7h0M540.5 1356.6h0M482.1 1459.9h0M550.1 1340h0M554.1 1268.6h0M386.8 1320.1h0M560.6 1317h0M274.3 1465.6h0M450 1263.6h0M481 1462.1h0M563.1 1297.3h0M520.5 1232.4h0M540 1357.1h0M431 1279h0M550.8 1338.1h0M562.9 1299.6h0M549.3 1260h0M559.9 1317.5h0M375.7 1614.1h0M558.4 1321.6h0M561.7 1291.4h0M552.1 1335.1h0M362.5 1348.8h0M432.5 1277.9h0M519.7 1232.6h0M546 1346.1h0M515.3 1232.2h0M250.8 1480.8h0M400 1555.6h0M556 1275.4h0M532 1238.3h0M254.5 1478.6h0M562.1 1302.7h0M556 1275.9h0M344.4 1375.7h0M554.4 1272.2h0M556.8 1278.2h0M514.2 1401.4h0M445.9 1524.7h0M342.3 1379.2h0M368.8 1341h0M477.2 1475.4h0M471.2 1249.1h0M405 1302.6h0M396.6 1310.6h0M559.3 1287.7h0M510.1 1233h0M465.2 1253.2h0M378.4 1329.9h0M559.8 1310.6h0M559.3 1289.6h0M531.5 1239.1h0M552.3 1331.6h0M524.8 1235.5h0M275.3 1465.3h0M558.9 1290.2h0M388.9 1318.7h0M554.2 1275.3h0"/>
<path stroke="#00bdee" d="M420.2 1289.1h0M366.6 1344.2h0M390.1 1574.5h0M332.3 1397.5h0M478.1 1489.1h0M549.5 1336.3h0M312.5 1430.8h0M435.4 1527.6h0M448.9 1523.5h0M319.3 1421h0M242.1 1486.2h0M375.3 1333.7h0M408 1300.2h0M520.1 1389.1h0M279.8 1461.9h0M478.4 1498.2h0M513.2 1401.8h0M510.1 1407.5h0M557.5 1288.1h0M423.4 1532h0M471.4 1512.2h0M474.4 1247.9h0M481.1 1244h0M551.3 1331.2h0M549.2 1266.5h0M490 1443.8h0M556.4 1286.1h0M539.2 1354.3h0M551.4 1330.1h0M247.1 1483.4h0M556.1 1317h0M477 1470.7h0M477.7 1488.2h0M385.4 1585.5h0M330.5 1401.5h0M554.7 1320.7h0M492 1239.3h0M421.4 1288.6h0M512.2 1234.8h0M545.8 1261.4h0M534 1362.8h0M544 1258.1h0M556.7 1292.3h0M392.1 1569.3h0M479.4 1462.6h0M542.1 1347.8h0M539.3 1250.7h0M319.1 1422h0M331.2 1400.4h0M540.4 1252.5h0M550.6 1273h0M539.8 1351.8h0M532.7 1364.7h0M388.7 1319.7h0M525 1238.1h0M557 1302.1h0M541.9 1255.4h0M546.4 1338.7h0M467 1253.3h0M550.2 1272.7h0M372.4 1337.8h0M374.3 1335.6h0M556.4 1295.4h0M522.5 1382.9h0M533 1363.8h0M555.7 1291.3h0M474.5 1248.7h0M453.1 1521.8h0M551.7 1326h0M548.7 1333.3h0M505.4 1236h0M335.9 1392h0M399.8 1554.5h0M390 1318.5h0M506.3 1236h0M474.1 1508.5h0M309.8 1434.9h0M555.1 1291.1h0M539.9 1350.5h0M475 1248.7h0M555.1 1312.1h0M531.5 1243.5h0M413.1 1296.5h0M492.1 1240.1h0M504.7 1236.5h0M337.4 1389.6h0M555.8 1302.1h0M555.8 1301.5h0M491.2 1440.2h0M486.5 1242.7h0M476.1 1248.2h0M555.4 1305.8h0M347 1373.4h0M546.7 1267.4h0M390.7 1571.6h0M420.4 1532.9h0M553.1 1318h0M379 1602.6h0M392.4 1567.8h0M385.8 1323.3h0M330.6 1402.4h0M365.1 1347.5h0M317.2 1425.7h0M554.3 1305.5h0M554.2 1304.5h0"/>
<path stroke="#00bfeb" d="M532.7 1246.6h0M546.9 1270.7h0M537.8 1352h0M293 1451.6h0M372.1 1620.7h0M435.1 1278.2h0M499.5 1424.2h0M508.8 1406.6h0M452.1 1521.7h0M515.5 1237.7h0M553.2 1309.9h0M531 1245.4h0M537 1252.8h0M497 1428.6h0M418.3 1533.8h0M386.7 1322.8h0M515.5 1393.4h0M487.8 1243.2h0M388.2 1576.6h0M444.4 1271h0M534 1358.4h0M550 1321.9h0M475.4 1473h0M403.4 1548.1h0M525.7 1373.9h0M535.3 1355.4h0M499.9 1422.9h0M454.5 1263.5h0M453.4 1264.4h0M343.3 1380.4h0M471.2 1511h0M551.8 1312.5h0M550.3 1285.5h0M475.5 1480.3h0M355.5 1361.3h0M334.1 1396.7h0M330.9 1402.7h0M549.1 1323h0M528.2 1368.6h0M542.5 1264.4h0M548.9 1281.4h0M376.7 1334.1h0M380.1 1330.2h0M539 1347.3h0M550.5 1288.9h0M490.6 1439.3h0M475.4 1480.6h0M482.3 1246.4h0M459.3 1260.4h0M486.3 1446.8h0M318.4 1424.9h0M497.9 1425.9h0M435.6 1278.5h0M383.1 1589.5h0M551.1 1295.9h0M340.9 1384.9h0M551.1 1307h0M541.5 1264.1h0M442 1273.5h0M513.8 1395.1h0M339.5 1387.5h0M454.7 1264h0M441.9 1273.6h0M520.8 1241.3h0M539.7 1344h0M516.7 1240h0M237.1 1490.4h0M542.6 1267.4h0M491.2 1243h0M524.2 1374.6h0M549.3 1289.6h0M550.4 1298.2h0M539.8 1343.1h0M533.2 1251.7h0M324.7 1414.9h0M265.3 1474h0M532.8 1251.5h0M420 1292h0M546.2 1278.9h0M473.1 1508h0M476.4 1500.4h0M483.6 1246.6h0M477.2 1249.9h0M536.6 1257.3h0M513.6 1394.7h0M541.8 1337.6h0M538.1 1259.9h0M467.3 1255.8h0M510.8 1239.9h0M513.7 1240.2h0M475.9 1466.3h0M549.7 1300.5h0M474.6 1476h0M507.8 1405.6h0M447.8 1522.6h0M460.6 1260.4h0M491 1437.2h0M362.8 1352.1h0M525.2 1245.2h0M270.5 1470.7h0M546.8 1283.6h0M528.9 1364h0M520.9 1379.6h0M516.9 1387.5h0M511.5 1240.5h0M485.4 1446.9h0"/>
<path stroke="#00c4e6" d="M547.9 1290.8h0M475 1469.1h0M527.4 1247.5h0M548.6 1309.1h0M528 1365.4h0M541.1 1268.4h0M538.3 1262.4h0M409.2 1540.2h0M547.6 1291.3h0M548.3 1309.2h0M547 1288.2h0M495.8 1427.7h0M532.1 1253.2h0M287 1458h0M344 1380.9h0M544.8 1324.9h0M548 1306h0M542 1272.3h0M547.7 1310.5h0M547.3 1313.1h0M312 1434.5h0M429.4 1284.8h0M539 1340.5h0M334.5 1397.9h0M533.3 1255.9h0M547 1293.9h0M484.1 1448.4h0M546.2 1290.7h0M422.1 1291.1h0M375.9 1336.5h0M537.5 1343h0M546.7 1295.9h0M467 1513.4h0M325.9 1414h0M488.4 1440.4h0M453.1 1520.5h0M521.8 1375.8h0M237.8 1490.7h0M507.8 1242h0M367.1 1347.4h0M536.7 1344.1h0M392.3 1319h0M538.9 1338.8h0M467.9 1512.6h0M470.1 1255.5h0M475.6 1500.4h0M546.1 1309h0M536.1 1344.7h0M544.9 1289.1h0M540 1334.7h0M545.4 1293.5h0M545.5 1294.4h0M488.8 1246.5h0M428.7 1528h0M545.4 1312.5h0M545 1314.7h0M544.8 1292.2h0M234.6 1492.8h0M501.9 1243.3h0M371.7 1618.5h0M533.9 1260.3h0M504.1 1409.7h0M389 1322.7h0M539.3 1271.8h0M491.6 1433.7h0M375.1 1338.1h0M381.5 1330.8h0M488.4 1439.3h0M539.4 1273.6h0M540.8 1278.1h0M542.6 1285.3h0M370.7 1343.6h0M387.9 1324.1h0M362.4 1354.3h0M544 1313.1h0M536.3 1341.2h0M508.6 1400h0"/>
<path stroke="#00c6e4" d="M537.6 1337.4h0M542.8 1287.8h0M375 1609.2h0M539.6 1275.8h0M426.4 1288.6h0M516.6 1383.3h0M468.9 1257.5h0M510.3 1244.5h0M405 1307.5h0M444.8 1274h0M498.5 1419.6h0M436.1 1280.8h0M543.5 1310.1h0M537.3 1271.1h0M519.8 1376.3h0M465.9 1513.4h0M321.3 1423.2h0M477.4 1252.9h0M495.8 1424.6h0M450.4 1520.9h0M400.6 1311.9h0M486.1 1442.3h0M470.8 1256.7h0M542.3 1290.7h0M484.2 1249.9h0M539.2 1277.9h0M526.6 1254.1h0M518.3 1247.7h0M378.7 1598.3h0M537.9 1274.5h0M542.6 1312.3h0M413.3 1535.3h0M532.9 1346.8h0M414.1 1534.7h0M531.3 1350.6h0M534.4 1343h0M537.5 1273.7h0M535.9 1269.9h0M542.6 1309.4h0M540.6 1322.9h0M525.8 1362.3h0M511.5 1245.9h0M542.3 1297h0M486.4 1441.3h0M482.4 1448.2h0M494 1247h0M541.7 1313.5h0M471.6 1256.8h0M541.9 1296.5h0M239.9 1490.2h0M305.5 1442.8h0M537.3 1332.9h0M527.9 1257.3h0M400.3 1312.6h0M503.9 1407.2h0M503.8 1245.9h0M498.2 1418.6h0M522.1 1369.3h0M511.6 1246.7h0M253.2 1482.7h0M508.2 1246.3h0M379.4 1334.5h0M513.6 1386.7h0M540.2 1317.6h0M333.6 1402.4h0M537.8 1328.5h0M540 1318.5h0M396.5 1555.4h0M495.4 1247.5h0M472.4 1477.8h0M516.2 1381h0M334.6 1400.5h0M541 1307.9h0M485.9 1441.2h0M439.8 1279h0M374.3 1609.7h0M478.9 1453.4h0M295.8 1451.9h0M535.1 1336.1h0M327.1 1414.6h0M473.6 1486.2h0M460.7 1264.3h0M320.9 1425h0M540.4 1300.8h0M386.5 1327.1h0M504.4 1247.1h0M331 1407.6h0M513.2 1386.6h0M474.6 1495.8h0M464.3 1513.8h0M323.5 1421h0"/>
<path stroke="#00c8e1" d="M520.8 1370h0M539.1 1317h0M538.5 1288.6h0M510.9 1391h0M539.8 1300.8h0M311.2 1437.7h0M538.5 1319.5h0M435.2 1283.2h0M337.8 1395.3h0M531 1266.6h0M369.3 1347.2h0M467.3 1260.7h0M523.7 1256.2h0M534.9 1333.5h0M312.7 1436.1h0M392.1 1563h0M468 1260.3h0M435.1 1283.4h0M522 1255h0M458.5 1266.4h0M276.2 1468.9h0M426.8 1527.5h0M496.2 1420.5h0M338.4 1394.5h0M511.4 1389.1h0M538.4 1294.3h0M538.3 1315.8h0M402 1312.2h0M479.4 1451.2h0M524.6 1258.6h0M418.6 1297.3h0M395.8 1318.2h0M428.7 1288.8h0M482.5 1253.4h0M530.9 1343.3h0M538.6 1304.6h0M521.1 1367.4h0M538.1 1313.4h0M538.5 1306.1h0M510.9 1249.7h0M247.6 1486.5h0M365.5 1352.5h0M535.2 1281h0M498.6 1415.1h0M383.2 1583.2h0M533.4 1335.2h0M453.5 1270.2h0M487.5 1251.8h0M381.2 1588.6h0M484.1 1253.2h0M514 1382.1h0M485.5 1439.7h0M333.3 1404.6h0M460.1 1515.8h0M377.5 1598.9h0M376.9 1600.8h0M521.5 1365.3h0M536.9 1293.3h0M506 1399.1h0M436.2 1283.2h0M516.4 1376.5h0M456.8 1268.3h0M342.2 1388.5h0M473.1 1501.8h0M473.9 1496.1h0M473.9 1493.5h0M396.5 1554.2h0M474.3 1258.1h0M536.6 1315.8h0M401.2 1313.5h0M536 1319.9h0M537 1303.2h0M528.6 1267.7h0M437.4 1282.6h0M456.9 1268.5h0M518.8 1370.4h0M470 1507.7h0M532.8 1277.9h0M532.1 1335.6h0M507 1250.3h0M536.3 1294.3h0M375.4 1340.8h0M497.8 1415.3h0M480.9 1255.2h0M482.4 1254.6h0M300.2 1449.1h0M520.1 1256.8h0M366.1 1352.4h0M510.1 1389.2h0M417.5 1299h0M525.5 1353.5h0M427.8 1290.5h0M363.2 1356.4h0M530.2 1272.8h0"/>
<path stroke="#00cddc" d="M473.5 1498.5h0M526.3 1265.2h0M504 1250.7h0M397.6 1551.9h0M512.3 1383.7h0M523.9 1356.8h0M528.9 1343.3h0M387.8 1327.4h0M514.3 1379.1h0M485.1 1439.1h0M523.5 1262h0M498 1251.2h0M470.6 1475.1h0M524.3 1355.1h0M517.5 1256.3h0M449 1274.7h0M525.9 1350.4h0M523.2 1262.5h0M517.1 1256.5h0M510.3 1387.1h0M390.5 1564.6h0M445.3 1277.5h0M516.3 1373.7h0M494.3 1420.9h0M496.6 1416.2h0M530.6 1335.2h0M373.2 1609.7h0M511.2 1384.7h0M315.8 1434.1h0M488.9 1431.1h0M404.3 1541.9h0M471.1 1481h0M522.5 1262.5h0M509.9 1253.4h0M390.9 1324.7h0M532 1283.5h0M533.5 1320.5h0M527.8 1343.4h0M337.1 1399.1h0M486.6 1254.6h0M527.7 1343.1h0M533.7 1293.7h0M417.4 1299.9h0M427.2 1291.8h0M333.2 1406.5h0M534 1312.6h0M527.4 1343.4h0M533.4 1294.3h0M528.8 1338.6h0M343 1388.7h0M533.7 1299.5h0M444.8 1278.5h0M471.3 1483.8h0M473.7 1458.4h0M498.6 1253h0M480.7 1445.1h0M527.5 1341h0M488.7 1254.9h0M409.1 1536.4h0M474.4 1260.5h0M522.2 1355.6h0M393.9 1557.1h0M330.7 1411.9h0M444.8 1279.1h0"/>
<path stroke="#00cfd9" d="M508.2 1388.8h0M479.4 1446.8h0M308.7 1442.4h0M526.2 1273.6h0M487.9 1255.8h0M474.9 1260.8h0M525.5 1344.5h0M392.4 1324.1h0M486.7 1433.3h0M532.2 1304h0M505.8 1255h0M530.8 1322.9h0M467.1 1264.9h0M529.8 1285.7h0M259.8 1481h0M494.6 1417.5h0M342.2 1391.4h0M523 1351.3h0M523.9 1348.3h0M283.5 1465.1h0M300.6 1450.2h0M491.7 1255.6h0M516.7 1366.9h0M458.1 1270.7h0M308.6 1442.9h0M323.2 1425.6h0M508.7 1257.1h0M516.8 1262.3h0M518.5 1362h0M411.3 1534h0M430.7 1524.9h0M529.4 1325.3h0M485.1 1257.6h0M336.5 1402.2h0M531 1310.1h0M480 1444.6h0M530.3 1318.9h0M281.7 1466.8h0M472.8 1458h0M479.5 1259.8h0M458 1515.5h0M530.3 1316.8h0M426 1294.4h0M528.2 1285.5h0M449.2 1276.9h0M462 1268.7h0M527.1 1334.3h0M424.1 1527h0M506.8 1257.1h0M469.6 1466.2h0M514.1 1261.2h0M501.7 1400.7h0M359.2 1364.8h0M311.9 1440h0M505.9 1257.3h0M435.5 1523.3h0M522.8 1347.6h0M525.2 1339.5h0M468.9 1469.4h0M475.7 1451.5h0M471.4 1500.6h0M259.3 1481.8h0M522.3 1272.2h0M506.7 1388.7h0M398 1319.6h0M370.1 1350.3h0M450.9 1518.3h0M434.4 1288.2h0M505.8 1390.6h0M528.9 1319.3h0M515.6 1263.7h0M438.9 1285h0M524.7 1278.7h0M529.4 1308.7h0M431 1291h0M498.8 1406h0M526.7 1285.8h0"/>
<path stroke="#00d1d6" d="M511.2 1377.3h0M525.2 1280.9h0M528.1 1293.4h0M528.9 1299.8h0M518.4 1267.8h0M527.8 1323.3h0M485.7 1259.1h0M430.7 1291.5h0M524.7 1280.3h0M354.8 1372h0M528.8 1311.6h0M518.2 1358.5h0M510 1260.7h0M493 1257.7h0M528.6 1309.9h0M501.3 1258.1h0M506.6 1259.6h0M527.8 1297.2h0M528.3 1304h0M398.1 1320.2h0M518.6 1270.2h0M269 1476.6h0M263.9 1479.6h0M523.9 1337.6h0M525.4 1286.5h0M468.8 1266.7h0M481.2 1261.4h0M515.8 1267.1h0M257.9 1483h0M433.1 1523.5h0M489.6 1259.2h0M330 1416h0M518.5 1270.7h0M527.5 1302.1h0M446.6 1519.5h0M521.9 1277.6h0M477.5 1446.5h0M447.4 1279.9h0M267.7 1477.5h0M359.2 1366.3h0M516.3 1268.5h0M280.4 1468.9h0M426.5 1525.5h0M470.2 1487.2h0M473.5 1453.4h0M527 1304h0M499.2 1259.4h0M520.4 1347.5h0M491 1419.9h0M487.3 1427.4h0M507.6 1262.1h0M469.9 1460.9h0M457.4 1273.8h0M457.3 1514.9h0M514.5 1364.6h0M390.4 1328.6h0M439.7 1285.9h0M519.2 1350.5h0M482 1262.2h0M494.7 1411.7h0M500.3 1260.2h0M519.2 1349.5h0M268.2 1477.5h0M525.3 1295.3h0M480.6 1439.7h0M321.3 1430.7h0M525.2 1295.4h0M425.7 1296.8h0M408.8 1311.2h0M490 1260.6h0M459.9 1272.8h0"/>
<path stroke="#00d3d3" d="M483.3 1262.2h0M269.1 1477h0M523.6 1331.1h0M503.1 1391.9h0M505.9 1262.8h0M524.9 1322h0M490.2 1260.9h0M403.3 1316.5h0M382.1 1579.4h0M516.9 1355.1h0M391.6 1327.8h0M455.6 1275.7h0M478.4 1264.2h0M458.9 1273.7h0M519.9 1344.9h0M424.5 1298.2h0M474.7 1265.8h0M516.9 1354.6h0M384.5 1335.5h0M470.1 1458.8h0M519.2 1346.7h0M469.9 1500.9h0M428.6 1295h0M283.9 1466.7h0M503.8 1389.1h0M474.4 1266.2h0M362.5 1362.8h0M361.4 1364.4h0M523.4 1293.6h0M492.6 1414.4h0M330.5 1416.9h0M522.3 1332.5h0M425.2 1298h0M519.4 1344.1h0M468.1 1481.7h0M287.1 1464.2h0M437.3 1288.7h0M332.9 1412.6h0M506.7 1265h0M512.7 1269.7h0M521.5 1334.9h0M507.9 1265.9h0M501.6 1263h0M356.3 1372.2h0M522.8 1327.2h0M488.9 1421.7h0M484.2 1263.5h0M437.5 1288.8h0M510.3 1268.1h0M520.3 1284.3h0M522.2 1329.1h0M377.3 1344.3h0M515.9 1354.1h0M523.7 1311h0M501.9 1391.9h0M348.9 1384.3h0M487.2 1424.6h0M523 1299h0M421.5 1301.5h0M503.8 1386.9h0M376.5 1593.8h0M522.1 1326.4h0M456.1 1276.7h0M488.9 1420.8h0M466.5 1468.8h0M436.8 1289.8h0M504 1386h0M480.7 1265.3h0M522.9 1315.1h0M393.4 1554.1h0"/>
<path stroke="#00d7ce" d="M495.9 1263.6h0M373.4 1349.5h0M521.6 1295.2h0M455.3 1277.6h0M398.8 1322.1h0M510 1369h0M391.2 1557.9h0M343.5 1394.5h0M522.4 1313.8h0M504.8 1382.7h0M469.7 1494.6h0M484.7 1428.4h0M522.2 1304.8h0M350 1383.3h0M520.5 1292.5h0M470.9 1454.4h0M521.4 1297.4h0M520.9 1328h0M522.2 1313.5h0M277.8 1472.3h0M514.4 1355.3h0M488.8 1419.9h0M423.4 1525.6h0M352.7 1379h0M511.1 1364.9h0M500.6 1265.6h0M521.8 1305.9h0M367.6 1357.3h0M426.5 1298.3h0M427.1 1297.9h0M521.5 1304.3h0M518 1340.3h0M471.1 1270h0M435.3 1291.8h0M491.6 1413.2h0M506.2 1377.5h0M505.1 1268.6h0M313.9 1441.1h0M418.1 1305.4h0M313.7 1441.3h0M241 1494.1h0M285.6 1466.5h0M498.1 1265.9h0M450.6 1281.5h0M487.3 1422h0M519.8 1296.8h0M294.8 1458.5h0M503.7 1268.5h0M495.2 1404.2h0M512.7 1357.4h0M282.3 1469.4h0M466.1 1272.9h0M410.3 1312.4h0M482.2 1267h0M480.1 1267.6h0M479.7 1436.5h0M394.3 1551.6h0M512.4 1277.5h0M438.1 1290.4h0M469 1456.7h0M505.6 1270.4h0M365.7 1360.7h0M503.1 1383.9h0M504.2 1381.1h0M493.6 1407.2h0M517.7 1335.8h0M467.9 1272.5h0M516.3 1341.7h0M516.3 1341.7h0"/>
<path stroke="#00d8cb" d="M499.2 1267.8h0M502.4 1269.2h0M238.9 1495.8h0M517.9 1332.2h0M519.6 1317.7h0M518.9 1299.6h0M519.4 1304.8h0M507.8 1273.6h0M517 1336.2h0M422.7 1302.6h0M403 1319.6h0M404.7 1318.1h0M505.7 1272.2h0M256.5 1485.9h0M497.1 1397.6h0M517.9 1329.8h0M343.3 1396.7h0M397.1 1325.4h0M396.9 1325.6h0M518 1328.8h0M366.5 1360.3h0M368.5 1357.6h0M490 1267.6h0M511.9 1355.4h0M430 1297.2h0M439.2 1290.5h0M518.4 1321.7h0M517 1295.5h0M331.6 1418.6h0M464.7 1275.2h0M517.6 1326.7h0M422.6 1525.2h0M469.9 1453.1h0M518.1 1321.1h0M429.4 1297.9h0M341 1401.6h0M485 1268.9h0M473 1272h0M369.5 1610.3h0M515.6 1293.8h0M376 1348.9h0M488.8 1414.9h0M366.7 1360.8h0M369.6 1356.9h0M506 1370.9h0M464.2 1469.6h0M385 1568.5h0M337.6 1408.5h0M464.7 1465.1h0M514.9 1293.1h0M506.9 1367.6h0M464.8 1464.5h0M324.7 1430.4h0M514.1 1341h0M397.3 1545.5h0M509 1360.9h0M379 1582.9h0M517.1 1310.6h0"/>
<path stroke="#00dac8" d="M490.7 1410.1h0M326.3 1428.1h0M516.7 1305.4h0M464 1469.3h0M506.5 1277.3h0M476.8 1271.7h0M373.3 1352.6h0M498.7 1390h0M364.3 1622.9h0M496.7 1271.2h0M497.9 1271.7h0M454.8 1513.8h0M515 1296.5h0M358.9 1372.5h0M294.3 1460.4h0M515.5 1329.8h0M382.9 1572.8h0M293.6 1461.1h0M505.2 1277h0M321.4 1434.9h0M434.1 1295.5h0M271.1 1478.5h0M502.1 1274.5h0M360.8 1369.8h0M428.3 1299.9h0M478.8 1434.3h0M396.6 1327.3h0M414.5 1311h0M467.8 1496.1h0M514.6 1297.7h0M490 1270.7h0M511.9 1288.8h0M288.2 1466.1h0M515.9 1312.5h0M355.2 1378.6h0M497.4 1272.6h0M511.5 1347.5h0M441.2 1290.9h0M477.6 1272.4h0M373.7 1597.1h0M485.6 1271.1h0M512 1289.7h0M490 1271.1h0M380.5 1344.6h0M514.9 1301.6h0M392.7 1331.4h0M462.5 1508h0M372.3 1354.6h0M467.6 1495.3h0M465.8 1276.9h0M261.9 1484h0M509.3 1355.5h0M268.7 1480.2h0M354.6 1379.8h0M483.1 1271.8h0M511.6 1290.2h0M382.2 1573.7h0M435.1 1295.4h0M419.9 1307.1h0M420.7 1525.2h0M510.9 1347.5h0M364 1366h0M322 1434.9h0M280.5 1472.6h0M514.9 1309.9h0M511.3 1290.7h0M507.2 1282.4h0M494.9 1273h0M398.8 1325.9h0M367.1 1614.8h0M514.7 1318.6h0M514.2 1304.4h0M367.7 1613.2h0M350.1 1387.7h0M511.1 1345h0M383.1 1342.3h0M500.4 1381.8h0M490.3 1407.8h0M466.8 1455.7h0M499.8 1275.9h0M422.7 1305.3h0M506.1 1363.7h0M513.4 1301.4h0M508.1 1285.4h0M381.3 1344.5h0"/>
<path stroke="#00dec3" d="M348.5 1390.7h0M479 1273.5h0M510.2 1290h0M359.5 1372.9h0M401.7 1538.4h0M484.2 1272.9h0M344.1 1398.7h0M450.7 1285.9h0M254.6 1488.3h0M460.2 1509.5h0M387.9 1560.5h0M419.8 1307.9h0M485.6 1273.2h0M414.2 1312.6h0M505.9 1362.7h0M483.1 1423h0M498 1386.8h0M493.9 1274.6h0M513.5 1321.5h0M509.8 1291.6h0M374.5 1353h0M513.5 1319.7h0M424 1304.8h0M513.4 1310.6h0M490.4 1273.9h0M457.3 1282.6h0M277.4 1475.3h0M285.6 1469.1h0M475.8 1275.2h0M427.7 1302h0M495.4 1275.5h0M394.7 1548h0M449.1 1287.5h0M412.8 1314.1h0M488.8 1274.2h0M250.7 1490.7h0M303.7 1453.3h0M500.6 1279.3h0M508.8 1291.3h0M464.9 1503.3h0M273.2 1478.2h0M311.6 1446.3h0M341.4 1404.6h0M267.4 1481.7h0M498.3 1384.2h0M453.9 1285h0M501.3 1280.3h0M403.2 1322.9h0M474.5 1276.3h0M510.7 1338.2h0M512.1 1327.1h0M512.3 1309.4h0M478.2 1432h0M364 1367.4h0M479.4 1429.5h0M424.4 1305.1h0M469.7 1448h0M428.4 1302.1h0M502.8 1369.6h0M509.7 1342.5h0M506.3 1357.3h0M370.6 1603.8h0M428 1302.5h0M509.4 1343.2h0M511.9 1309.5h0M490.7 1275.7h0M303.3 1454h0M478.2 1431.5h0M372.5 1356.4h0M478 1276h0M326 1431.3h0M487.8 1275.5h0M474.5 1276.9h0M502.7 1368.9h0M496.5 1387.6h0M506.7 1290h0M374.4 1592.4h0M472 1443.1h0M482.2 1275.7h0M509.7 1298.8h0"/>
<path stroke="#00dfc0" d="M462.6 1281.4h0M507.6 1292.7h0M511.4 1312.6h0M313.3 1445.3h0M487.4 1276.1h0M321.2 1437.4h0M507 1292h0M416.4 1312.1h0M505.1 1288.4h0M427 1303.8h0M508.7 1342.3h0M499.3 1378.3h0M509.9 1334.5h0M495.3 1389.7h0M492 1398.5h0M444.1 1516.9h0M476.5 1277.4h0M461.8 1473.8h0M409.3 1530.3h0M410.9 1317h0M479.3 1276.9h0M386.8 1561.5h0M509.5 1303.2h0M494.9 1279.1h0M493.5 1394.1h0M510.2 1328.6h0M500.1 1283.1h0M510.4 1325.1h0M510.6 1316.8h0M505.7 1291.5h0M506.6 1293.7h0M471.7 1442.6h0M465.8 1493.1h0M468.8 1448h0M501.4 1285h0M478.5 1277.5h0M509.9 1328h0M462 1476.5h0M500.2 1284.1h0M509.7 1329.9h0M377.8 1582h0M343.5 1402.4h0M502.1 1367h0M497.9 1380.4h0M393.3 1549.1h0M489.7 1278.1h0M482.3 1277.5h0M508.6 1302.6h0M500.8 1285h0M473.3 1439.1h0M323.9 1435h0M504 1290.3h0M285.5 1470.5h0M472.6 1279.4h0M293.5 1463.6h0M464.9 1500.6h0M296.1 1461.3h0M507.8 1301.2h0M438.5 1296.6h0M507.3 1300.1h0M296.5 1461h0M500.4 1286h0M482.3 1419.8h0M489.6 1279.2h0M485.3 1412.7h0M499.8 1285.6h0M476.9 1279h0M280.3 1474.7h0M474.8 1279.4h0M484.5 1278.6h0M505.5 1349.9h0M441.2 1295.2h0"/>
<path stroke="#00e1bd" d="M508.5 1309.2h0M413.1 1527.4h0M323.9 1435.5h0M504.9 1352.3h0M415.4 1526.1h0M445.7 1292.5h0M430.7 1302.5h0M290.4 1466.8h0M500.6 1287.8h0M345.6 1399.7h0M477.3 1279.6h0M488.8 1403.1h0M502 1362.7h0M492.8 1392.2h0M490.3 1280.6h0M253.5 1490.4h0M508 1330.4h0M465.6 1452.3h0M322.9 1437h0M493.8 1282.5h0M467.3 1282.4h0M507.8 1312h0M258.2 1488h0M476.3 1280.2h0M506.9 1306.1h0M366.3 1612.8h0M505.8 1343.8h0M489.3 1401.1h0M496 1284.6h0M432.3 1519.9h0M279.1 1476h0M488.2 1403.5h0M507.4 1330.3h0M453.5 1288.8h0M507.2 1310.8h0M465 1495.4h0M504.7 1299h0M416.5 1525.3h0M435.2 1519h0M425.3 1522h0M436.4 1518.6h0M432.6 1302.1h0M490.3 1397.2h0M464.7 1492.3h0M386.2 1561h0M332.2 1425h0M406.1 1323.2h0M503.2 1296.3h0M370.5 1600.7h0M467.9 1446.6h0M461.7 1479.7h0M504.3 1348.6h0M405.6 1323.8h0M496.6 1286.6h0M293.6 1464.5h0M485.5 1409.3h0M436.4 1299.6h0M292.8 1465.2h0M458.9 1508h0M457 1509.6h0M502.8 1354.3h0M381.7 1570.4h0M502.5 1296.3h0M346.2 1400h0M443.5 1295.4h0M238.6 1499.4h0M504.3 1345.4h0"/>
<path stroke="#00e2bb" d="M494.2 1285.7h0M506.2 1330.2h0M414.3 1526.1h0M381.9 1348.1h0M482.1 1416.7h0M359 1378.7h0M387 1559.1h0M505.4 1336.7h0M401.8 1327.7h0M487 1404.5h0M338.7 1414.3h0M347.1 1398.9h0M285.7 1471.8h0M388.8 1555.4h0M498.7 1368.1h0M504.4 1306.1h0M448.1 1514.3h0M505.6 1316.8h0M375.6 1585.1h0M380.2 1350.6h0M374.6 1357.5h0M446.3 1294.5h0M499.6 1363h0M448.9 1513.7h0M500.7 1357.8h0M365.1 1370.4h0M499.9 1295.6h0M351.2 1392.3h0M474.9 1283.5h0M482.1 1414.9h0M259.4 1488.2h0M404.6 1325.8h0M320 1441.4h0M503.3 1306.2h0M474 1283.9h0M478.4 1423.1h0M409.9 1321.3h0M431.1 1519.6h0M501.8 1351.1h0M347.1 1399.8h0M504 1311.3h0M420.2 1312.9h0M401.6 1535.5h0M491 1390.7h0M325.2 1436.1h0M471.5 1437.3h0M477.9 1423.7h0M494.4 1379.4h0M421.5 1522.6h0M496.8 1370.9h0M495.2 1376.5h0M499.5 1360.1h0M502.9 1341.7h0M496.7 1293h0M463.5 1491.1h0M459.9 1461.7h0"/>
<path stroke="#00e5b6" d="M279 1477.4h0M378.5 1353.6h0M504 1321.8h0M495.3 1292h0M345.8 1402.8h0M271.5 1482.1h0M410.4 1527.8h0M462.4 1501.4h0M343.3 1407.6h0M393.4 1546.4h0M337 1419.4h0M495.2 1292.4h0M503.4 1330.9h0M501.6 1346.7h0M458.9 1289.7h0M503.4 1325.2h0M478.4 1285.3h0M433.9 1303.8h0M446 1296.2h0M463.5 1493.4h0M500.4 1352.3h0M397.2 1540.5h0M382.9 1348.8h0M443.7 1297.6h0M501.2 1306.2h0M498.6 1299.1h0M362.5 1619.5h0M477.2 1423.8h0M485.7 1402.8h0M498.8 1358.7h0M490.1 1390h0M499.6 1354.7h0M434.8 1518.2h0M492.6 1291.3h0M369.9 1599.3h0M422.5 1312.4h0M463.8 1288.6h0M439.8 1300.4h0M500.8 1346.4h0M491.9 1383.6h0M361.3 1622h0M502.3 1318.2h0M328.9 1432.7h0M462.4 1500.2h0M250.9 1493.4h0M502.2 1318h0M424 1521.3h0M354.3 1389.1h0M502.1 1330.6h0M461.9 1501.4h0M496 1368h0M469.9 1287.5h0M497.9 1359.7h0M496.6 1298.4h0M495.9 1297.2h0M490.6 1386.8h0M493.6 1294.2h0M496.8 1299.1h0M467.6 1442.1h0M324.9 1437.8h0M332.4 1428.2h0M323.3 1439.6h0M405 1531.2h0"/>
<path stroke="#00e7b3" d="M458.6 1462.2h0M460.5 1482.5h0M484.3 1288.5h0M418.3 1316.3h0M363.7 1615.4h0M429.1 1519.6h0M466.4 1444.1h0M367.4 1369.5h0M361.7 1620.2h0M483.2 1406.7h0M495.8 1366h0M370.7 1596.2h0M368.8 1601.5h0M397.2 1335.1h0M238 1501.3h0M482.8 1407.4h0M337.5 1420.3h0M372.9 1589.8h0M371.5 1364.2h0M497.2 1303.2h0M321.6 1441.6h0M460.9 1454.6h0M337 1421.4h0M489.3 1292.6h0M459.3 1458.3h0M277 1479.8h0M500.7 1325.9h0M495.3 1366h0M449.4 1296.6h0M426.6 1310.8h0M494.1 1298.6h0M484.9 1400.5h0M408.4 1325.2h0M377.9 1356.5h0M346.3 1404.7h0M278.5 1479h0M483.8 1290.5h0M497.2 1355.9h0M493.3 1298.2h0M337.8 1420.6h0M500 1321.5h0M459.5 1457.1h0M468.3 1289.9h0M288.4 1471.8h0M498.5 1347.4h0M462.5 1450.3h0M482.5 1406.3h0M454.6 1294.7h0M320.2 1443.4h0M360 1623.3h0M487.8 1390.9h0M406.9 1326.9h0M498.4 1312.5h0M499.4 1336h0M499.6 1324.9h0M484 1401.8h0M380.8 1353.6h0M486.9 1293.1h0M356 1388.2h0M487.8 1293.9h0M496.9 1354.2h0M469 1436.9h0M492 1375.7h0M477 1290.1h0M358.1 1384.9h0M396.4 1540.2h0M278.9 1479.1h0"/>
<path stroke="#00e8b0" d="M359.6 1382.7h0M310.6 1452.2h0M344.5 1409h0M338 1421.1h0M472 1430.4h0M264.6 1487.3h0M492.7 1372h0M424 1313.7h0M496.5 1354.2h0M330.7 1432.3h0M469.4 1435.5h0M395.3 1541.6h0M367 1604.8h0M271.6 1483.6h0M462.7 1292.6h0M475.7 1290.9h0M399.1 1334.7h0M463.7 1292.5h0M491.3 1376.2h0M350.8 1398h0M347 1405h0M477.6 1417h0M298.3 1463.6h0M452.9 1296.7h0M425.2 1520.1h0M492.5 1301.9h0M471.1 1431.3h0M359.9 1383h0M367.1 1604.3h0M470.5 1432.5h0M497.2 1345.4h0M486 1295.1h0M457.9 1459.1h0M496.7 1348.2h0M493 1367.7h0M467.3 1438.7h0M497.7 1337.8h0M382 1565.3h0M359.3 1384.1h0M306.7 1456.1h0M496.1 1312.5h0M494.3 1307h0M483.7 1294.3h0M458.9 1455.7h0M287.1 1473.8h0M285.3 1475.2h0M452.3 1297.5h0M402.6 1332.1h0M493.1 1366h0M468.6 1435.7h0M478.8 1292.9h0M419.9 1317.7h0M363.1 1614.3h0M445.8 1513.1h0M326.5 1438.4h0M481.2 1405.6h0M462.6 1294.2h0M410 1325.9h0M468.7 1435.1h0M461.4 1449.6h0M408.5 1327.2h0"/>
<path stroke="#00e9ae" d="M496.8 1323.2h0M300.4 1462.2h0M451 1298.7h0M491.6 1303.7h0M379.8 1356.4h0M496.9 1330.9h0M493.3 1307.9h0M490.9 1372.7h0M487.5 1299h0M453.3 1508.7h0M280.1 1479.3h0M459.9 1452.1h0M374.2 1363.8h0M281.4 1478.5h0M493.4 1359h0M286.2 1475.1h0M407.5 1527.7h0M328 1437.2h0M495.3 1319.2h0M381.1 1566.3h0M425.1 1314.9h0M372.1 1366.9h0M460.2 1499.3h0M483.3 1297.5h0M490 1304.5h0M462.4 1446.1h0M357.9 1388h0M494.6 1318.4h0M494.6 1347.6h0M493.3 1356.6h0M381.3 1565.8h0M337.2 1425.1h0M469.6 1294.9h0M401.9 1532.2h0M368.2 1372.5h0M494.7 1345.8h0M397.8 1338h0M459.8 1451h0M487.6 1381.6h0M349.7 1402.7h0M446.6 1302.3h0M389.9 1346.2h0M387.1 1349.2h0M312.1 1452.4h0M354.4 1394.4h0M397.5 1338.7h0M246.5 1498h0M479 1407.8h0M460.5 1494h0M492.4 1312.8h0"/>
<path stroke="#00eca8" d="M479.1 1407.3h0M345.8 1410.3h0M451.9 1509h0M489.1 1306.2h0M280.7 1479.6h0M455 1465.9h0M283.2 1477.9h0M493.1 1352.7h0M441.7 1514h0M390.2 1548h0M424.5 1316.3h0M363.5 1380.1h0M488.8 1373.8h0M401.7 1335.1h0M364.6 1608.5h0M487.4 1379.2h0M458.3 1453.2h0M489.4 1370.8h0M465.5 1296.7h0M411.2 1326.8h0M307.4 1456.9h0M487 1304.1h0M369.5 1371.6h0M493 1350.2h0M241.7 1501.1h0M236.4 1504.4h0M431.5 1312h0M493.3 1323.3h0M488.2 1374.7h0M473.9 1419.3h0M460.1 1494.7h0M395.4 1341.5h0M492.9 1348.8h0M454.5 1467.9h0M491.7 1315.8h0M451.2 1509.2h0M445.2 1512.4h0M446.9 1511.6h0M436.2 1309.2h0M467.5 1297.3h0M396.2 1340.8h0M408.5 1526.4h0M351.9 1400.2h0M488.3 1373h0M331.7 1434.5h0M459.5 1498.5h0M349 1405.5h0M487.7 1375.6h0M387.6 1552.2h0M457.6 1299.5h0M410.9 1327.6h0M238.9 1503h0M456.7 1480.5h0M358.3 1389.5h0M350.8 1402.6h0M251.5 1495.9h0M467 1433.8h0M311.9 1453.5h0M492.9 1338.4h0M431.5 1312.8h0M251.2 1496.1h0M447 1304.1h0M260.9 1491.1h0M491.4 1354.2h0M478.6 1300.1h0M391.1 1545.8h0M490.3 1360.5h0M352.1 1400.4h0"/>
<path stroke="#00eda5" d="M471 1298.4h0M373.7 1582.2h0M479.5 1402.4h0M418.8 1321.8h0M492.5 1330.5h0M442.8 1513.1h0M488 1310.6h0M420.1 1520.6h0M333.6 1432.6h0M373.9 1366.9h0M375.6 1577.3h0M478.2 1405.8h0M474.8 1299.4h0M440.1 1514.1h0M488.6 1312.8h0M456.4 1480.4h0M363.7 1609.5h0M418.7 1322.3h0M417.6 1323.1h0M474.6 1415.1h0M466.8 1299.2h0M469 1299.2h0M307.4 1457.8h0M280.1 1480.9h0M438.7 1514.5h0M486.9 1310.4h0M476.5 1300.8h0M449.4 1509.6h0M489 1363.1h0M313.7 1452.4h0M491.2 1326.6h0M490.9 1349.6h0M461.7 1443.1h0M425.6 1317.7h0M394.1 1344.3h0M486.8 1311.3h0M456.6 1301.7h0M456.3 1454.4h0M480.1 1303.6h0M339.2 1425.1h0M380.7 1565h0M405.4 1333.8h0M375.7 1365.4h0M454.6 1459h0M489.4 1358.1h0M433.3 1516h0M433.9 1312.6h0M324.6 1443.2h0M489.8 1321.8h0M480.7 1304.6h0M453.4 1467h0M489 1359.5h0M453.4 1506.5h0M286 1477.4h0M486.3 1312.3h0M470.5 1300.8h0M454.8 1476.8h0M480 1304.6h0M490.8 1337.1h0M453.5 1471h0M489.5 1322.6h0M440.6 1309.2h0M457.2 1485.1h0M402.6 1336.7h0M464.8 1435.6h0"/>
<path stroke="#00eea1" d="M485.6 1375.2h0M481.7 1306.8h0M420.7 1519.9h0M341.7 1421.5h0M376.7 1573.6h0M489.2 1355.1h0M244.4 1500.6h0M408 1332.1h0M455.8 1454.3h0M270.7 1486.9h0M390.6 1545.6h0M463.2 1438.6h0M442.1 1512.8h0M303.2 1462.4h0M338.3 1427.6h0M487.4 1318h0M333.3 1434.6h0M244.4 1500.8h0M396.4 1536.8h0M347.1 1412.2h0M475.3 1303.7h0M454 1475.6h0M489.8 1338.4h0M462.6 1439.4h0M380.4 1360.6h0M281.6 1480.9h0M414.1 1522.3h0M482.9 1383.5h0M476.6 1405.1h0M329.9 1438.6h0M359.7 1389.9h0M486.3 1317h0M264.7 1490.2h0M283.4 1479.8h0M296.4 1469.2h0M453.9 1458.3h0M418.7 1324.3h0M489.4 1338.5h0M489 1346.7h0M474.4 1410.9h0M477.5 1401.8h0M368.7 1593.5h0M440.3 1310.6h0M466 1431.5h0M337.4 1429.6h0M479.7 1394.3h0M476.8 1305.8h0M353.3 1401.4h0M438.6 1311.6h0M480.4 1308.7h0M480.2 1392.3h0M349.3 1408.8h0M392.5 1542.1h0M400.7 1339.6h0M479.5 1308h0M400.4 1339.9h0M372.5 1371.3h0M461.9 1439.8h0M475.9 1305.5h0M354.8 1398.9h0M468.9 1303.5h0M454.8 1479.6h0M279.5 1482.5h0M487.2 1359.2h0M485.7 1318.4h0M487 1323h0M345.1 1416.9h0M486.8 1361.6h0M444.8 1308.9h0M478.6 1307.9h0M476.7 1402.8h0M454.9 1305.1h0M440.9 1310.8h0M488.3 1332.3h0M480 1309.3h0M486 1365.7h0M462.1 1303.8h0"/>
<path stroke="#00f09b" d="M478.5 1308.1h0M443.4 1309.6h0M481.8 1311.7h0M295.9 1470.1h0M483.1 1379.2h0M396.2 1536.4h0M444 1511.4h0M472.2 1305.1h0M366.7 1598.5h0M487.1 1355.8h0M473.1 1305.5h0M401.7 1339.3h0M417.9 1520.4h0M431.6 1316.5h0M484.3 1372.7h0M356 1397.6h0M471 1305.1h0M484 1317.1h0M432.7 1315.9h0M322.9 1446.2h0M279.1 1483.1h0M422.9 1518.5h0M476.8 1308.2h0M457.3 1448h0M373 1371.6h0M482.2 1380.9h0M267.3 1489.5h0M487.4 1345.7h0M403.9 1337.7h0M367.5 1379.6h0M458.3 1305.6h0M306.8 1460.3h0M445.2 1309.8h0M461.3 1305.2h0M487.3 1339.2h0M458.2 1305.7h0M414.4 1329h0M468 1305.4h0M388.5 1548h0M356.8 1396.8h0M269.8 1488.3h0M480.8 1313.5h0M415 1328.7h0M475.4 1403.7h0M366.2 1382h0M483.7 1370.8h0M486.8 1344.3h0M374.4 1577.1h0M337.8 1430.7h0M412.7 1330.7h0M430 1318.5h0M481.8 1316.8h0M370.1 1376.4h0M399.7 1342.2h0M486.6 1341.9h0M454 1503.8h0M486.1 1332.2h0M447.9 1508.9h0M486.2 1334.5h0M377.3 1570.1h0M452.1 1460h0M285.2 1479.7h0"/>
<path stroke="#00f197" d="M420.7 1324.9h0M483.8 1368.7h0M486 1332.9h0M257.3 1494.9h0M483.7 1368.5h0M486.2 1337.5h0M411.9 1331.8h0M486 1348.8h0M481.1 1381h0M470 1417.6h0M482.2 1375.6h0M381.8 1361.6h0M356.6 1398.2h0M388.8 1547h0M446 1310.7h0M485.9 1346.5h0M475.2 1402.3h0M437 1315.1h0M424.2 1322.8h0M459.8 1440.8h0M457 1307.5h0M290.1 1476.2h0M362.1 1389.2h0M388.6 1354h0M451.2 1464h0M358.9 1617.4h0M389.1 1353.5h0M305.7 1462h0M389.8 1352.8h0M479.4 1386.4h0M435.6 1316.1h0M444.3 1311.8h0M483.2 1368.2h0M432 1318.2h0M454.6 1451.4h0M300.4 1467.2h0M469.2 1308.6h0M349.2 1412.5h0M438.6 1314.8h0M419 1327h0M464.8 1307.9h0M451 1469.7h0M362.8 1607h0M459.6 1308h0M478.6 1315.6h0M368.5 1591.4h0M452.8 1309.3h0M425.6 1322.5h0M442.5 1313.1h0M246.5 1501h0M483.8 1361.4h0M420.2 1326.3h0M430.3 1319.6h0M321 1448.9h0M419.2 1327.1h0M483.9 1330.3h0M401.3 1341.9h0M430.3 1319.7h0M453.2 1453.9h0M344 1422.3h0M484.8 1344.6h0M481.2 1321.4h0M476.3 1396.1h0M368.3 1591.6h0M267.4 1490.4h0M481.1 1375.8h0M385.8 1551.6h0M468.8 1418.3h0M453.1 1479.2h0M371.5 1376h0M478 1388.8h0M406.1 1337.9h0"/>
<path stroke="#00f294" d="M483.3 1330.8h0M460.7 1437.1h0M472.1 1311.5h0M346.6 1418.2h0M362.6 1389.7h0M483.7 1355.7h0M366 1384.4h0M386.9 1357h0M409.3 1335.4h0M451.9 1504.7h0M477.7 1388.7h0M478.9 1319.1h0M478.8 1319h0M444.7 1509.9h0M457.8 1309.5h0M483.4 1357.1h0M481.2 1324.6h0M414.6 1520.8h0M305.1 1463.3h0M456.9 1444.3h0M448.9 1312h0M287.5 1479.2h0M345 1421.8h0M473.4 1313.9h0M457.2 1443.5h0M439.2 1316.1h0M414.9 1331.4h0M474.1 1400.6h0M280.2 1484h0M444.6 1509.7h0M407.3 1524.5h0M478.8 1321.3h0M455.2 1499.3h0M448.2 1507.5h0M441.2 1315.4h0M265.7 1491.7h0M476.7 1390.2h0M331.9 1440h0M383.3 1361.9h0M361.2 1393h0M452.3 1311.7h0M477.4 1319.6h0M358.9 1397h0M385.7 1359.4h0M481.8 1332.6h0M482.6 1339.4h0M343.7 1424.7h0M482.5 1354.1h0M482.6 1353.4h0M471.9 1406.3h0M370.7 1378.7h0M474.2 1398.3h0M482.7 1343h0M425.5 1324.6h0M465.2 1311.6h0M401.9 1528.4h0M379.1 1564.1h0M452.9 1481.1h0M477.5 1321.1h0M470.8 1409.1h0M383.8 1361.8h0M443.3 1315.2h0M453.2 1312.2h0M457.7 1311.5h0"/>
<path stroke="#00f390" d="M466.3 1421.3h0M463.1 1429h0M482.1 1352.4h0M481 1332.4h0M431.5 1514.6h0M387.9 1357.4h0M379.3 1367.6h0M450 1471.6h0M460.2 1311.8h0M472.4 1316.1h0M335.2 1437.2h0M473.4 1317.3h0M374.2 1374.6h0M317 1453.6h0M449.4 1463.6h0M464.8 1313.1h0M413.3 1334.1h0M366 1386.6h0M477.5 1324.3h0M467.1 1417.7h0M481.2 1353.7h0M380.4 1366.8h0M458.2 1312.8h0M374 1575h0M435.4 1319.9h0M377.1 1371.1h0M480.4 1335h0M426.8 1324.8h0M465.4 1422.1h0M454.2 1447.4h0M455.2 1495.2h0M461.9 1313.4h0M473.5 1396.7h0M475.4 1389.2h0M480.1 1335.6h0M454.1 1447.2h0M475.8 1323.1h0M477.7 1378h0M395 1535.4h0M295.2 1474.2h0M455 1445.1h0M480.2 1338.4h0M421.8 1328.6h0M277.5 1486.5h0M385.5 1361.2h0M431 1514.4h0M428.3 1324.4h0M448.1 1315.4h0M356.6 1403.3h0M464.4 1423.4h0M476.4 1325.2h0M435.5 1320.6h0M449.2 1460.7h0M342.1 1429.2h0"/>
<path stroke="#00f588" d="M336.3 1436.8h0M447.8 1315.7h0M453.3 1448.4h0M363.4 1391.8h0M449.3 1471.3h0M474.2 1392.1h0M459.2 1435.4h0M439.9 1318.7h0M347.4 1420.6h0M341.1 1430.9h0M338.2 1434.7h0M453.9 1446.8h0M377.6 1371.2h0M417.8 1331.8h0M365.4 1388.7h0M477 1378.9h0M444.5 1317h0M409.3 1522.5h0M476.5 1381.3h0M250 1500.6h0M479.8 1342.4h0M292.4 1476.9h0M479.5 1359.3h0M476.8 1328.9h0M367 1386.6h0M476 1382.3h0M446.3 1316.9h0M370.2 1381.9h0M395.4 1351.4h0M453.5 1447h0M410.8 1337.6h0M475.3 1384.6h0M417.9 1332.3h0M432.5 1323.1h0M460 1315.5h0M284.3 1483h0M311.7 1459.1h0M346 1423.9h0M448.4 1468.6h0M479.2 1344.1h0M282.1 1484.4h0M365.4 1596.1h0M470.5 1320.4h0M453.4 1486.4h0M448.9 1471.7h0M330.9 1442.9h0M425.9 1327.2h0M236.8 1508.8h0M471.7 1322.1h0M478.7 1342.3h0M477.6 1369.2h0M453.2 1446.7h0M338.2 1435.5h0M334.7 1439.4h0M405.7 1342.3h0M449.6 1316.9h0M424.4 1328.4h0M473.4 1391h0M470.4 1321.3h0M471.2 1399.4h0M371.7 1579.1h0M448 1464.1h0M457.4 1437.3h0M473.5 1325.5h0"/>
<path stroke="#00f685" d="M457.2 1437.5h0M476.6 1373.1h0M430.7 1324.9h0M314.6 1457h0M477 1335.6h0M467.7 1319.8h0M468.6 1320.5h0M241.7 1505.9h0M477.7 1339.6h0M467.7 1410.2h0M462.4 1317.6h0M458.5 1434.3h0M292 1478.1h0M366.9 1388.4h0M453.5 1497.5h0M461.6 1317.8h0M477.4 1363.1h0M320 1452.7h0M460.9 1428.1h0M261.9 1495.2h0M365.4 1390.8h0M438.7 1321.5h0M454.3 1443.1h0M279.2 1486.5h0M477.7 1345.4h0M477.8 1354.9h0M467.4 1320.7h0M461.5 1426.6h0M306.6 1464.6h0M472.2 1393h0M348.1 1421.8h0M304.8 1466.4h0M437.6 1322.2h0M269.9 1491.4h0M391.8 1538.8h0M477 1341.4h0M472.2 1326.5h0M459.7 1318h0M440.8 1321h0M390 1358.6h0M327.4 1446.8h0M473.4 1328.9h0M453.5 1489.9h0M297.9 1473.3h0M472.1 1392.3h0M396.1 1352.4h0M448.5 1473.2h0M473.2 1386.5h0M234.7 1510.8h0M453.6 1318.3h0M439 1322.1h0M338.7 1436.1h0M473 1329.2h0M477.1 1356.5h0M332.2 1442.8h0M244.3 1504.8h0M389.4 1542.4h0M367.1 1388.9h0M395.1 1534h0M374.9 1377.4h0M477.1 1351.6h0M345.4 1427.1h0M475 1335.1h0M448.9 1455h0M354.3 1622.6h0M364 1598.4h0M337.4 1437.8h0M461.5 1425.2h0M468.9 1324.1h0M459.9 1429.1h0M433.5 1325h0M473.7 1382.4h0M437 1323.3h0M383.8 1552.2h0M444.3 1320.6h0M446.2 1320.1h0M351.4 1416.8h0M365 1595.3h0"/>
<path stroke="#00f781" d="M461.7 1320.1h0M336.8 1438.6h0M387.6 1362h0M297.4 1474.2h0M471.5 1391.7h0M350 1419.6h0M388.1 1361.6h0M245.8 1504.1h0M465.8 1322.6h0M476.1 1347.7h0M355.4 1619.6h0M364.9 1595.5h0M472.2 1387.3h0M304.5 1467.5h0M383.4 1367.3h0M475.8 1346.6h0M412.7 1338.9h0M466.3 1323.6h0M364.8 1595.4h0M282 1485.7h0M424.9 1330.5h0M416 1336.5h0M464.6 1414.9h0M455.4 1438.1h0M463.7 1417.3h0M450.8 1501.4h0M350.8 1418.9h0M334.5 1441.4h0M473.2 1335.2h0M454.6 1320.4h0M446.6 1464.2h0M368.2 1388.5h0M473.5 1336.7h0M446.6 1464.1h0M356 1409.6h0M437.8 1510.6h0M384.2 1366.9h0M289.2 1481.3h0M474.4 1370.6h0M434.5 1325.9h0M398.9 1529.1h0M462.8 1419h0M475.2 1357.6h0M470.4 1392.5h0M353.1 1624.1h0M412.2 1340h0M414.6 1338.2h0M438.2 1324.5h0M475.1 1354h0M448 1321.7h0M259.3 1497.4h0M376 1567.2h0M341.4 1434.4h0M464.7 1412.6h0M472.8 1337.5h0M370.6 1385.6h0M441.1 1323.7h0M469.1 1329.5h0M456.4 1321.6h0M446.4 1462.2h0M353.7 1622.5h0"/>
<path stroke="#00f979" d="M452.4 1321.6h0M459.6 1322.5h0M448.4 1322h0M465.6 1325.9h0M446.4 1461h0M446.2 1465.8h0M471.8 1336h0M474 1346h0M448.1 1503.9h0M472.4 1338.8h0M298.7 1474h0M378.1 1562.5h0M353.9 1414.6h0M414.5 1339h0M391.9 1359.2h0M463.6 1325.3h0M472.8 1374.5h0M459.3 1426.3h0M467.7 1329.5h0M368.4 1584.7h0M353.4 1622.8h0M385.8 1366.1h0M462.9 1416.1h0M452.1 1322.6h0M253.9 1500.5h0M252.3 1501.3h0M463.1 1325.5h0M463.4 1414.6h0M352.7 1624.1h0M452.3 1492.6h0M396.5 1354.9h0M449.1 1450h0M472 1340.2h0M344.5 1431.2h0M306.3 1466.9h0M427.6 1331.1h0M344.2 1431.8h0M445.4 1324.1h0M462.3 1416.9h0M461.3 1419.9h0M454 1323.4h0M369.2 1389h0M444.6 1324.3h0M363.3 1597.8h0M466.8 1401.6h0M473.4 1357.1h0M466.6 1329.9h0M454.1 1323.5h0M425.1 1514.6h0M357 1409.9h0M468.5 1394.4h0M448.8 1449.9h0M384.1 1368.9h0M345.1 1430.8h0M418 1337.5h0M445.5 1464.7h0M468.7 1392.8h0M472.2 1371.7h0M468.5 1333.8h0M470 1386.1h0M463.8 1328h0M326.4 1449.6h0M397.7 1354.5h0"/>
<path stroke="#00f975" d="M359.8 1405.2h0M434.2 1328.5h0M442.1 1507.7h0M371.7 1385.8h0M446 1470.7h0M240.6 1508.4h0M447.2 1475.1h0M469.6 1337.1h0M425.6 1333.1h0M360.4 1404.4h0M472.1 1348.9h0M459.7 1326.5h0M347.9 1427.3h0M470.9 1377.1h0M398.1 1354.5h0M371.7 1386.3h0M336.8 1441h0M351.6 1421h0M445.2 1462.3h0M384.8 1368.9h0M296.3 1477.2h0M296.1 1477.4h0M405.8 1522.6h0M451.1 1488.3h0M465.4 1403.3h0M408.2 1521.2h0M426.6 1333.2h0M456.1 1326h0M428 1513.3h0M424 1334.7h0M371.8 1386.6h0M381.3 1554.8h0M412.8 1518.8h0M429 1332.1h0M467.6 1336.6h0M468.2 1338.3h0M419.6 1516.1h0M446.2 1473.6h0M404 1523.6h0M455.4 1326.6h0M381.9 1373.1h0M471.4 1358h0M440.3 1327.8h0M470.2 1345.8h0M308.2 1466.1h0M453 1326.6h0M466.4 1335.7h0M436.8 1329.2h0"/>
<path stroke="#00fa70" d="M464 1406h0M398.3 1528.3h0M292.1 1481.1h0M470.3 1350.5h0M466.1 1396.9h0M419 1338.9h0M470.6 1365h0M470.3 1369.9h0M403.7 1350.7h0M460.6 1416.6h0M350.7 1424.4h0M459.3 1420.5h0M468.1 1386.5h0M445.8 1454.9h0M469.8 1374h0M409.8 1520h0M260.8 1498.1h0M417.9 1339.8h0M405.3 1349.6h0M353.6 1620.1h0M269.7 1493.9h0M421.7 1515h0M404.1 1350.8h0M470 1357.3h0M452.7 1436.5h0M449.2 1499.7h0M446.2 1328.1h0M451.2 1439.9h0M245.7 1506.2h0M414.3 1342.8h0M458.9 1420.2h0M445.3 1328.3h0M402.3 1352.6h0M353.9 1619.1h0M396.2 1358.5h0M468.2 1381.4h0M468.4 1379.8h0M364.2 1400.9h0M375.9 1382.5h0M469.8 1361h0M464.9 1337.5h0M341.8 1437.5h0M450.6 1490.6h0M337.8 1441.5h0M462.9 1334.6h0M400.8 1354.2h0M456.2 1329.7h0M371.8 1388.6h0M276.4 1490.9h0M423.4 1337.2h0M446.9 1328.6h0M426.8 1335.3h0M455.3 1429.4h0M357 1414h0M361.7 1599.4h0M468.1 1346.8h0M446.7 1450.3h0M337.8 1441.6h0M436.7 1331h0M346.2 1432.4h0M462.5 1335.1h0M415.3 1517.2h0M459.9 1332.6h0"/>
<path stroke="#00fb6c" d="M460.3 1414.2h0M441.3 1330.1h0M444.5 1329.5h0M396.1 1530.1h0M435.4 1331.9h0M435.1 1332.2h0M346.2 1432.8h0M313.4 1462.2h0M447.8 1446.5h0M466.3 1388.4h0M381.5 1553.2h0M466.8 1385h0M465.8 1390.6h0M343.7 1435.9h0M468.2 1373.1h0M431.7 1333.7h0M464.2 1398.2h0M468.3 1355.5h0M466.1 1388.1h0M374.1 1386.2h0M467.6 1377.4h0M413.5 1344.8h0M359.6 1410.6h0M371.4 1574.4h0M352.6 1621h0M446.8 1448.5h0M353.7 1421.4h0M468.3 1366.4h0M467.4 1378h0M378.1 1381h0M443.8 1468.6h0M441.5 1506.5h0M463.7 1398.9h0M367.4 1583.9h0M460 1413.2h0M467 1380.3h0M456 1425.3h0M368.9 1394.6h0M359.4 1604.6h0M466.1 1346.4h0M387.8 1368.9h0M455.7 1332.3h0M421.8 1514.5h0M445.8 1476.5h0M450.2 1330.8h0M367.6 1396.9h0M467.9 1367h0M362.4 1596.6h0M447 1330.7h0M388.1 1368.6h0M368.9 1394.8h0M287.8 1485.2h0M457.5 1420.5h0M444.3 1471.9h0M463.8 1341.6h0M259.6 1499.5h0M447.7 1331.1h0M443.2 1462h0M353.6 1422.4h0M465.4 1387.9h0M467 1375.1h0M463.1 1340.6h0M451.2 1331.8h0M382.8 1550.3h0"/>
<path stroke="#00fc64" d="M379.8 1556h0M391.5 1365.4h0M445.7 1450h0M464.6 1345h0M461.6 1404.9h0M460.6 1408.9h0M465.6 1385h0M386.6 1371.1h0M463 1399h0M454.9 1333.4h0M322.4 1455.2h0M321 1456.4h0M466.1 1351.6h0M455.1 1333.7h0M452.3 1332.6h0M447.5 1331.9h0M446.2 1332h0M445 1475.3h0M301.2 1475.2h0M458.4 1415.9h0M387.5 1370.3h0M353.4 1423.6h0M436.5 1333.9h0M362.9 1594.8h0M465.7 1380.9h0M407.2 1351.2h0M291 1483.7h0M461.3 1340.9h0M442.8 1466.3h0M334.9 1445.6h0M460.8 1340.4h0M436.9 1334.4h0M410.5 1348.9h0M321.6 1456.2h0M393.1 1364.6h0M361.4 1409.6h0M465.3 1353.1h0M367.2 1399.5h0M236.7 1513.2h0M459.2 1339.1h0M456.5 1336.7h0M382 1377.9h0M421.9 1514h0M459.9 1408.1h0M460.4 1405.8h0M463 1393.4h0M238.5 1512h0M463 1346.7h0M315.4 1461.7h0M442.4 1460.8h0M465.4 1374.7h0M371.2 1393.5h0M455.7 1421.5h0"/>
<path stroke="#00fc60" d="M451.5 1433.1h0M448.9 1490.3h0M373.6 1389.9h0M461.1 1343.2h0M464.4 1353h0M462.3 1346h0M462.7 1393.8h0M278.5 1491.2h0M368.5 1579.8h0M460.2 1404.9h0M326.2 1453h0M464.3 1354.5h0M464.9 1359.2h0M440.3 1506.2h0M368.8 1397.9h0M403.1 1356.1h0M352.1 1620h0M464.7 1361.8h0M430.4 1338.4h0M462.2 1393.2h0M449 1438h0M300 1477.3h0M384.9 1545.2h0M360 1413.9h0M461.9 1394.7h0M442.8 1470.9h0M464.6 1367.9h0M352.2 1619.8h0M462.4 1350.1h0M357.4 1419h0M313.7 1463.7h0M382.1 1379.1h0M372.7 1392.4h0M420.7 1343.6h0M464.5 1370.3h0M376.1 1387.3h0M419.4 1344.4h0M439.1 1336.1h0M445 1478h0M442.4 1335.7h0M463.3 1384.1h0M358.2 1417.5h0M359.4 1415.4h0M460.2 1401.5h0M462.2 1350.2h0M460 1345.6h0M411.9 1349.9h0M431.7 1338.6h0M360.4 1599.5h0M405.5 1355h0M454.1 1422.9h0M461.5 1350.2h0"/>
<path stroke="#00fd5b" d="M456 1416.6h0M422.7 1343.2h0M447.3 1440.6h0M321.2 1457.6h0M430.2 1510.5h0M462.5 1355.2h0M441.9 1336.7h0M431.5 1510h0M285.9 1487.9h0M462.2 1386.8h0M462.4 1385.1h0M451.9 1428.5h0M417.8 1346.3h0M420.6 1344.7h0M457.1 1343.3h0M421.8 1344.1h0M463.2 1373.1h0M435 1338.4h0M461.8 1388.4h0M459.5 1401.2h0M453.6 1423.2h0M350.3 1623h0M270.7 1495.7h0M461.8 1354.1h0M436.5 1338.1h0M457.7 1408.8h0M461.9 1355.1h0M454.8 1419h0M410.4 1517.9h0M462.2 1356.9h0M461.8 1386.9h0M448 1490.8h0M462.9 1364.4h0M255.8 1502.9h0M461.8 1386.2h0M325.9 1454.1h0M458.5 1346.8h0M326.8 1453.5h0M363 1410.6h0M445.4 1338h0M451 1429.8h0M355.6 1610.8h0M462.1 1359.7h0M447.4 1438.9h0M361.9 1412.7h0M422.4 1344.5h0M462.3 1362.8h0M369.3 1399.9h0M359.9 1416.6h0M461.8 1358.7h0M407.2 1355h0M462.1 1362.2h0M443.9 1477.1h0M442.1 1453.2h0M444.9 1338.6h0M357.5 1421.3h0M393.1 1368.3h0M448.6 1435.2h0M349.8 1623.6h0M376.6 1388.8h0M417.8 1347.6h0M366.3 1405.4h0M459.8 1352.5h0M417.9 1347.6h0M376.1 1389.8h0M456.9 1408.7h0"/>
<path stroke="#00fe53" d="M372.1 1396h0M446.9 1486.9h0M431.4 1509.6h0M458.9 1351.4h0M458 1349.6h0M442.9 1475h0M458.7 1399.3h0M441 1467.9h0M384.9 1378.3h0M359.1 1419.2h0M459.1 1396.8h0M372.4 1569h0M425.4 1343.9h0M459.7 1392.3h0M293.3 1484.1h0M461.3 1376.6h0M299.4 1479.3h0M458.7 1352.5h0M365.8 1407.5h0M460.5 1384.3h0M302 1477.1h0M440.5 1458h0M460.8 1378.8h0M456.5 1407.4h0M451.2 1343h0M248.1 1507.7h0M354.7 1427.4h0M390.1 1372.8h0M369 1402.1h0M360.3 1417.7h0M455.3 1347.3h0M410.5 1353.9h0M437.3 1340.9h0M363.3 1412.3h0M372.8 1396.1h0M460.5 1379.8h0M303.9 1475.5h0M365.2 1585.3h0M440.6 1340.8h0M421.6 1346.9h0M387.6 1539.1h0M408.6 1355.5h0M372.5 1396.8h0M352.8 1430.7h0M363.6 1589.2h0M442 1503.2h0M409.4 1355.1h0M448.8 1431.9h0M456.8 1351.2h0M447.9 1434.1h0M370.2 1400.8h0M356.2 1425.7h0M440.8 1469.5h0M440 1463.5h0M460.2 1368.3h0"/>
<path stroke="#00fe4e" d="M450.5 1344.1h0M427.9 1344.3h0M453.3 1417.1h0M268.3 1497.8h0M427.8 1344.5h0M441.3 1503.6h0M459.5 1383.9h0M394 1369.4h0M418 1349.6h0M457.1 1353.7h0M448.6 1431.6h0M237.2 1514.8h0M445.3 1342.5h0M439.7 1461.5h0M292.2 1485.5h0M458.6 1390h0M354.6 1428.8h0M446.6 1489.5h0M357.1 1605.2h0M346.7 1438.7h0M451.9 1421.1h0M409.3 1355.9h0M407.9 1357h0M457.8 1395.1h0M407.7 1518.5h0M419 1349.4h0M440 1456.9h0M258.7 1502.5h0M271.9 1496.3h0M442.5 1447.1h0M396 1367.9h0M355.4 1609.2h0M458.1 1390.9h0M431.6 1344h0M441.4 1342.7h0M455.2 1351.8h0M241.6 1512.1h0M443.6 1500.8h0M453.8 1413.1h0M447.1 1344.2h0M401.8 1362.6h0M458.7 1384.5h0M401 1363.4h0M445.1 1484.2h0M338.6 1446h0M287.6 1488.5h0M296.7 1482.6h0M393.5 1371h0M454.2 1351.2h0M426.4 1346.4h0M454.5 1409h0M456.3 1355.9h0M372.3 1568h0M350.4 1620.2h0M427.9 1346h0M364.7 1412.3h0M435.6 1343.9h0M412.2 1354.8h0M444.3 1344.2h0M427.7 1346.2h0M356.3 1606.5h0M380.4 1387.3h0M455.5 1402.8h0M455.9 1356.4h0M422.7 1348.6h0"/>
<path stroke="#00fe4a" d="M458.3 1369h0M431 1345.3h0M362.7 1416.5h0M441.3 1474.1h0M423.7 1348.5h0M453.7 1409.7h0M428.4 1346.6h0M456.9 1362.3h0M457.6 1384.7h0M450.1 1423.1h0M312.1 1468.4h0M424.7 1348.3h0M380.3 1551.2h0M456.6 1362.4h0M350.1 1436.4h0M447.6 1430.4h0M434 1507.3h0M384.5 1382.6h0M379 1553.7h0M453.6 1409.1h0M376.7 1558.2h0M453.9 1407.3h0M317.6 1463.2h0M447.3 1347.5h0M395.1 1370.8h0M446.1 1347h0M387.7 1379h0M439 1345.4h0M392.5 1373.5h0M455 1400.7h0M455 1358.9h0M452.4 1353.3h0M406.7 1518.5h0M451.8 1414.8h0M440 1345.9h0M338.9 1446.8h0M380.1 1389.2h0M430.6 1347.1h0M308.4 1472.7h0M392.1 1374.3h0M441 1346.3h0M456.8 1381.9h0M442 1501.5h0M438.6 1463.7h0M373.8 1398.9h0M371.9 1568h0M455.5 1362.6h0M442.4 1501h0M292.3 1486.6h0M393.7 1372.8h0M257.5 1503.9h0M445.5 1348h0"/>
<path stroke="#00fe46" d="M399.1 1523.6h0M454 1403.5h0M456.6 1375h0M432.7 1347.1h0M286.4 1490.1h0M329.1 1454.2h0M356.7 1428.9h0M456 1386.5h0M285.4 1490.7h0M454.2 1360.4h0M442.5 1442.2h0M401.8 1365.4h0M425.5 1349.8h0M423.5 1511.2h0M398 1524.5h0M386.5 1539.3h0M365.7 1581.7h0M235.9 1517h0M453.2 1358.4h0M420.7 1352.1h0M395.5 1371.6h0M452.2 1356.3h0M453.2 1358.6h0M438.1 1459.6h0M375 1398h0M440.8 1446.7h0M419.2 1512.8h0M380 1390.5h0M433.8 1347.8h0M363.8 1417.4h0M421.8 1351.8h0M438.4 1465.8h0M455.3 1389.5h0M444.3 1349.1h0M305.8 1475.9h0M449.3 1420.9h0M444.4 1497h0M443.1 1499.3h0M454.2 1397.1h0M416.6 1354.9h0M361.3 1422.2h0M371.2 1569h0M287.2 1490h0M407.5 1361.3h0M406 1362.6h0M445.5 1350.5h0M383.2 1386.8h0M455.4 1380.2h0M434.9 1348.4h0M440.2 1348.6h0M452.3 1406.6h0M361.4 1592h0M440.7 1348.8h0M384.9 1384.7h0M450.7 1413.5h0M455.1 1375.4h0M415.8 1355.9h0M455 1375.7h0M444.7 1494.8h0M306.3 1475.8h0M454.7 1371.6h0M453 1401.3h0M374.7 1399.6h0M454.4 1390.6h0"/>
<path stroke="#00ff3d" d="M425.4 1351.3h0M440.6 1349.5h0M442.9 1438.8h0M442.4 1439.9h0M430 1350h0M409 1361h0M396.1 1525.9h0M450.8 1358.3h0M440.2 1349.8h0M382.9 1387.9h0M453.2 1397.8h0M367.9 1575.8h0M448.9 1355.7h0M372.4 1403.9h0M373.8 1401.7h0M454.2 1387.6h0M453.2 1366.6h0M439.9 1446.8h0M439.8 1502.4h0M309.2 1473h0M314.6 1467.5h0M448.6 1355.9h0M454 1373.9h0M452.3 1402.1h0M437.4 1463.2h0M404.6 1365.1h0M440.3 1444.9h0M374.5 1401h0M448.5 1356.2h0M441.8 1351.1h0M452.9 1396.2h0M357.2 1430.4h0M439.8 1502.3h0M360 1594.7h0M262.2 1502.5h0M392.2 1377.3h0M391.2 1378.4h0M358.9 1428.2h0M396 1373.4h0M441.2 1478.4h0M250.4 1508.6h0M451.2 1405.8h0M368.3 1411.9h0M444.4 1492.9h0M452.7 1369.3h0M371.3 1406.9h0M439.8 1445.5h0M437.3 1464.9h0M366.3 1415.8h0M433 1351.2h0M354.8 1607.3h0M447.9 1419.7h0M452.7 1394h0M451.9 1400h0M453.1 1374.8h0M367 1577.4h0M297 1484.6h0M429.1 1352.1h0M409.1 1362.3h0M452.7 1391.4h0M446.1 1355.8h0M440.4 1352.2h0M424.8 1510.1h0"/>
<path stroke="#00ff38" d="M361.6 1424.6h0M409.9 1362h0M291.3 1488.5h0M291.3 1488.5h0M451.9 1369.1h0M450.2 1363h0M404.2 1519h0M372.5 1405.6h0M450.6 1364.3h0M434 1351.9h0M452.9 1380.8h0M378.2 1396.5h0M438 1450.8h0M388.1 1383.1h0M437.3 1466.5h0M444 1493.8h0M440.5 1442.1h0M452.1 1373h0M446.3 1357.3h0M447.9 1417.8h0M438.8 1447.3h0M451.3 1368.3h0M355.6 1433.8h0M437.9 1450.2h0M452.4 1386.3h0M356.5 1432.8h0M436.6 1461.7h0M447.4 1359.5h0M429.5 1353.2h0M378.7 1396.4h0M341 1447.3h0M364.7 1582.2h0M451.2 1370.3h0M354.8 1435.2h0M365.3 1419.4h0M439.2 1353.9h0M416.1 1513.1h0M306.1 1477.4h0M280 1494.8h0M440.1 1477.3h0M437.7 1449.6h0M362.6 1587.2h0M412.5 1361.6h0M427.2 1354.6h0M301.2 1482h0M451.2 1375.6h0M347.2 1623.1h0M396.7 1374.9h0M381.1 1393.7h0M397.4 1374.3h0M396.4 1375.3h0M393.7 1378.1h0M381.7 1393.1h0M421.6 1356.9h0M287.5 1491.2h0M244.3 1512.9h0M415.7 1359.9h0M359 1430.3h0M441 1480h0"/>
<path stroke="#00ff34" d="M447.5 1415.1h0M450.8 1374.6h0M417 1359.3h0M436.1 1459.2h0M437.9 1447.9h0M395.9 1376.1h0M307.1 1476.8h0M451 1379.8h0M435.1 1354.5h0M413.8 1513.9h0M436.6 1354.8h0M446.8 1417.5h0M292.6 1488.4h0M450 1399h0M448.2 1410.6h0M450.7 1390.2h0M286 1492.1h0M450.6 1391.6h0M448.8 1407h0M380.6 1395.3h0M450.7 1388.2h0M450.7 1386.6h0M450.4 1377.3h0M440.5 1438.6h0M448.6 1367.9h0M358.7 1596.1h0M450.1 1375.2h0M422.2 1357.6h0M359.3 1594.7h0M429.2 1355.6h0M436.2 1465.2h0M270.6 1499.5h0M274.5 1497.8h0M449.8 1396.8h0M448.8 1404.2h0M449 1402.4h0M438 1445.9h0M432.1 1355.7h0M413.2 1513.9h0M442 1358.8h0M290.2 1490.1h0M442.4 1359.2h0M327.8 1457.6h0M449.6 1376.6h0M445.4 1363h0M371.4 1411.1h0M436.1 1452.7h0M354.6 1436.9h0M352.9 1438.7h0M244.2 1513.3h0M442.7 1494.6h0M420.4 1359.3h0M441.4 1359.2h0M445.1 1363.5h0M446.5 1366.1h0M440.1 1438.1h0M322.6 1462h0M443.7 1361.6h0M448.6 1401h0M353.6 1608h0M449.2 1395.8h0M373.9 1407.3h0M388.8 1385.8h0"/>
<path stroke="#00ff2f" d="M361.8 1588.2h0M442.5 1360.8h0M306.1 1478.5h0M353.5 1438.4h0M393.4 1380.8h0M393 1381.3h0M391.4 1383.1h0M359.1 1432.3h0M424.2 1358.6h0M436.8 1448h0M344.5 1446h0M434.4 1357.6h0M347.1 1444.2h0M448.4 1376.9h0M448.7 1393.3h0M447.9 1401.7h0M446.7 1410h0M372.7 1410.3h0M419.3 1361h0M448.6 1383.2h0M380.5 1398h0M408.4 1367.7h0M433.3 1505h0M396.4 1523.9h0M441.3 1431.9h0M437.4 1444.6h0M388.2 1534.1h0M438.3 1360h0M448.1 1380.9h0M427.3 1358.9h0M448.1 1381.5h0M402.2 1373h0M442.4 1493h0M350.9 1613.5h0M406.6 1369.5h0M442.1 1494.4h0M368 1572.9h0M279.5 1496.1h0M372.3 1412.1h0M394.5 1381h0M441.1 1430.9h0M354.8 1438.2h0M414 1513.1h0M447.5 1394.6h0"/>
<path stroke="#21ff26" d="M407.3 1369.5h0M352.7 1609.2h0M261.4 1504.7h0M373.2 1410.9h0M389.2 1387.5h0M447.3 1382.6h0M445.2 1371.4h0M418 1363.1h0M420.5 1510.5h0M446 1407h0M437.6 1441.9h0M265.9 1502.6h0M441 1364.1h0M446.6 1401.8h0M397.1 1378.8h0M435.4 1450.2h0M439.1 1362.6h0M447.3 1385.1h0M446.5 1378h0M401.4 1374.9h0M395.6 1380.6h0M293.5 1489.1h0M428.1 1360.5h0M440.7 1364.7h0M440.6 1364.7h0M446.3 1401.3h0M441.6 1366.2h0M356.3 1600.1h0M358.6 1434.7h0M290.7 1490.8h0M445.8 1405h0M437.6 1501.3h0M440.8 1496.9h0M405.1 1517.2h0M361.4 1587.7h0M444.1 1371.7h0M446.4 1382.9h0M379.6 1401.8h0M302.9 1482.6h0M445.1 1376.2h0M367.2 1423.2h0M356.7 1437.3h0M422 1363.2h0M402.9 1518.3h0M441.2 1494.8h0M389.1 1389.4h0M357 1598.1h0M375.6 1409.1h0M398.8 1378.8h0"/>
<path stroke="#36fe21" d="M386.6 1535.7h0M403.6 1517.8h0M442 1422.1h0M305.9 1480.2h0M441.2 1369.3h0M377.4 1406.5h0M239.6 1517.6h0M389.7 1389h0M435.1 1468.4h0M387.8 1391.5h0M375.5 1409.8h0M442.8 1417.3h0M436.3 1364.8h0M434.2 1363.9h0M445.3 1390.3h0M444 1378.1h0M442.1 1420h0M406.8 1515.9h0M444.7 1384h0M436 1472.2h0M435.3 1365.1h0M445 1390.7h0M436.1 1365.7h0M320.1 1466h0M338.7 1451.7h0M442.7 1375.6h0M444.7 1394.4h0M438.3 1368h0M441 1488.2h0M416.3 1367.4h0M245.1 1514.4h0M356.7 1598h0M345.6 1622.9h0M427.3 1364.4h0M444.4 1394.3h0M433.5 1365.5h0M414.9 1368.4h0M359.1 1436.1h0M404.9 1375.2h0M431.1 1365h0M407.2 1373.5h0M347.9 1618.1h0M396.6 1382.9h0M439 1429.8h0M440.9 1421.4h0"/>
<path stroke="#44fe1c" d="M381.2 1402.6h0M372.8 1561.2h0M439.2 1428.5h0M419.8 1366.9h0M353.8 1604.6h0M350.2 1444.2h0M425.3 1365.6h0M427.5 1506.7h0M312.6 1474.2h0M395.6 1384.5h0M435.2 1502.1h0M345.7 1447.5h0M433.9 1367.3h0M440.2 1485.8h0M439.4 1372.9h0M440.9 1376h0M391.2 1389.6h0M357.9 1594.7h0M442.9 1384.6h0M441 1418.3h0M437.2 1370.1h0M396.5 1383.9h0M441.6 1414.6h0M388.7 1393h0M388.5 1393.2h0M391.6 1527.9h0M438.3 1372h0M421.5 1367.2h0M440 1422.4h0M432.8 1460.8h0M374.8 1414.1h0M432.7 1456.4h0M407.1 1374.9h0M363.9 1580.2h0M394.9 1386.1h0M435.3 1369.5h0M411.5 1372.1h0M325.3 1462.2h0M417.6 1510.6h0M380.4 1405.4h0M351.5 1609.4h0M385.3 1536.9h0M369.5 1423.5h0M347.4 1618.5h0M361.5 1585.6h0M441.7 1409.3h0M442.5 1397.4h0M440.1 1419.5h0M438.7 1426.2h0M410.3 1373.5h0M441.9 1388.5h0M428.7 1368.1h0"/>
<path stroke="#59fd10" d="M426.6 1368h0M439.4 1421.9h0M432.2 1369.3h0M440.2 1380.5h0M410.2 1374h0M432.6 1462.8h0M388.9 1394.3h0M418.4 1369.8h0M432.4 1453.2h0M438.8 1424h0M377.5 1411.1h0M362.3 1583.5h0M437 1431.7h0M388.7 1531.3h0M441.4 1388.6h0M403.7 1517h0M441.4 1388.9h0M399.9 1382.4h0M430.8 1369.4h0M382.8 1403h0M437.7 1428.2h0M439.3 1420.4h0M245.4 1515h0M387 1397.3h0M360.8 1436.2h0M394.9 1387.7h0M425.3 1369h0M433.5 1444.9h0M390.1 1393.5h0M438.5 1482.3h0M432.9 1447.5h0M413.3 1512.1h0M261.3 1506.5h0M441.1 1396.3h0M379.9 1408.4h0M385.8 1535.5h0M407.1 1377.4h0M402.6 1381h0M440.1 1410.3h0M439 1382.4h0M395.7 1387.8h0M312.9 1475.2h0M417.2 1372h0M434.4 1439.3h0M440.4 1398.6h0M362.5 1435.2h0M353.6 1603.6h0M370.6 1564.5h0"/>
<path stroke="#61fd09" d="M382.7 1405h0M432.6 1446.5h0M423.3 1371h0M393.2 1391.1h0M407.8 1377.8h0M279.9 1498.1h0M291.4 1492.4h0M412.1 1512.5h0M414.6 1373.9h0M439.3 1389h0M430.9 1503.9h0M405.1 1380.1h0M402.7 1382.1h0M431.7 1450.5h0M372.7 1421.9h0M438.5 1385.7h0M439.5 1406.3h0M355.2 1599.5h0M363.4 1580h0M329.2 1460.2h0M435.3 1500.5h0M431.7 1462.4h0M373.6 1420.5h0M433.8 1439.1h0M435.8 1379.4h0M368.1 1429.1h0M438 1417.9h0M432.3 1375h0M438.6 1412.9h0M417 1373.9h0M416.2 1374.2h0M431.3 1459.9h0M434.3 1436.7h0M385.9 1534.8h0M432.1 1445.9h0M432.6 1443.3h0M438.5 1411.5h0M414.3 1375.4h0M436.2 1426.8h0M438.7 1408.1h0M387 1400.5h0M345.3 1449.5h0M433.5 1438.7h0M388.8 1398.3h0M427 1373.7h0M368 1430h0M372.8 1423h0M347.6 1616.2h0M330.2 1459.7h0M435.8 1382.4h0M431 1460.4h0M297.7 1489.1h0M276 1500.3h0M433.6 1437.4h0M373.8 1557.3h0M408 1379.8h0M438.3 1404.8h0"/>
<path stroke="#69fd02" d="M365.3 1433.7h0M392.5 1394.2h0M415.6 1510.6h0M435.8 1426.1h0M409.5 1379h0M362.4 1581.8h0M374.8 1420.6h0M324 1465h0M290.9 1493.2h0M385.7 1534.9h0M433.8 1381h0M286.2 1495.7h0M305.8 1483.3h0M437 1390.8h0M439 1491.2h0M383.5 1407.1h0M414.5 1377.1h0M428.1 1376.2h0M389.1 1399.5h0M332.9 1458.1h0M425.8 1375.7h0M435 1427.4h0M330.4 1460h0M437.3 1407.8h0M291.2 1493.3h0M430.4 1452.2h0M351 1446.4h0M435.6 1422.9h0M423.7 1375.9h0M285.7 1496.1h0M389.2 1400h0M313.7 1475.8h0M372.3 1425.8h0M348.8 1612.9h0M416.9 1377.1h0M357 1442.2h0M438.7 1490.5h0M368.6 1431h0M428.8 1378.3h0M381.4 1411.7h0M396 1392.4h0M411.3 1380.1h0M376 1420.5h0M377.6 1549.2h0M426 1377.5h0M435.1 1390.2h0M432.6 1436.4h0M381.3 1412.2h0M397.8 1390.8h0M436.1 1413.6h0M391.6 1397.8h0M308 1481.8h0"/>
<path stroke="#70fc00" d="M410.5 1380.9h0M390.3 1399.7h0M404.4 1385.3h0M434.8 1423.1h0M437.9 1485.9h0M402.8 1386.7h0M392.5 1397.2h0M330 1460.7h0M429.7 1455.8h0M431.4 1440.2h0M417.1 1378.9h0M294.2 1492h0M427.9 1380.1h0M427.9 1380.2h0M381.5 1412.9h0M391.5 1398.9h0M351.8 1446.5h0M390.7 1400.1h0M437.7 1494.3h0M293.2 1492.6h0M434.3 1392.6h0M399.5 1518.5h0M324.7 1465.2h0M261.5 1507.8h0M435.3 1410h0M378.1 1418.9h0M368.4 1567.6h0M361.1 1583.8h0M431.9 1386.8h0M433 1429.7h0M306 1484.1h0M429.9 1384.2h0M401.1 1389.7h0M376.1 1422.5h0M429.3 1453.5h0M386 1533.6h0M363 1438.5h0M384.7 1535.6h0M399.1 1391.8h0M437.5 1486.2h0M429.4 1384.4h0M391.9 1399.8h0M427.9 1383h0M434.5 1404.8h0M427.7 1383h0M318.5 1471.6h0M372.7 1558.2h0"/>
<path stroke="#7dfb00" d="M405.7 1386.7h0M420.6 1380.8h0M431.6 1469.5h0M372.8 1428.6h0M306 1484.6h0M429.6 1462.2h0M287.8 1496h0M356.1 1594.6h0M429.2 1503.2h0M425.7 1505.2h0M423.2 1383.1h0M349.4 1610.1h0M349.8 1609.1h0M404.3 1389.2h0M430.6 1436.5h0M239.3 1521.2h0M366.9 1435.9h0M431.4 1430.8h0M388 1406.9h0M427.4 1386.5h0M419.8 1383.2h0M428.6 1448.9h0M432.1 1424.7h0M430.8 1467.9h0M422.9 1383.9h0M432.1 1399.6h0M430 1438.2h0M387.1 1531.2h0M358.4 1443.1h0M431.6 1428.1h0M381.1 1417.6h0M375.3 1426.2h0M430.5 1435.3h0M398.8 1394.8h0M427.1 1387.3h0M317.5 1473.4h0M431.4 1428.6h0M317.8 1473.1h0M431.9 1471.4h0M432.3 1419.1h0M405.7 1389.3h0M250.2 1514.4h0"/>
<path stroke="#83fa00" d="M403.9 1390.7h0M427.1 1388.2h0M424.7 1385.9h0M436.5 1494.8h0M426.7 1387.9h0M387.4 1408.8h0M358.5 1443.3h0M429.8 1393.5h0M350.6 1606.8h0M432.1 1416.4h0M429.6 1464.3h0M412.5 1510.8h0M431.5 1404.1h0M431.3 1402.9h0M431.8 1409.6h0M375.3 1427.2h0M357.3 1591.4h0M428.9 1461.9h0M426.7 1390.1h0M430.1 1432h0M431.5 1413.6h0M426 1389.7h0M409.7 1388.4h0M431.4 1413.2h0M415.1 1509.6h0M430.3 1401.4h0M429.2 1396.7h0M408.5 1389.6h0M433.7 1477.3h0M430.2 1403.5h0M265.5 1506.9h0M424.9 1390.3h0M382.1 1418.7h0M401.2 1395.3h0M384.5 1415.3h0M275.8 1502.2h0M430.7 1415.7h0M403.5 1393.5h0M384.1 1416h0M430.5 1409.3h0M379 1423.6h0M420.5 1388.2h0M384.7 1415.3h0"/>
<path stroke="#89f900" d="M429.3 1432.9h0M357.1 1591.4h0M425.6 1392.3h0M416.3 1388.1h0M430.3 1420.3h0M423 1389.9h0M408.7 1390.8h0M418.9 1388.5h0M428.3 1461.7h0M381.1 1421.1h0M426.7 1395.9h0M377.4 1426.5h0M420.3 1389.5h0M429.1 1404.7h0M424.8 1393h0M427.6 1458.8h0M429.3 1407.7h0M386.6 1413.7h0M332.2 1460.9h0M429.7 1419.7h0M419.5 1389.7h0M317.8 1474.2h0M318.5 1473.4h0M407.4 1392.4h0M429.3 1408.7h0M413 1390.1h0M427.2 1503.5h0M435.5 1484h0M428.7 1464.4h0M405.9 1393.9h0M381.5 1421.7h0M235.2 1525.4h0M308.9 1483.4h0M424.3 1395.2h0M399.1 1400h0M426.7 1452.9h0M392.8 1406.8h0M411.8 1391.8h0M240.1 1521.9h0M405.6 1395.2h0M396.6 1403.1h0M422.1 1394.1h0M428.3 1428h0"/>
<path stroke="#95f700" d="M390.2 1410.8h0M359.5 1585h0M361.1 1443.2h0M417.5 1392.3h0M373.4 1432.8h0M390.7 1410.3h0M417.1 1392.3h0M369.5 1436.8h0M381.8 1422.6h0M347.7 1451.5h0M236 1525h0M376.8 1548.2h0M432 1475.1h0M427.6 1411.3h0M347.4 1451.7h0M379 1426.7h0M425.5 1402.2h0M252.6 1514.2h0M376.5 1429.8h0M367.6 1438.6h0M420.4 1394.8h0M424.7 1400.5h0M326.6 1466h0M435.9 1489.8h0M420.6 1395.4h0M396.2 1405.1h0M418.6 1394.8h0M415.6 1394.1h0M427.6 1462.9h0M424.4 1504.5h0M435.3 1486h0M427 1431.8h0M405.9 1397.4h0M415.7 1394.6h0M370 1437h0M414.9 1394.7h0M420.5 1396.8h0M401.6 1400.7h0M328.9 1464.3h0M282.5 1500h0M403.6 1399.4h0M426.9 1416.3h0M419.7 1396.7h0M423.2 1401.4h0M427 1421.6h0M419 1396.6h0M432.7 1478h0M378.5 1428.5h0M370.6 1560.3h0M339.8 1456.6h0M423.5 1402.5h0M419.1 1397.3h0M286.9 1498.1h0"/>
<path stroke="#9af600" d="M426 1438.2h0M426.6 1427.3h0M425.5 1449h0M374.9 1551.4h0M382.2 1537.6h0M385.1 1421h0M362.8 1576.7h0M393.8 1521.5h0M398.9 1405h0M401.1 1403h0M335.2 1459.9h0M395.3 1408.7h0M395.7 1519.7h0M392.7 1411.7h0M387.7 1418.1h0M368 1565.4h0M416.3 1508h0M387.4 1529.1h0M425.5 1437.9h0M296.7 1493.2h0M299.8 1491.3h0M369.1 1563.2h0M260.1 1510.8h0M402.7 1402.8h0M385.3 1421.9h0M425.4 1433.9h0M425.4 1421.8h0M307.3 1486.1h0M410.9 1399.5h0M381.5 1427h0M355.9 1592.1h0M424.5 1417.4h0M377.8 1431.4h0M417.9 1401.7h0M375.3 1433.9h0M415.1 1400.6h0M386.1 1530.6h0M424.6 1440.5h0M424.8 1436.3h0M376.2 1548.5h0"/>
<path stroke="#9ff500" d="M405.5 1402.8h0M416.1 1401.6h0M411.9 1401h0M434.6 1486.8h0M345.5 1614.7h0M417.3 1403h0M416.6 1402.6h0M422.5 1412.3h0M385.8 1422.8h0M350.4 1451.2h0M404 1404.4h0M384.1 1425.1h0M416.9 1403.4h0M390.5 1417.3h0M367.4 1566.1h0M295.4 1494.3h0M348.3 1452.4h0M331.8 1462.9h0M418.5 1405.6h0M410.5 1402.5h0M422.5 1414.7h0M424.2 1449.5h0M424.1 1430.7h0M390.6 1417.8h0M384.7 1424.9h0M379.4 1430.8h0M414.4 1403.4h0M259.2 1511.7h0M383.3 1426.6h0M415.9 1404.5h0M392.9 1415.6h0M395.9 1412.5h0M356.6 1589.9h0M423.8 1432.3h0M423 1422.2h0M420.9 1412.9h0M417.8 1407.3h0M255 1514h0M287.3 1498.6h0M342.7 1455.9h0M238 1524.8h0M423.4 1432.2h0M350.9 1602.6h0M416.1 1406.9h0M419.5 1411.8h0M421.3 1416.7h0"/>
<path stroke="#a4f400" d="M421.7 1504.8h0M340.1 1457.7h0M283.9 1500.4h0M346.3 1612.3h0M408.2 1406.3h0M413.4 1406.6h0M410.6 1406.2h0M422.4 1425.8h0M388.6 1422.4h0M366.8 1566.9h0M404.6 1408.4h0M423 1444.1h0M403 1513.8h0M380.9 1431h0M391.4 1419.6h0M416.5 1410h0M412.3 1407.3h0M420.2 1417.6h0M318 1476.9h0M387.3 1424.6h0M434 1489.2h0M431.4 1478.3h0M429.5 1473.4h0M392.9 1418.8h0M421.2 1423.5h0M242.8 1521.8h0M370.2 1440.3h0M430.2 1498.6h0M409.6 1408.6h0M398.2 1414.2h0M431.5 1497h0M405.9 1410.1h0M381.4 1537.5h0M378.2 1434.4h0M427.2 1501.1h0M389.4 1423.6h0M413.5 1411.3h0M357.7 1586.6h0M305.4 1488.8h0M415 1412.8h0"/>
<path stroke="#aef200" d="M245.2 1520.4h0M264.8 1509.6h0M388.6 1424.9h0M368.4 1442.1h0M412.1 1411.5h0M361.5 1578h0M427.2 1468.6h0M410.2 1411.8h0M414.3 1414h0M425.2 1463h0M348.1 1607.5h0M414.7 1507.7h0M384.7 1531.6h0M364.8 1444.5h0M305 1489.3h0M398 1417.3h0M372.6 1439.6h0M421.4 1442.1h0M425 1462.8h0M406 1413.4h0M395.9 1419.4h0M348.6 1606.4h0M398.9 1417.2h0M387.2 1427.7h0M262.5 1511h0M410.9 1414.3h0M371.3 1440.8h0M410.7 1414.4h0M420 1432.5h0M414.5 1417.3h0M415.7 1418.9h0M401 1416.5h0M397 1419.2h0M422.9 1455.6h0M412.6 1415.9h0M392.7 1423.1h0"/>
<path stroke="#b3f000" d="M351.3 1452.3h0M367.6 1443.4h0M360.6 1447.3h0M422.7 1455.9h0M431.2 1496.2h0M406.8 1416.1h0M244.7 1521.3h0M299.5 1493.3h0M354.9 1450.5h0M381 1537.6h0M416.1 1422.9h0M290.6 1498.1h0M430.7 1478.9h0M422 1453.4h0M327.2 1468.6h0M346.3 1455.2h0M397 1421.4h0M356.4 1449.8h0M412.8 1508.1h0M280.7 1502.8h0M425.4 1465.9h0M408.5 1418.3h0M343.7 1615.9h0M402.4 1419.4h0M320.4 1475.8h0M327 1469.1h0M419.4 1440.8h0M414.6 1424.7h0M351.6 1452.6h0"/>
<path stroke="#b8ef00" d="M416.9 1430.9h0M398.6 1422.5h0M399.7 1422h0M399.2 1422.3h0M424.4 1464.1h0M399.3 1422.4h0M419.9 1446.8h0M311.6 1485.1h0M418.3 1438.2h0M383.4 1434.2h0M341.6 1619.5h0M394.2 1426.5h0M418.1 1439h0M305.6 1489.9h0M408.6 1422.8h0M413.4 1427h0M363.2 1572.8h0M380 1437.1h0M411.6 1424.9h0M413.7 1427.5h0M420.5 1452h0M281.5 1502.9h0M235.6 1528.6h0M413.4 1427.3h0M315.6 1481.6h0M415.7 1432.3h0M386.4 1432.7h0M418.3 1442.3h0M399.6 1424.4h0M398.1 1425.1h0M378.1 1542.1h0M355.1 1451.3h0M347.3 1455.4h0M423.4 1462.5h0M397.7 1425.5h0M401.8 1423.9h0M302.6 1492.1h0M373.8 1441.5h0M402.9 1424h0"/>
<path stroke="#c1ec00" d="M421.1 1455.8h0M398.5 1425.9h0M429.2 1477.5h0M365.5 1567.6h0M430.8 1494.4h0M412.7 1429.6h0M430.2 1495.4h0M388.7 1432.4h0M404.8 1425.5h0M357.4 1450.5h0M414.3 1433.4h0M396.1 1428.1h0M342.2 1617.4h0M414.6 1434.4h0M347.4 1606.8h0M418.1 1446.2h0M408.9 1428h0M314.8 1483h0M380.8 1438.3h0M286.2 1501.2h0M272.9 1507.4h0M404.9 1427.5h0M384.2 1530.7h0M401 1428h0"/>
<path stroke="#c5eb00" d="M356.1 1587.5h0M422.2 1461.6h0M398.8 1428.8h0M367.1 1563.5h0M386.5 1435.2h0M246.4 1521.5h0M359.1 1580.7h0M313 1485h0M294.6 1497.3h0M385.6 1436.1h0M351.4 1597.6h0M400.3 1429.3h0M403.7 1429.1h0M378 1440.6h0M397.4 1430.2h0M398.4 1430h0M417 1446.2h0M305.8 1490.8h0M384.3 1437.1h0M360.3 1449.7h0M393.6 1518.7h0M419.3 1454.2h0M395 1431.7h0M376.2 1441.8h0M400 1430.1h0M333.7 1465.1h0M371.7 1444.2h0M345 1611.1h0M413.4 1437.8h0M338.2 1461.9h0M430.9 1486.3h0M389.3 1434.8h0M300.1 1494.5h0M398.7 1431.1h0M374.3 1443.1h0"/>
<path stroke="#c9e900" d="M383.9 1438.1h0M406.6 1432.1h0M422.4 1501.8h0M416.4 1446.8h0M339.1 1622h0M409.4 1434.4h0M409.7 1508.4h0M408.7 1434h0M252.3 1518.4h0M414.5 1442.6h0M393.2 1433.9h0M399.7 1432.1h0M252.3 1518.4h0M311.2 1487.2h0M282.3 1503.7h0M429.9 1483.5h0M408.7 1435.5h0M358.6 1451.2h0M291.1 1499.7h0M357.5 1583.2h0M357 1452h0M362.9 1571.7h0M372.2 1444.9h0M241.7 1525.5h0M397.5 1434h0"/>
<path stroke="#cde800" d="M411.9 1440.4h0M399.6 1513.6h0M378.5 1442.1h0M426 1498.3h0M404.9 1435.1h0M362.5 1572.1h0M366.7 1563.2h0M357 1452.4h0M273.8 1508h0M391.9 1519.6h0M290.3 1500.4h0M257.1 1516.3h0M392.7 1436.8h0M373.6 1548.8h0M411.5 1442.5h0M380.9 1534.9h0M368.2 1559.9h0"/>
<path stroke="#d5e502" d="M402 1436.2h0M419.4 1459.6h0M323.3 1476.3h0M395.1 1436.8h0M350.5 1456h0M240 1527.4h0M405.5 1437.9h0M354.1 1454.2h0M429.6 1489.6h0M402.3 1436.9h0M429.3 1485h0M337.6 1463.6h0M302 1494.5h0M323.6 1476.3h0M240.8 1526.9h0M402.4 1437.5h0M401.4 1437.3h0M394.2 1437.8h0M366.5 1448.8h0M288.7 1501.5h0M402.3 1437.8h0M420.4 1463h0M429.2 1485.4h0M423.1 1499.9h0M385.7 1440.8h0M423.3 1469.8h0M318.2 1482.2h0M393.3 1517.7h0"/>
<path stroke="#d9e305" d="M367.7 1448.5h0M273.7 1508.7h0M419.7 1502.1h0M318.8 1481.7h0M385.7 1526.3h0M234.8 1532h0M353.6 1455h0M415.9 1454.3h0M360.8 1451.7h0M429 1488.6h0M428.6 1491.5h0M266 1512.5h0M324.7 1475.7h0M270.8 1510.2h0M428.9 1488.1h0M380.5 1443.6h0M368.6 1448.5h0M294.5 1499.1h0M360.2 1575.7h0M406.8 1442.4h0M418.2 1460h0M246 1523.9h0M367.9 1449h0"/>
<path stroke="#dde109" d="M422.7 1469.7h0M258.3 1516.7h0M234.3 1532.8h0M427.2 1480.4h0M324.6 1476.3h0M372.6 1447.3h0M413.9 1452.1h0M354.7 1454.9h0M388.1 1522.6h0M346.7 1604.5h0M242 1527h0M372.3 1550h0M397.6 1441.1h0M389.7 1442h0M414.8 1455h0M394.7 1441.3h0"/>
<path stroke="#e0df0d" d="M417.8 1461h0M326.2 1475.3h0M415.9 1457.8h0M319.3 1482.6h0M339.8 1617.4h0M366.3 1561.9h0M400.4 1442.7h0M427.8 1487h0M336.8 1465.9h0M391.9 1518h0M426.1 1494.4h0M399.4 1442.8h0M416.3 1459.3h0M413.9 1455h0M262.1 1515.4h0M403.9 1444.4h0"/>
<path stroke="#e7dc12" d="M426.9 1492.4h0M366.7 1561h0M283.4 1505.3h0M330.2 1471.8h0M411.5 1451.7h0M269.6 1511.8h0M371.5 1550.8h0M426.2 1493.8h0M319 1483.4h0M427.3 1489.8h0M418.2 1463.7h0M412.4 1453.8h0M401 1444.3h0M315.8 1486.6h0M403.4 1445.4h0M369.8 1554.2h0M350.1 1458.4h0M391 1443.9h0M420.5 1499.7h0"/>
<path stroke="#eada15" d="M417.7 1463.2h0M338.5 1618.9h0M353.2 1589.1h0M424.7 1477.7h0M382.8 1529h0M348.4 1599.3h0M262.2 1515.8h0M284 1505.4h0M281.8 1506.5h0M426.9 1486.8h0M263.9 1515h0M300.4 1497.4h0M351.9 1591.7h0M343.5 1462.3h0M381.2 1446.7h0M426.1 1482.4h0M366.6 1451.6h0M344.1 1461.9h0M409.4 1451.3h0M423.1 1474.6h0M414.7 1458.8h0M303.3 1495.9h0M339.5 1616.6h0M360.2 1454.3h0"/>
<path stroke="#eed817" d="M400.1 1445.8h0M347.5 1600.7h0M399 1445.6h0M385 1446.2h0M250.4 1522.9h0M417.2 1463.7h0M412.9 1456.8h0M405.5 1449.1h0M361.9 1453.9h0M356.4 1581.3h0M369 1554.8h0M409 1452.5h0M350.5 1459.1h0M240.7 1529.9h0"/>
<path stroke="#f4d41b" d="M384.7 1525.2h0M425.7 1484.5h0M363.3 1566.5h0M425.8 1485.2h0M388.2 1446.7h0M419.7 1499.1h0M260.2 1517.8h0M291.3 1502.8h0M397.5 1447.1h0M341.7 1464.5h0M341.3 1464.8h0M359 1575.1h0M335.6 1469h0M287.1 1504.9h0"/>
<path stroke="#f6d21c" d="M337.5 1619h0M412.7 1458.6h0M362 1454.6h0M300.6 1498.3h0M409.6 1504.9h0M316.4 1488h0M358.1 1576.7h0M307 1494.7h0M403.8 1507.9h0M416.3 1465h0M335.6 1621.7h0M266.1 1515.2h0M415.7 1501.2h0"/>
<path stroke="#f9d01e" d="M409.9 1456.2h0M372.5 1451.5h0M422 1495.9h0M274.9 1511h0M367.7 1556.4h0M422.8 1478.1h0M387.9 1448.2h0M423.7 1493h0M400.2 1509.9h0M381.4 1449.3h0M395.4 1448.5h0M361.2 1455.6h0M304.2 1496.7h0M335.2 1470.2h0M343.9 1606h0M362.2 1567.7h0M374.6 1542h0M392.4 1448.4h0M368.8 1553.8h0M408.9 1455.9h0M411.7 1503.3h0M345.3 1463.2h0M372.1 1452h0"/>
<path stroke="#fcce1f" d="M285.1 1506.5h0M295.7 1501.5h0M362 1455.5h0M407.8 1455.2h0M260.9 1518.4h0M380.7 1449.9h0M309.6 1493.7h0M421 1475.2h0M242.4 1530.1h0M354.3 1583.9h0M388.5 1449.1h0M353.7 1585.1h0"/>
<path stroke="#ffca21" d="M266.3 1515.9h0M245.8 1528h0M255.3 1521.9h0M266.3 1516h0M379.3 1451.1h0M416.3 1467.6h0M379.2 1532.3h0M272.5 1513h0M378.2 1451.4h0M347 1463.1h0M400.5 1451.9h0M313 1492h0M349 1594.5h0M388.5 1450.1h0M409.5 1503.8h0M397.9 1510.5h0M357.2 1577h0M352.1 1587.8h0"/>
<path stroke="#ffc822" d="M411.2 1460.9h0M422.8 1491.1h0M419.6 1474.3h0M353.5 1584.7h0M400.9 1452.5h0M340.4 1611.2h0M277.9 1510.7h0M338.2 1615.3h0M382.6 1525.9h0M395.9 1451.1h0M376.4 1452.3h0M393.6 1450.9h0M327 1480h0M259.4 1520.1h0M297 1501.7h0M420.1 1476h0"/>
<path stroke="#ffc622" d="M346.8 1598.4h0M403 1454.4h0M418.6 1496.9h0M299.3 1500.6h0M347.8 1596.1h0M404.4 1506.2h0M384.6 1451.3h0M319.6 1487.6h0M330.9 1476.5h0M420.9 1493.6h0M330.8 1476.8h0M395.3 1452.1h0"/>
<path stroke="#ffc223" d="M277.3 1511.5h0M336.2 1618h0M330 1477.7h0M241 1532.7h0M286.4 1507.3h0M316.7 1490.3h0M365.7 1558.1h0M373.6 1541.8h0M236.2 1536.7h0M268.2 1516.1h0M420.9 1479.8h0M252.9 1524.7h0M388.2 1452.1h0M383.4 1523.6h0M357.7 1459.3h0"/>
<path stroke="#ffc023" d="M319.8 1488.1h0M350.1 1590.6h0M403.9 1456.6h0M386.3 1452.3h0M323.5 1484.9h0M421.4 1490.5h0M377 1453.6h0M351.4 1587.7h0M343.2 1604.3h0M249.3 1527.2h0M383.3 1452.7h0M380.5 1453.1h0M253.9 1524.3h0M374.3 1454.3h0M421 1490.9h0M239.5 1534.5h0M311.6 1494.5h0M374.2 1454.5h0"/>
<path stroke="#ffbe23" d="M304.9 1498.6h0M343 1467.4h0M353.1 1583.7h0M294.1 1504.2h0M271.2 1515.2h0M242.3 1532.5h0M419.2 1494h0M413.4 1467.5h0M344.9 1600.5h0M340.6 1608.9h0M404.2 1457.9h0M358.5 1459.6h0M408.3 1461.6h0M329.7 1479.4h0M382.7 1523.9h0M413.8 1499.1h0M302.5 1500.1h0M341 1469.2h0M399.1 1455.4h0"/>
<path stroke="#ffbc23" d="M397.2 1509.3h0M420.9 1485.7h0M370.2 1547.5h0M397.3 1455h0M239.8 1534.9h0M358.8 1459.9h0M302.2 1500.5h0M353.9 1581.3h0M410.4 1464.7h0"/>
<path stroke="#ffb722" d="M344.7 1467.2h0M412.2 1467.2h0M413.2 1468.7h0M349.8 1464.2h0M406.7 1461.2h0M417.2 1475.5h0M373.1 1455.8h0M408.5 1463.2h0M336.7 1473.6h0M267.1 1518.1h0M420.1 1487.4h0M315.1 1493.3h0M418.2 1478.5h0"/>
<path stroke="#ffb521" d="M301.2 1501.5h0M392 1455h0M351.4 1585.7h0M245.4 1531.4h0M396.7 1456.2h0M374 1538.6h0M284.9 1509.7h0M358.4 1570.9h0M366.1 1554.9h0M384.2 1520.4h0M337 1613.7h0"/>
<path stroke="#ffb220" d="M272 1516h0M280.5 1511.9h0M345.4 1467.7h0M383.1 1521.8h0M305.3 1499.7h0M417.7 1492.9h0M279.1 1512.6h0M349.4 1589.4h0M399.5 1458.1h0M418.5 1481.8h0M297.5 1503.8h0M256.5 1524.6h0M417 1493.5h0M252.1 1527.3h0M260 1522.6h0M392.2 1511.7h0"/>
<path stroke="#ffad1f" d="M369.6 1457.8h0M330.2 1481.3h0M376.5 1456.4h0M319.2 1491.2h0M390.8 1455.9h0M384 1520.1h0M396.4 1457.4h0M351.6 1464.8h0M418.6 1485.8h0"/>
<path stroke="#ffab1e" d="M412.6 1497.6h0M316 1493.8h0M341.9 1470.9h0M334.1 1478h0M238.8 1537.8h0M381.8 1456.5h0"/>
<path stroke="#ffa81d" d="M362 1460.8h0M416.1 1477.9h0M371 1543.3h0M312.9 1496.2h0M329.5 1624.3h0M253.7 1527.2h0M416.7 1480.1h0M382.9 1456.7h0M375.4 1533.9h0M338.5 1609.2h0M307.5 1499.5h0M401.5 1461h0M287.2 1509.7h0M385.9 1456.8h0M316.4 1494.1h0M357.9 1570.2h0M372.7 1539.3h0"/>
<path stroke="#ffa51c" d="M387.2 1457h0M391.7 1457.6h0M401.7 1461.4h0M380 1524.9h0M289.7 1508.7h0M366.5 1552.1h0M380.5 1524h0M366.9 1551.3h0M319.7 1492.1h0M417.2 1484.7h0M307.9 1499.6h0M407.1 1500.5h0"/>
<path stroke="#ffa019" d="M318.9 1492.9h0M417 1485.3h0M350.5 1585h0M325.7 1487.6h0M334.1 1616.2h0M381.8 1521.6h0M355.7 1464.2h0M338.2 1475.6h0M356.7 1463.8h0M368.4 1547.7h0M359.7 1462.6h0M410.5 1470.8h0M330.7 1621.5h0"/>
<path stroke="#ff9d18" d="M401.7 1503.6h0M327.7 1486.1h0M346.4 1469.5h0M413.7 1476.2h0M416.4 1487.9h0M330.3 1483.9h0M282 1513h0M385 1458.1h0M416.1 1488.3h0"/>
<path stroke="#ff9a17" d="M346 1470.1h0M237.7 1540.4h0M344.7 1595.8h0M340.3 1474.6h0M338.9 1475.8h0M384.4 1517.1h0M242.9 1536.3h0M397.1 1461.2h0M407.1 1499.3h0M318.3 1494.3h0M302 1503.6h0"/>
<path stroke="#ff9715" d="M371.7 1460.1h0M374.5 1459.6h0M403.6 1501.6h0M314.8 1496.7h0M274 1517.5h0M398.6 1462.3h0M398.8 1504.5h0M393.2 1460.3h0M370.2 1542.3h0"/>
<path stroke="#ff9112" d="M414.6 1489.8h0M344.5 1595.4h0M414.6 1483h0M260.8 1524.9h0M370 1461h0M363.4 1556.5h0M398.8 1463h0M379.9 1459.6h0"/>
<path stroke="#ff8e11" d="M390.1 1460.1h0M241.6 1538.2h0M387.5 1512.8h0M340.7 1475.7h0M265.4 1522.5h0M405.6 1468.3h0M405.2 1499.6h0M400.5 1502.8h0M269.4 1520.5h0"/>
<path stroke="#ff8b0f" d="M321.6 1493.1h0M321.2 1493.3h0M237 1542.5h0M377.8 1460.3h0M329.9 1486.4h0M389.6 1510.4h0M399.7 1503h0M316.7 1496.4h0M358.5 1465.3h0M411.9 1477.8h0M331.9 1617h0M411.7 1492.7h0M372.2 1536.8h0M285.7 1512.6h0M393.8 1461.9h0"/>
<path stroke="#ff850c" d="M371 1461.6h0M378.2 1524.5h0M405.2 1499.1h0M384.7 1515.1h0M239.4 1540.8h0M293.7 1508.8h0M375.5 1460.9h0M279.7 1515.7h0M365 1552.1h0M327.2 1624h0M366.1 1549.6h0M256.1 1528.6h0"/>
<path stroke="#ff820a" d="M304.4 1503.7h0M335.8 1481.6h0M280.5 1515.5h0M411.1 1477.4h0M344.8 1593.2h0M327.9 1622.7h0M398.8 1464.7h0M262.8 1524.9h0M395.5 1463.4h0M259.3 1527h0M353.8 1468.2h0M402.4 1500.4h0M361.7 1558.4h0"/>
<path stroke="#ff7f08" d="M295.6 1508.3h0M328.9 1488.5h0M332 1485.6h0M381.7 1461.2h0M402.2 1500.4h0M412.7 1485.6h0M410.7 1478.1h0M396.6 1464.4h0M271 1520.7h0"/>
<path stroke="#ff7c06" d="M373.2 1533.2h0M284.5 1514h0M286.6 1513h0M387 1511.5h0M374.8 1529.7h0M375.7 1527.8h0M306.7 1503.1h0M411.7 1488.8h0M352.4 1469.7h0M353.5 1574.6h0"/>
<path stroke="#ff7503" d="M349.3 1583.1h0M386.3 1462.2h0M273.3 1519.9h0M403.6 1498.6h0M407 1473.7h0M259.9 1527.4h0M356.4 1568.5h0M252 1532.5h0M409 1493h0M390.6 1463.2h0M407.3 1474.4h0"/>
<path stroke="#ff7202" d="M359.8 1561.1h0M242.1 1540.2h0M302.8 1505.6h0M409.5 1478.5h0M243.9 1538.8h0M343.3 1594.3h0M320.6 1495.8h0M254.2 1531.4h0"/>
<path stroke="#ff6f01" d="M375.6 1526.7h0M280.5 1516.7h0M325.2 1624.7h0M268.5 1522.9h0M395.6 1465.5h0M319.2 1496.9h0M402.1 1499h0M409.8 1490.3h0M314.2 1499.9h0M396.9 1502.5h0M336.8 1606.1h0M400.7 1468.8h0M284.7 1514.8h0M404 1471.7h0"/>
<path stroke="#ff6900" d="M237.1 1545.1h0M257 1529.9h0M341.9 1596.5h0M381.6 1463.1h0M321.3 1495.9h0M406.2 1494.7h0M409.6 1489.3h0M330.2 1489.5h0M397.7 1501.6h0M265.8 1524.8h0M360.1 1467.5h0M299.7 1507.7h0M378.9 1519.8h0M409.2 1480.7h0"/>
<path stroke="#ff6600" d="M326.9 1621.7h0M373.3 1464.1h0M397.4 1501.6h0M342.9 1594h0M350.6 1579h0M358.6 1468.4h0M381.6 1463.6h0M367.2 1543.7h0M348.3 1583.4h0"/>
<path stroke="#ff6300" d="M322 1495.9h0M384.6 1464.1h0M367.5 1542.8h0M377.1 1464.2h0M325.4 1493.9h0"/>
<path stroke="#ff6000" d="M340 1481.6h0M364.4 1466.7h0M332.6 1488.4h0M383.5 1512.7h0M337.1 1484.4h0M375.6 1464.5h0M362.4 1553.7h0M326.7 1493.1h0M337.6 1603.3h0M323.1 1495.6h0M352.1 1575h0M243 1541.1h0"/>
<path stroke="#ff5a00" d="M336.2 1485.7h0M343.8 1478.8h0M403.8 1474.1h0M250.1 1535.8h0M405.3 1476.2h0M358.3 1562h0M303.3 1506.7h0M408.1 1482.7h0M368.5 1539.7h0M270.3 1523.4h0M306.8 1505h0M347.2 1584.6h0M235.5 1548.1h0"/>
<path stroke="#ff5700" d="M354.6 1569.4h0M400.6 1471.6h0M343.5 1479.4h0M407.9 1483.4h0M296.2 1510.5h0M366.2 1544.6h0M313.5 1501.8h0M385 1510.2h0M404.9 1476.6h0M397.8 1499.7h0M377.4 1520.2h0"/>
<path stroke="#ff5500" d="M277.2 1520h0M374.4 1525.9h0M272.3 1522.6h0M314.6 1501.4h0M345.7 1478.2h0"/>
<path stroke="#ff4f00" d="M335.8 1487.2h0M330.9 1613.4h0M376.9 1520.5h0M406.6 1488.7h0M243.9 1541.4h0M395.3 1501h0M341.6 1482.1h0M341.3 1482.4h0M246.8 1539.2h0M385.2 1466.1h0M405.7 1490.3h0M401.2 1473.5h0M403.9 1493.1h0M406.7 1484h0M385.2 1509h0"/>
<path stroke="#ff4d00" d="M401.1 1473.6h0M348.8 1476.3h0M238.6 1546.1h0M300.9 1508.8h0M406.4 1484.8h0M406.3 1486.6h0M398.3 1471.7h0M357.2 1471.6h0"/>
<path stroke="#ff4a00" d="M313.1 1502.8h0M406.1 1485.4h0M344.5 1480.4h0M340 1484.4h0M368 1467.8h0M351.3 1475.2h0M265.9 1527h0M291.6 1513.6h0M391.9 1502.7h0M366.6 1541.7h0M342.6 1482.3h0M374.2 1466.9h0"/>
<path stroke="#ff4800" d="M399.1 1497h0M405.2 1488.8h0M247.6 1539.2h0M339.6 1485.1h0M297.7 1510.7h0M343.5 1589.8h0M255 1534h0M404.4 1480.2h0M395.1 1470.4h0M325.7 1496.1h0M348.7 1579.4h0M242.5 1543.5h0"/>
<path stroke="#ff4300" d="M401.2 1494.4h0M372.7 1467.5h0M389.7 1503.8h0M404.8 1483.2h0M368.2 1537.2h0M352 1572.5h0"/>
<path stroke="#ff4100" d="M359.4 1556.9h0M339.3 1486.3h0M385 1467.8h0M391.3 1502.3h0M257.9 1532.6h0M404.6 1486.2h0M324 1622h0M368.7 1535.6h0M391.2 1469.5h0M360.4 1471.5h0M404.2 1483.1h0M286.2 1516.9h0"/>
<path stroke="#ff3e00" d="M376.2 1518.9h0M308 1506.3h0M393.4 1470.8h0M347.2 1479.9h0M379.6 1513.4h0M280.1 1520.2h0M377.6 1467.9h0M353.2 1569.3h0M356.8 1561.7h0"/>
<path stroke="#ff3c00" d="M380 1512.7h0M347.4 1581h0M387.2 1505h0M399.9 1494.2h0M400.2 1493.8h0M342 1484.7h0M365.9 1541.5h0M293.1 1513.9h0M322.7 1499h0M372.3 1526.1h0M242.6 1544.5h0M266.7 1527.8h0"/>
<path stroke="#fe3800" d="M401.4 1491.7h0M336.2 1490.1h0M248.7 1539.9h0M364.2 1471.1h0"/>
<path stroke="#fc3600" d="M335.8 1490.7h0M299 1511.3h0M333.2 1492.6h0M363.2 1547.1h0M369.2 1470h0M296.8 1512.5h0"/>
<path stroke="#fa3300" d="M383.6 1507.3h0M396.5 1474.6h0M389 1470.5h0M235.3 1551.8h0M380.5 1510.7h0M375.2 1518.8h0M387.8 1470.3h0M372.6 1524.1h0M329.6 1612h0M359.1 1473.8h0"/>
<path stroke="#f62f00" d="M264.4 1529.9h0M336.2 1491.1h0M345.4 1583.5h0M332.5 1493.9h0M244.7 1543.7h0M358.9 1474.2h0M263.2 1530.7h0M360 1553.2h0M350.6 1479.4h0M386.8 1503.7h0M369.9 1529.8h0"/>
<path stroke="#f42d00" d="M327 1497.6h0M389 1471.5h0M333 1605.7h0M366.7 1471.7h0M265.1 1529.9h0"/>
<path stroke="#f22b00" d="M284.7 1519.1h0M321.3 1501h0M310.3 1506.6h0M372.8 1522.4h0M390.4 1472.6h0M339.2 1489.6h0M283.2 1520.1h0M392.5 1498.1h0"/>
<path stroke="#ef2900" d="M378.6 1511.4h0M314.1 1505h0M386.4 1471.4h0M397 1477.6h0M336.4 1599.4h0M322.6 1621.5h0M317.8 1503.2h0M341.5 1590.1h0M350.8 1571.7h0M278.9 1522.5h0M397.4 1478.3h0M295 1514.4h0M320.1 1502h0M321.6 1501.3h0"/>
<path stroke="#eb2500" d="M357.5 1557.6h0M386.9 1471.9h0M376.2 1514.6h0M385.5 1503.5h0M235.3 1553.2h0M399.2 1488.7h0M350.2 1572.6h0"/>
<path stroke="#e82300" d="M235.7 1552.9h0M291.6 1516.3h0M294 1515.2h0M388 1472.8h0M327.4 1613.7h0M376 1471.3h0M251.6 1539.6h0M325 1499.8h0M373.6 1518.8h0M336.3 1598.9h0M288.9 1517.8h0M243.8 1545.8h0M389.2 1473.4h0M344.8 1486.3h0"/>
<path stroke="#e62100" d="M368.6 1472.6h0M388.8 1499.8h0M243.9 1545.8h0M346.5 1579.6h0M330.5 1608.5h0M387.7 1473.2h0M343.3 1487.8h0M397.1 1480.3h0M344.2 1583.9h0M304.6 1510.3h0"/>
<path stroke="#e11e00" d="M336.4 1493.4h0M389.7 1474.4h0M357.8 1555.7h0M339.5 1491.3h0M303.9 1510.9h0"/>
<path stroke="#de1c00" d="M377.7 1472.2h0M357.8 1555.2h0M396.8 1489.1h0M363.5 1475.2h0"/>
<path stroke="#db1a00" d="M267 1530.3h0M393.7 1478.1h0M274.3 1526.1h0M285.1 1520.4h0M385.4 1501.4h0M335.9 1494.5h0M393.8 1493.3h0M364 1540.3h0"/>
<path stroke="#d81800" d="M369.4 1526.3h0M373.5 1473.3h0M392.3 1477.7h0M388.9 1475.6h0M385.3 1501h0M381 1505.2h0M335.4 1599h0"/>
<path stroke="#d31500" d="M363.5 1541.2h0M366.1 1475h0M272.3 1527.5h0M378.5 1508.1h0M271.6 1528h0M395.3 1489.3h0M322 1620h0M245.5 1545.8h0M343.1 1490h0M355.5 1480.5h0M323.4 1502.1h0M366.9 1532.1h0M378.1 1508.1h0"/>
<path stroke="#d01300" d="M395.4 1483.2h0M344.2 1489.4h0M270.2 1529h0M378.9 1506.8h0M364.9 1536.9h0M393.4 1491.6h0"/>
<path stroke="#cd1100" d="M304 1511.8h0M394.3 1489.7h0M361.4 1477.8h0M389.1 1477h0M370.6 1521.4h0M331.2 1605.5h0M289.4 1519h0M371.8 1474.6h0M368.1 1528h0M394.8 1485.5h0M366.1 1476.1h0"/>
<path stroke="#c60e00" d="M394.2 1488.8h0M259.7 1535.9h0M376.3 1509.5h0M369.3 1524.1h0M385.1 1475.9h0"/>
<path stroke="#c30c00" d="M330.1 1606.9h0M324 1502.5h0M336.8 1595.3h0M376.8 1474.8h0M381.5 1502.6h0M375.3 1510.4h0"/>
<path stroke="#c00b00" d="M253.2 1540.9h0M392.8 1488.8h0M310.3 1509.4h0M391.5 1481.5h0"/>
<path stroke="#bd0900" d="M391.3 1481.5h0M364.8 1535h0M385.7 1497.6h0M391.4 1490.6h0"/>
<path stroke="#b60600" d="M324 1503.2h0M354.4 1559.6h0M295.3 1516.9h0M315.7 1507.2h0M377.6 1505.6h0M350.3 1487.3h0M372.1 1514.7h0"/>
<path stroke="#b20500" d="M287 1521.2h0M308.7 1510.6h0M279.2 1525.2h0M374.1 1476.5h0M265.8 1533h0M371.1 1476.9h0M264.3 1533.9h0M360.1 1546.1h0M281.7 1524h0M273.7 1528.5h0"/>
<path stroke="#af0400" d="M358.1 1482.3h0M331.1 1603.8h0M354.3 1559.2h0M244.9 1548.1h0M363.5 1479.6h0M331.2 1603.4h0M369.8 1519.1h0M301.8 1514.1h0M389.6 1482.8h0"/>
<path stroke="#ab0400" d="M362.6 1480.3h0M283.2 1523.5h0M356.3 1554.4h0M267 1532.7h0M342.5 1494h0M359.9 1545.8h0M351.6 1487.7h0"/>
<path stroke="#a40200" d="M387.5 1492.8h0M318.9 1621.6h0M325.5 1612.1h0M320.8 1619h0M249 1545.3h0M327.3 1502.5h0M359 1547.7h0M369 1520h0M368 1522.8h0"/>
<path stroke="#a00200" d="M359.2 1546.9h0M259.2 1538.1h0M323.9 1614.2h0M353.9 1486.9h0M367.1 1525h0M352.7 1487.8h0"/>
<path stroke="#9c0100" d="M361.9 1482.1h0M372.8 1509.6h0M376.6 1478.7h0M264.1 1535.1h0"/>
<path stroke="#940100" d="M261.1 1537.1h0M381.4 1497.7h0M377 1502.8h0M360.8 1542.1h0M252 1543.6h0M342.1 1495.5h0M367.7 1480.3h0M365 1530.2h0"/>
<path stroke="#900000" d="M334.5 1596.4h0M356.9 1551.5h0M338.8 1497.6h0M314.6 1509.1h0M262.7 1536.3h0M386.9 1486.8h0M368.5 1480.5h0M234.7 1624.6h0M234.8 1623.9h0M243.6 1624.9h0M245 1622.7h0M244.2 1624.9h0M261 1622.7h0M259.6 1624.7h0M263.6 1624.1h0M263.4 1624.3h0M268.5 1623.2h0M276.7 1623.6h0M276.9 1623.5h0M290.2 1625h0M298.3 1623.5h0M302 1624.4h0M304.9 1623.5h0M303.9 1623.4h0M309.1 1622.9h0M311.2 1623.9h0M315.2 1623.9h0M238.6 1621.1h0M237.6 1620.3h0M239.8 1620.7h0M246.6 1621.1h0M271.2 1621.1h0M269.4 1621.5h0M272.2 1621.5h0M279.8 1620.7h0M283 1620.4h0M284.2 1620.8h0M287.2 1621.1h0M295.1 1620.5h0M301.2 1620.5h0M305.8 1622h0M317.6 1621.3h0M317.4 1621.6h0M235.3 1619.6h0M237 1619.7h0M236.9 1618.3h0M239.5 1618.9h0M240.3 1618.7h0M243.9 1617.9h0M249 1618.6h0M252.5 1618.9h0M252.8 1617.9h0M256.9 1619.1h0M261.5 1619.7h0M262.4 1618.7h0M267.5 1618.3h0M269.1 1618.5h0M274.4 1619.9h0M276.6 1619.2h0M276.9 1618.4h0M280.8 1618.1h0M281.5 1618h0M289.3 1618.3h0M291.6 1618.9h0M298.3 1618.7h0M299.5 1618.8h0M301.3 1619h0M316.1 1619h0M315.6 1618.3h0M238 1615.9h0M238.1 1617.6h0M243.4 1616.5h0M242.6 1615.8h0M243.7 1615.7h0M268.6 1615.5h0M269.7 1617.5h0M269.4 1616.3h0M271.1 1616.8h0M275.3 1615.8h0M277.8 1617.3h0M280.8 1616.7h0M282.1 1617.5h0M285 1617.5h0M295 1617.1h0M301 1617h0M302.4 1617.2h0M307 1615.6h0M317.1 1616.8h0M317.6 1616.9h0M322.3 1615.4h0M238 1614.5h0M243.2 1613.8h0M243.6 1614.9h0M245.8 1614.6h0M245.1 1614.8h0M249.9 1613.3h0M253.7 1614h0M257.5 1613.4h0M262.3 1613.4h0M265.6 1614.7h0M276.8 1614h0M286 1613.8h0M291 1615.1h0M296.6 1612.9h0M298.8 1613.3h0M316.6 1614.1h0M237.8 1611.7h0M246.4 1611h0M250.6 1612.1h0M249.6 1610.6h0M261.2 1612.1h0M276.2 1611.4h0M277 1611h0M276.8 1611.9h0M281.3 1611.4h0M286 1610.2h0M285.2 1610.6h0M286.5 1612.1h0M304.5 1612.1h0M304.8 1612.5h0M309.6 1610.3h0M314 1611h0M318.4 1610.5h0M316.6 1612.4h0M322.3 1612.7h0M235.6 1609.9h0M244.4 1610.1h0M252.9 1607.7h0M259 1608h0M261.1 1609.1h0M268.6 1609.8h0M268.9 1607.9h0M269.1 1609.5h0M276 1609.1h0M274.4 1610.2h0M283.3 1607.9h0M283.9 1608.9h0M289 1609.7h0M291.3 1608.9h0M315.1 1608.6h0M315.4 1609.2h0M316.8 1608.1h0M316.8 1610h0M322.6 1608.1h0M326.3 1609.5h0M237 1607.3h0M240.8 1606.4h0M239.3 1606.2h0M242.6 1605.8h0M251.5 1607.5h0M252.5 1607.6h0M255.6 1605.4h0M258.8 1605.7h0M264.8 1607.4h0M264 1607.2h0M269.9 1607.2h0M273.6 1607.6h0M272.2 1607.1h0M275.7 1605.5h0M278.4 1606.4h0M278.5 1605.7h0M279.5 1607.1h0M285.6 1607.2h0M288.4 1607.7h0M289.8 1606.1h0M289.6 1605.9h0M293 1606.4h0M291.8 1605.8h0M291.6 1606h0M297 1607.5h0M300.6 1607.2h0M303.7 1606.1h0M304.5 1605.9h0M304.2 1605.4h0M311.5 1606.5h0M316.2 1607.5h0M318.6 1605.8h0M319.8 1607.2h0M320.8 1606.9h0M322.8 1605.3h0M323.2 1606.6h0M323.2 1606.8h0M325.3 1607.1h0M323.8 1607h0M326.9 1606.5h0M237.4 1603.8h0M238.6 1603.5h0M239.5 1605.1h0M248.3 1603.4h0M250.1 1602.9h0M255.9 1603.8h0M256.9 1604.9h0M261.2 1604.6h0M263 1603.9h0M262.6 1603.2h0M271.7 1604.2h0M276.3 1603.4h0M275 1602.9h0M283.6 1603.5h0M281.6 1603.5h0M284 1604.2h0M285.2 1603.3h0M290.6 1605h0M291 1603.3h0M290.6 1604.8h0M299.7 1602.9h0M302.2 1603.6h0M304.7 1604.1h0M308.3 1603.7h0M308.7 1602.9h0M316.1 1603h0M316.9 1604.3h0M316.4 1603.7h0M321.4 1604h0M321.1 1603.2h0M324.5 1604.8h0M328.3 1604.2h0M328.8 1604.3h0M235.1 1600.9h0M257.9 1601.8h0M258.7 1600.6h0M259.7 1602h0M268 1601.4h0M266.8 1601.2h0M273.5 1600.5h0M275.9 1601.6h0M274.9 1602.5h0M284.9 1602.5h0M287.1 1601.8h0M289.6 1602.1h0M291.7 1600.3h0M293.2 1602.7h0M295.5 1602h0M305.8 1602h0M310.1 1600.4h0M311.7 1600.7h0M323 1602.3h0M321.8 1602.1h0M329.9 1600.8h0M328.6 1602.5h0M235 1598.9h0M238.7 1598.4h0M239.5 1598.8h0M242.3 1598.4h0M244.8 1599.8h0M248 1599.9h0M253.5 1599.7h0M256.5 1598.5h0M255.8 1597.9h0M255.2 1599.8h0M254.5 1598.3h0M257.6 1598.5h0M257.4 1599.8h0M259.1 1598.3h0M262.5 1598.1h0M261.7 1598.8h0M265.9 1598.9h0M265.5 1599.4h0M267.9 1599.9h0M274.4 1599.5h0M274.7 1599.6h0M276.2 1599.2h0M278.2 1599.2h0M283.6 1598.7h0M288.9 1600.3h0M289.2 1599.3h0M291.8 1598.3h0M294.7 1598.7h0M298.5 1600.1h0M297.5 1598h0M300 1599.2h0M313.8 1598.3h0M316.4 1599.9h0M318.6 1599.5h0M321 1599.8h0M322.6 1598.5h0M321.2 1600.2h0M325.5 1599.1h0M328.1 1598.3h0M330.4 1599.2h0M331.7 1598.3h0M331.9 1599.7h0M234.8 1595.4h0M241.4 1596.2h0M253.5 1596.8h0M255.8 1596.3h0M261.6 1597.4h0M269.2 1596.4h0M269.1 1596.7h0M272.3 1597.5h0M278 1597h0M283.7 1597.5h0M281.6 1595.9h0M283.3 1596.1h0M283.8 1597.6h0M284.9 1597.3h0M293 1597.5h0M291.9 1596h0M296.8 1597h0M299.2 1595.6h0M316.8 1595.6h0M318.1 1595.4h0M320.4 1596.2h0M324.1 1597.6h0M329.3 1596.8h0M331.7 1597.5h0M333.1 1597.6h0M238.4 1593h0M242.5 1593.4h0M241.7 1593.3h0M243.6 1592.9h0M247.1 1594.5h0M247.6 1594.5h0M249.5 1594.6h0M251 1594.8h0M249.7 1593.4h0M251.8 1595.1h0M253.2 1593.8h0M254 1594.9h0M266.3 1593.9h0M268.3 1593.2h0M269.4 1593.4h0M272.4 1594.9h0M282.2 1594.6h0M284.3 1593.2h0M284.2 1593.4h0M289.9 1594h0M291.5 1593.1h0M291.7 1593.7h0M296.7 1593.1h0M300.4 1595.3h0M298.9 1593.9h0M300.2 1595h0M303.1 1595h0M308.9 1592.8h0M322 1594.2h0M321.7 1594.7h0M324.1 1593.9h0M329.2 1594h0M331.1 1592.9h0M335.2 1593.8h0M236.8 1592h0M239.8 1591.3h0M258.1 1591.1h0M258.6 1592.3h0M258.6 1592.4h0M261.2 1590.5h0M259.3 1592h0M263.4 1590.7h0M268.7 1591.7h0M269.3 1590.6h0M269.7 1592h0M271.8 1592.1h0M272.6 1591.2h0M275.4 1592.4h0M277.2 1591.4h0M280.3 1591.5h0M280.1 1591.3h0M292.2 1590.4h0M295.1 1590.9h0M297.6 1592.5h0M317.8 1592.8h0M322.1 1590.7h0M325.8 1592.1h0M330.1 1592.1h0M333.3 1592.3h0M241.1 1588.2h0M242 1588.8h0M249.9 1589.9h0M254 1588.2h0M255.3 1589.9h0M266.1 1588.2h0M269.2 1590h0M269.4 1588.9h0M271.7 1589.7h0M273.4 1588.6h0M278 1588.7h0M281.3 1589.6h0M282.9 1588.6h0M281.6 1588.7h0M288.6 1588.1h0M287.9 1589h0M291.3 1588.9h0M298.7 1587.9h0M303.3 1588.7h0M302 1589.9h0M309.8 1589.9h0M310.6 1588.5h0M313.4 1589.2h0M313.7 1588.7h0M314.6 1588.2h0M324.1 1589.8h0M331.3 1588.8h0M337.3 1589.8h0M338.6 1588.3h0M238.1 1587.4h0M239.4 1587.2h0M249.9 1586.8h0M254.3 1586.3h0M258.6 1585.8h0M257.1 1586.6h0M257.3 1587.2h0M260.7 1587.3h0M261.7 1586.5h0M267.7 1585.7h0M268.5 1586.2h0M271.2 1586.9h0M271.4 1587.6h0M271.5 1587.5h0M278 1586.1h0M276.7 1586.9h0M288.9 1585.9h0M300.8 1587.3h0M302.2 1586.1h0M306 1586.6h0M307.9 1585.9h0M308.6 1586.3h0M312.7 1587.8h0M314.1 1586.3h0M317.9 1587.1h0M318.9 1587.6h0M324.6 1585.5h0M330.8 1585.6h0M238.5 1584h0M243.2 1584.3h0M245.2 1583.4h0M246 1585.3h0M256.6 1582.9h0M263.1 1585.1h0M261.6 1584.7h0M270.2 1583.1h0M273.3 1584.6h0M274.4 1583.5h0M277.4 1584.8h0M277.3 1585.4h0M283.8 1583.7h0M283.2 1583.8h0M287.8 1583.9h0M290.1 1583.7h0M289 1584h0M295 1583.4h0M298.7 1584.2h0M297.5 1585h0M299.1 1585.2h0M303.9 1584.9h0M309.7 1584.2h0M309.3 1583.9h0M312.4 1585.1h0M315.2 1584.8h0M314.5 1583.5h0M316.4 1585h0M332.6 1584.6h0M335.2 1583.8h0M249.3 1582.3h0M250.5 1580.5h0M255.3 1581.2h0M260.6 1581.4h0M267.5 1581.7h0M269.4 1582.7h0M269 1581.2h0M272.4 1581.9h0M275.4 1581.8h0M280.6 1582.2h0M287 1581.2h0M286.9 1580.9h0M298.4 1582.8h0M303.1 1582.2h0M303.9 1582.4h0M311.9 1582.6h0M316.3 1581h0M322.8 1580.8h0M323.6 1581.6h0M336.3 1581.2h0M337.2 1581.3h0M337.6 1581.7h0M342.2 1582.1h0M341 1581.2h0M239 1577.9h0M242.5 1577.9h0M244.3 1579.4h0M245.6 1578.7h0M251.4 1579.8h0M255.7 1579.4h0M260.8 1578.8h0M269.4 1579.1h0M272.6 1578.9h0M275.2 1578.4h0M277.1 1578.1h0M285.6 1578.9h0M297.4 1579.2h0M297.7 1578.2h0M301.2 1578.5h0M302.2 1579.7h0M307 1579.2h0M307.4 1579.1h0M307 1578.6h0M312.2 1578h0M312 1578h0M316.4 1578.7h0M316.5 1578.7h0M330.2 1578.8h0M336.2 1579.2h0M340.9 1579h0M343.2 1579.8h0M236.1 1577.6h0M241.5 1577.8h0M240 1576h0M243.5 1577h0M241.9 1577.2h0M246.2 1576h0M246 1576.9h0M248.1 1576h0M246.7 1577.2h0M253.5 1576.2h0M252.9 1576.9h0M257.9 1577h0M261.4 1576.8h0M262.5 1577.2h0M263.8 1577.3h0M274.9 1577.6h0M275.8 1575.9h0M283.4 1576.2h0M283.3 1577.8h0M283.9 1577.3h0M286.4 1577.3h0M291 1577.2h0M302.1 1575.9h0M306.8 1575.6h0M308.3 1575.9h0M312.3 1576.1h0M312.8 1576.9h0M316.8 1577.4h0M319.7 1577.7h0M321.1 1576.6h0M321.4 1576.8h0M329.6 1576.2h0M330.4 1575.7h0M331.4 1576.7h0M332.5 1577.3h0M337.1 1577.2h0M339.2 1576.1h0M340.6 1576.2h0M341.8 1577.7h0M240.2 1574.4h0M240.2 1573.4h0M255.3 1574h0M257.3 1573.1h0M258.8 1573.6h0M261 1573.1h0M270.8 1574.8h0M269 1574.4h0M273.6 1573h0M276.2 1575h0M279.3 1574.2h0M281.8 1573.2h0M295.8 1574h0M299.5 1574.9h0M305.2 1573.8h0M310.6 1575.2h0M313.7 1574h0M316.5 1575.2h0M318 1573.4h0M327.1 1575.3h0M330.7 1575.4h0M341 1575.2h0M344 1573.6h0M345.8 1574.4h0M234.2 1572.3h0M238.5 1571.2h0M240.1 1572.6h0M245.7 1571.2h0M249.7 1571.9h0M253.5 1572.4h0M254.9 1572.5h0M257.6 1572.4h0M258.2 1571.6h0M258.9 1572.6h0M262.4 1572.4h0M264.7 1571.2h0M265.4 1572.4h0M270.4 1570.7h0M271 1572.3h0M276.4 1570.7h0M274.7 1572.7h0M274.9 1571.5h0M282.9 1571.4h0M297.6 1571.5h0M300.8 1571.4h0M301.6 1570.7h0M311.3 1572.1h0M311.5 1572.1h0M311.8 1572.4h0M314.1 1572.7h0M321.1 1571.1h0M321.2 1572.3h0M326.3 1571.1h0M331.5 1572.7h0M332.6 1572.1h0M332 1570.7h0M332.3 1571.9h0M333 1572.1h0M337.3 1571.9h0M341.2 1570.9h0M344.7 1571.2h0M237.9 1568.5h0M240 1568.5h0M246.1 1568.9h0M247.9 1569.4h0M247.4 1570h0M251.8 1568.2h0M260 1568.5h0M262.4 1568.4h0M266.9 1568.6h0M269.7 1570.2h0M278.1 1568.4h0M281.6 1570.2h0M284.9 1570.2h0M290.3 1569.3h0M293.3 1570h0M293.6 1569.5h0M294.5 1570h0M294.1 1569.9h0M297.7 1568.4h0M301.9 1569.3h0M302.1 1569.1h0M308.6 1568h0M306.3 1568.7h0M310 1569.8h0M316.6 1568.9h0M316.7 1569.1h0M322 1569.6h0M322.6 1570.4h0M323.2 1570h0M324.4 1568.4h0M329 1569.8h0M331.7 1569.3h0M332 1570h0M335.9 1569.2h0M336.8 1568.8h0M337.3 1568.3h0M342.6 1569.2h0M341.1 1569.8h0M343.5 1569.6h0M345.8 1570h0M347.4 1569.8h0M346.1 1568.2h0M238.1 1567.7h0M239.6 1565.7h0M243.9 1566.9h0M253.2 1567.9h0M260.2 1567.8h0M260.1 1565.9h0M263.7 1565.9h0M264.4 1565.6h0M267.2 1566.6h0M267.3 1567.2h0M271.2 1566.6h0M272.9 1567.2h0M278.7 1567.1h0M277.9 1567.8h0M279.6 1565.6h0M281.7 1566.3h0M283.5 1566h0M285.6 1567.9h0M285.2 1567.9h0M289.4 1567h0M294.6 1567.2h0M300.5 1565.8h0M304 1567.9h0M308.1 1566.7h0M316.9 1566.7h0M321.6 1566.9h0M325.6 1567.3h0M331.8 1567h0M334.9 1566.5h0M336.3 1566.1h0M339.5 1567h0M342.4 1566.4h0M240.5 1563h0M242.1 1564.5h0M248.1 1564h0M249 1564.1h0M254.4 1563.6h0M257.2 1563.3h0M261.7 1563.6h0M264.3 1563.4h0M268.7 1563h0M270.3 1563.8h0M271.5 1565.5h0M272.3 1565h0M277.4 1565.3h0M279 1565h0M286.9 1564.1h0M296.9 1563.5h0M302.2 1563.9h0M306 1565.4h0M307.8 1563.7h0M316.4 1564.9h0M323.2 1563.7h0M322 1564.5h0M327.8 1563.3h0M330.2 1564.7h0M329.6 1564.4h0M339.9 1565h0M338.7 1563.9h0M340.7 1564.3h0M240.1 1562.1h0M250.9 1560.9h0M251.6 1562.8h0M254.4 1562.7h0M255.9 1562.1h0M260.8 1560.7h0M263 1560.6h0M265.9 1562.9h0M267.7 1562.6h0M267.4 1561.7h0M269.4 1561.7h0M269.4 1561.8h0M275.7 1561.2h0M280.4 1561.7h0M281.3 1561.6h0M282.8 1562.7h0M281.8 1560.6h0M287.5 1562.6h0M287.4 1560.5h0M290.9 1561.3h0M296.5 1561.2h0M302.7 1560.8h0M305.7 1560.7h0M308.4 1561.5h0M310.7 1561h0M310.8 1561.9h0M311.3 1562.1h0M318.4 1561.4h0M320 1562.1h0M328 1560.6h0M335.1 1562.9h0M337.6 1562.6h0M338.6 1561.3h0M339 1561.1h0M340.5 1561.9h0M342.1 1560.6h0M241 1558.6h0M241.7 1560.2h0M243.4 1559.8h0M247.4 1559h0M262.1 1560.3h0M265 1560.4h0M269.4 1560.3h0M273.8 1559h0M275.7 1559.1h0M276.6 1558.3h0M279.5 1560.2h0M282.6 1558.5h0M281.5 1558.1h0M284 1560.2h0M285.2 1559.9h0M292.3 1560.5h0M296.1 1558.8h0M301 1560.2h0M301.4 1559.6h0M311 1559.8h0M311.3 1560.4h0M314.3 1558.3h0M317.9 1559.1h0M319.4 1558.9h0M332.7 1559.7h0M334.5 1560.3h0M337.8 1558.6h0M339 1560.1h0M342.2 1560.2h0M343.5 1559h0M239.3 1557h0M243.5 1556.4h0M246.6 1557.2h0M248.2 1555.7h0M249 1556.5h0M249.9 1557.7h0M254.6 1557.7h0M267.6 1556.6h0M268.1 1557h0M266.5 1555.7h0M268 1556.5h0M266.5 1555.8h0M273.8 1557h0M273.9 1558h0M277.5 1557.4h0M280.3 1556.6h0M291.7 1557.1h0M293.7 1556.8h0M294 1555.6h0M298.5 1557.7h0M298.9 1555.6h0M302.2 1556.2h0M314.3 1556.9h0M320.9 1556h0M321 1556.4h0M320.9 1556.1h0M322.2 1555.9h0M328.3 1556.5h0M332.8 1558h0M340.1 1556h0M342 1557.8h0M347.6 1557.7h0M347.8 1556.8h0M351.3 1557.6h0M243.1 1553.9h0M246 1555.3h0M247.9 1553.5h0M249.7 1554.3h0M253.8 1553.6h0M257.8 1554.8h0M263.3 1554.5h0M267.1 1555.4h0M268.2 1554.7h0M266.6 1555.1h0M269 1554h0M270 1554.6h0M275 1553.8h0M277.4 1554h0M277.1 1553.6h0M278.9 1554h0M281.2 1554.1h0M287.3 1553.3h0M289.3 1553.5h0M294.4 1554.2h0M298.6 1553.3h0M300.3 1555.4h0M304.5 1555.1h0M308.4 1554.5h0M310 1554h0M310.1 1555.2h0M311.2 1554.7h0M314.9 1554.5h0M316.8 1553.4h0M316.2 1554h0M319.5 1554.7h0M322.4 1554.1h0M324.1 1554.4h0M327.8 1554.2h0M330.9 1555h0M334 1554.1h0M337.5 1554.9h0M340.3 1553.6h0M344.4 1554.9h0M350.1 1555.3h0M349.8 1554.6h0M353.9 1553.7h0M244.1 1552.7h0M246.9 1550.8h0M250.6 1551.6h0M255.9 1551.3h0M259.9 1552.3h0M262.2 1550.8h0M264.7 1552.1h0M264.4 1553h0M271.9 1551.3h0M274.6 1551.1h0M286.9 1550.7h0M288.9 1551.3h0M290.9 1552.3h0M293 1550.9h0M293.9 1552.4h0M295.6 1552.9h0M306.7 1552.8h0M311.6 1551.5h0M318.3 1550.7h0M321.8 1551.7h0M325.4 1552.7h0M335.8 1552.7h0M334.9 1552h0M336.6 1552.7h0M337.4 1551.8h0M341.2 1552.3h0M347 1551.6h0M348.6 1551.7h0M352 1553.1h0M354.7 1551.4h0M248.8 1549h0M248.8 1549.1h0M253.1 1550.1h0M254.8 1548.6h0M254.7 1548.2h0M257.9 1549.2h0M265.3 1548.6h0M278.7 1548.6h0M283.7 1549.8h0M290.6 1548.4h0M294.5 1548.6h0M308.2 1549.7h0M312 1549.3h0M313.9 1549.9h0M319.3 1549.8h0M323.9 1548.6h0M329.3 1548.1h0M329.9 1549.8h0M331.9 1550.3h0M333.3 1549h0M332.7 1549.3h0M340.8 1548.7h0M341.5 1549.7h0M345.7 1549.5h0M351.3 1549.1h0M251.7 1547.1h0M262.2 1545.7h0M278.8 1547h0M280.8 1547.3h0M280.9 1546.8h0M281.6 1546.5h0M281.9 1545.9h0M285.8 1546.6h0M287 1545.8h0M286.7 1547.8h0M288.5 1547.8h0M297.4 1546.6h0M299.4 1547.1h0M309 1547.3h0M309.2 1545.8h0M310 1546.9h0M313 1545.9h0M315.3 1546.8h0M323.5 1547.8h0M331.7 1546.2h0M337.6 1545.9h0M336.5 1548h0M337.4 1545.9h0M340.3 1546.9h0M341 1547h0M344.8 1546.4h0M346.7 1548h0M352 1546.1h0M354.4 1547.2h0M354.6 1546.5h0M263 1544.7h0M262.5 1545.6h0M268.6 1543.7h0M269 1544.6h0M273 1543.3h0M273.4 1544.7h0M272.9 1544.5h0M278.7 1544h0M281 1543.6h0M279.1 1543.3h0M283.7 1545.3h0M282.5 1543.8h0M285.7 1544.2h0M291.6 1544.8h0M295.6 1543.3h0M301.7 1544.5h0M304.2 1545.5h0M303.9 1543.9h0M310.3 1543.3h0M309.2 1543.7h0M309.8 1545h0M316.5 1543.5h0M323.5 1544.3h0M322.9 1545.5h0M325.1 1543.9h0M326 1544.7h0M329.9 1543.7h0M330.3 1543.5h0M330.6 1545.5h0M336 1544.5h0M337.6 1543.2h0M344.7 1543.3h0M346.9 1543.3h0M355.8 1543.1h0M354.9 1544.8h0M356.3 1545.5h0M253.1 1543.1h0M256.8 1541.7h0M257.3 1542.5h0M262.8 1542.8h0M267 1542.7h0M267.5 1542.6h0M276.7 1542.4h0M280.3 1542.5h0M279.9 1541.3h0M285.6 1542.6h0M285.7 1541.4h0M290.3 1541.2h0M297 1542.9h0M298.4 1541.9h0M298.1 1541.6h0M299.1 1541.9h0M303 1541h0M310.4 1542.3h0M325.5 1542.8h0M335.6 1541.7h0M340.9 1542.4h0M347 1541.7h0M263.6 1538.8h0M266.4 1539.3h0M268.8 1540h0M270.4 1540.4h0M281.9 1539.3h0M284.9 1539.6h0M284.2 1538.8h0M291.8 1539h0M294.3 1540.6h0M294.9 1540.5h0M306.6 1538.8h0M310.8 1539.4h0M315.1 1539.6h0M320.6 1539.7h0M321.1 1539.3h0M319.7 1540.6h0M325.3 1538.2h0M333.2 1538.5h0M350.2 1538.2h0M352.1 1538.9h0M356.6 1539.2h0M357.5 1540.5h0M359.9 1539.2h0M262.8 1537.4h0M266.1 1537.7h0M268.5 1537h0M269.6 1537.6h0M269.5 1537.8h0M273.9 1537h0M273.2 1536.6h0M277.2 1536.4h0M290.6 1537.5h0M290.6 1537h0M291.2 1537.9h0M292.6 1536.3h0M301.6 1537.6h0M303.9 1537.4h0M308.9 1536.7h0M318 1537.1h0M317.9 1537.4h0M321.4 1537.8h0M330.9 1538.1h0M337.9 1537.4h0M337.3 1535.7h0M337.9 1537.1h0M344.4 1536.5h0M349 1537.8h0M353.4 1537.9h0M355.2 1536.5h0M354.9 1536.9h0M357.6 1537.4h0M360.3 1537.5h0M358.8 1536.3h0M269.4 1535.5h0M273.6 1534.8h0M273.5 1534.7h0M276.9 1534.6h0M289.3 1534.6h0M292.7 1534.9h0M293.6 1535.2h0M299.5 1533.6h0M307.6 1535.3h0M320 1533.9h0M319.8 1535.5h0M319.6 1535h0M324.1 1533.7h0M326 1534.7h0M328.1 1535h0M330.3 1534.2h0M329.3 1535.2h0M329.3 1534.8h0M353.6 1533.5h0M356.6 1534.9h0M363 1534.3h0M274.3 1531.2h0M275.6 1532.9h0M276.7 1533.1h0M282.8 1531h0M288 1531.2h0M296.2 1531.9h0M294.9 1532.1h0M298.9 1532.3h0M299.6 1531.9h0M324.6 1532.3h0M328.5 1530.9h0M328.7 1531.5h0M332.8 1531h0M333 1531.3h0M354.5 1531h0M356.6 1533.1h0M358.7 1531h0M363.4 1532.9h0M363.6 1533h0M276.6 1530h0M278.3 1528.7h0M284.9 1529.6h0M293.3 1530.3h0M296.1 1529.7h0M294 1528.8h0M306.8 1529.4h0M310.4 1528.6h0M317.9 1530.2h0M318.7 1528.8h0M322.1 1530.2h0M325 1529.8h0M328 1529.9h0M326.7 1529.3h0M329.6 1529.9h0M332.4 1528.8h0M334.5 1530.4h0M333.7 1528.9h0M339.6 1530h0M345.6 1529.7h0M348.4 1530h0M349.7 1529.2h0M349.4 1528.8h0M350.6 1530.2h0M361.2 1530.4h0M362.5 1529.5h0M363.2 1530.3h0M363.6 1529.6h0M287.5 1526.9h0M292.2 1527.5h0M298.4 1527h0M310.5 1527.3h0M314.9 1527.4h0M325.8 1527.5h0M327.5 1527.8h0M329.7 1526.5h0M330.7 1528.1h0M328.7 1528h0M337.5 1527.5h0M338.9 1526.6h0M340.2 1526.3h0M344.6 1528.2h0M344.7 1526.9h0M349.5 1526.1h0M351.5 1527.9h0M352.8 1527.6h0M351.9 1527.1h0M357.7 1525.9h0M357.9 1527.8h0M363.3 1527.6h0M285.8 1524.2h0M288 1523.3h0M289.3 1524.8h0M292.8 1524.3h0M292.9 1525.6h0M294 1524.1h0M319.8 1523.4h0M319.5 1525h0M319.8 1525.7h0M335.7 1524h0M333.9 1525.6h0M341.8 1525.6h0M347.5 1524.4h0M349.1 1525.3h0M354.4 1524.4h0M355 1525.6h0M359.6 1524.3h0M361.7 1525.1h0M362.8 1523.9h0M362.3 1524.6h0M295.8 1523.1h0M306.6 1521.2h0M307.8 1521.2h0M311.7 1521.9h0M322.1 1523h0M322.1 1522.7h0M321.1 1523.1h0M325.5 1521.3h0M327.8 1522.5h0M330.4 1521.9h0M332.5 1521h0M334.8 1522.7h0M343 1522.3h0M345 1520.9h0M348.1 1522.9h0M348.5 1521.5h0M348.7 1522.2h0M352.4 1522.1h0M365.1 1522.5h0M364.8 1522.1h0M365.4 1520.8h0M364.5 1521.3h0M293.3 1520.1h0M294.9 1519h0M296.3 1519.9h0M297.9 1520h0M296.5 1520.2h0M298.2 1520.7h0M303.2 1519.7h0M305.5 1519.5h0M315.1 1520.1h0M320.9 1520h0M327.2 1520.6h0M341.1 1518.6h0M346 1519.5h0M349.4 1518.6h0M352.8 1519.6h0M352.3 1519.5h0M352.2 1519.6h0M360.5 1518.4h0M363.3 1518.4h0M366.8 1520.4h0M367.9 1519.6h0M303.1 1517.3h0M303.3 1517.5h0M301.4 1518.1h0M306.8 1516.6h0M312.5 1517.6h0M315.8 1516.9h0M319.1 1516.1h0M322 1518.1h0M325.1 1516h0M330.9 1517.7h0M343 1516h0M344.6 1516.6h0M344.3 1518.1h0M356.4 1516.2h0M365.4 1517.8h0M366.9 1517.2h0M307.5 1513.5h0M307.2 1513.7h0M310.6 1515.6h0M312.7 1513.7h0M322.2 1515.8h0M325.2 1514.5h0M331.3 1514.9h0M331.5 1515.4h0M336.4 1514.6h0M348.1 1513.9h0M348.2 1513.6h0M350.5 1515h0M351.4 1515.7h0M354.5 1514.3h0M357.1 1514.3h0M355.9 1514h0M359.5 1514.4h0M360.4 1514h0M359.3 1515h0M360.9 1514.5h0M368.1 1515.5h0M309.6 1513h0M308.7 1512.9h0M313.5 1511.3h0M313 1513.3h0M320.7 1511.2h0M322.8 1512.9h0M324.4 1512.6h0M327.5 1510.9h0M332.1 1512.6h0M339.8 1512.5h0M341.7 1511.2h0M345.4 1512.5h0M354.1 1512.4h0M365.7 1511.3h0M321.2 1508.9h0M330.1 1510.3h0M334.8 1510.4h0M336.7 1509.6h0M340.4 1510.3h0M338.6 1508.5h0M343.1 1509.7h0M346.1 1510.6h0M356.1 1509h0M359.1 1510h0M360.2 1509.7h0M367 1510.3h0M370.7 1509.4h0M320.3 1508h0M323.1 1508.3h0M325.7 1507.2h0M331.4 1506.8h0M340.3 1506.3h0M340.5 1506.4h0M339.2 1506.7h0M343.2 1506.2h0M344.6 1507.9h0M347.7 1506.1h0M348.3 1505.9h0M355.1 1508.1h0M354.1 1506.8h0M353.9 1506.3h0M357.8 1507.1h0M358.9 1507.6h0M362.1 1507.5h0M361.7 1506.1h0M366.3 1506.3h0M369.1 1507h0M369 1507.7h0M372.7 1507h0M325.1 1505.7h0M326.6 1504h0M328.9 1505h0M331.6 1503.5h0M337.2 1504.4h0M336.4 1504.8h0M340.3 1505.5h0M339.7 1504h0M344.8 1505.5h0M344.3 1505.3h0M357.5 1504.6h0M358.4 1504h0M361.7 1505.7h0M369.3 1504.5h0M370.2 1503.5h0M370.9 1505.8h0M336 1501.3h0M336 1501.1h0M335.6 1502.1h0M338.2 1501.9h0M336.4 1503.3h0M339.2 1502.4h0M342.2 1502.2h0M342.5 1501.3h0M349.2 1502.9h0M353.8 1501h0M367.7 1501.5h0M366.7 1502.8h0M369.8 1502.5h0M370 1501.5h0M374 1502.3h0M375.3 1501.1h0M373.4 1502.1h0M375.9 1502.8h0M335.3 1499.9h0M337.8 1498.5h0M340.7 1499.8h0M348.6 1499.2h0M350.5 1499.5h0M359.5 1499h0M374.6 1500.8h0M345.6 1498.3h0M347.1 1497.9h0M349.6 1497.3h0M356.2 1497.9h0M360.2 1496.6h0M360 1497.9h0M360.2 1497.7h0M363.4 1496.8h0M366 1496.1h0M373.1 1496.4h0M374.6 1497.8h0M376.5 1498.2h0M375.9 1497.4h0M356.8 1494.7h0M365.4 1494.7h0M367.6 1494.7h0M369.8 1495.5h0M372.2 1495.6h0M372 1495.8h0M378.8 1495h0M382.2 1494h0M362.6 1492.7h0M361.8 1491.5h0M371.5 1493h0M375.7 1492.8h0M376.8 1492.9h0M378.8 1492h0M380.8 1492h0M383.6 1492.9h0M354.6 1490.7h0M355 1488.7h0M357.2 1489.9h0M358.6 1489.1h0M372.2 1490.9h0M372 1490.2h0M374.4 1489.8h0M374 1489.7h0M377.5 1490.8h0M359.6 1486.7h0M361.8 1486.3h0M362.5 1487.3h0M361 1486.1h0M365.3 1486.2h0M375.5 1487.9h0M375.4 1487.8h0M378 1486.2h0M380.3 1486.9h0M386 1487.7h0M366.2 1486h0M370 1485.7h0M377.8 1485.7h0M384 1484.1h0M383.8 1485.8h0M363.4 1483.3h0M369.2 1483h0M375.3 1482.9h0M376.1 1482.9h0M379.9 1481.1h0M381.6 1481.6h0"/>
</g>
<line x1="249.10" y1="1610.20" x2="1738.70" y2="119.70" stroke="#f00" stroke-width="7.8" stroke-dasharray="33.22 14.36"/>
<line x1="249.10" y1="1578.90" x2="1738.70" y2="293.09" stroke="#000" stroke-width="8.2"/>
</g>
<path d="M497.37 1610.20v-25M249.10 1361.78h25M745.63 1610.20v-25M249.10 1113.37h25M993.90 1610.20v-25M249.10 864.95h25M1242.17 1610.20v-25M249.10 616.53h25M1490.43 1610.20v-25M249.10 368.12h25" stroke="#000" stroke-width="6" fill="none"/>
<rect x="249.10" y="119.70" width="1489.60" height="1490.50" fill="none" stroke="#000" stroke-width="7.50"/>
<text transform="translate(249.10 1684.30) scale(1.0000 1.0450)" font-size="67.80" text-anchor="middle">0</text>
<text transform="translate(223.00 1635.50) scale(1.0000 1.0450)" font-size="67.80" text-anchor="end">0</text>
<text transform="translate(497.37 1684.30) scale(1.0000 1.0450)" font-size="67.80" text-anchor="middle">50</text>
<text transform="translate(223.00 1387.08) scale(1.0000 1.0450)" font-size="67.80" text-anchor="end">50</text>
<text transform="translate(745.63 1684.30) scale(1.0000 1.0450)" font-size="67.80" text-anchor="middle">100</text>
<text transform="translate(223.00 1138.67) scale(1.0000 1.0450)" font-size="67.80" text-anchor="end">100</text>
<text transform="translate(993.90 1684.30) scale(1.0000 1.0450)" font-size="67.80" text-anchor="middle">150</text>
<text transform="translate(223.00 890.25) scale(1.0000 1.0450)" font-size="67.80" text-anchor="end">150</text>
<text transform="translate(1242.17 1684.30) scale(1.0000 1.0450)" font-size="67.80" text-anchor="middle">200</text>
<text transform="translate(223.00 641.83) scale(1.0000 1.0450)" font-size="67.80" text-anchor="end">200</text>
<text transform="translate(1490.43 1684.30) scale(1.0000 1.0450)" font-size="67.80" text-anchor="middle">250</text>
<text transform="translate(223.00 393.42) scale(1.0000 1.0450)" font-size="67.80" text-anchor="end">250</text>
<text transform="translate(1738.70 1684.30) scale(1.0000 1.0450)" font-size="67.80" text-anchor="middle">300</text>
<text transform="translate(223.00 145.00) scale(1.0000 1.0450)" font-size="67.80" text-anchor="end">300</text>
<g transform="translate(1072.0 1789.3)"><text transform="translate(19.20 0.00) scale(1.0000 1.0350)" font-size="67.60" text-anchor="end">Observed LE (</text><text transform="translate(20.60 0.00) scale(0.9800 1.0000)" font-size="68.50" text-anchor="start" class="m">W</text><text transform="translate(87.00 -3.50) scale(0.8000 1.0000)" font-size="62.00" text-anchor="start" class="r" fill="#333">/</text><text transform="translate(104.50 0.00) scale(0.9850 1.0000)" font-size="68.50" text-anchor="start" class="m">m</text><text transform="translate(173.50 -27.00) scale(0.9200 0.9500)" font-size="44.00" text-anchor="start" class="r">2</text><text transform="translate(198.50 0.00) scale(1.0000 1.0350)" font-size="67.40" text-anchor="start">)</text></g>
<g transform="translate(76.0 779.2) rotate(-90)"><text transform="translate(19.20 0.00) scale(1.0000 1.0350)" font-size="68.00" text-anchor="end">Simulated LE (</text><text transform="translate(20.60 0.00) scale(0.9800 1.0000)" font-size="68.50" text-anchor="start" class="m">W</text><text transform="translate(87.00 -3.50) scale(0.8000 1.0000)" font-size="62.00" text-anchor="start" class="r" fill="#333">/</text><text transform="translate(104.50 0.00) scale(0.9850 1.0000)" font-size="68.50" text-anchor="start" class="m">m</text><text transform="translate(173.50 -27.00) scale(0.9200 0.9500)" font-size="44.00" text-anchor="start" class="r">2</text><text transform="translate(198.50 0.00) scale(1.0000 1.0350)" font-size="67.40" text-anchor="start">)</text></g>
<text transform="translate(991.20 75.20) scale(1.0000 1.0200)" font-size="80.50" text-anchor="middle" font-weight="bold">Spatial transfer validation</text>
<rect x="296.8" y="168" width="458.3" height="401.6" rx="22" ry="22" fill="#fff" fill-opacity="0.9" stroke="#dcdcdc" stroke-width="6.5"/>
<text transform="translate(323.40 242.40) scale(1.0000 1.0430)" font-size="66.80" text-anchor="start">RMSE = 22.53</text>
<text transform="translate(323.40 314.00) scale(1.0000 1.0430)" font-size="66.80" text-anchor="start">MAE = 14.85</text>
<text transform="translate(323.40 385.30) scale(1.0000 1.0430)" font-size="66.80" text-anchor="start">R = 0.84</text>
<text transform="translate(323.40 457.20) scale(1.0000 1.0430)" font-size="66.80" text-anchor="start">KGE = 0.84</text>
<text transform="translate(323.40 528.60) scale(1.0000 1.0430)" font-size="66.80" text-anchor="start">N = 13,631</text>
<rect x="1802.65" y="114.00" width="75.30" height="1500.30" fill="url(#cb)" stroke="#000" stroke-width="7.5"/>
<path d="M1877.95 864.9h-25" stroke="#000" stroke-width="6" fill="none"/>
<text transform="translate(1903.90 140.00) scale(1.0000 1.0450)" font-size="66.90" text-anchor="start">High</text>
<text transform="translate(1903.90 889.30) scale(1.0000 1.0450)" font-size="66.90" text-anchor="start">Medium</text>
<text transform="translate(1903.90 1639.90) scale(1.0000 1.0450)" font-size="66.90" text-anchor="start">Low</text>
</svg></body></html>
